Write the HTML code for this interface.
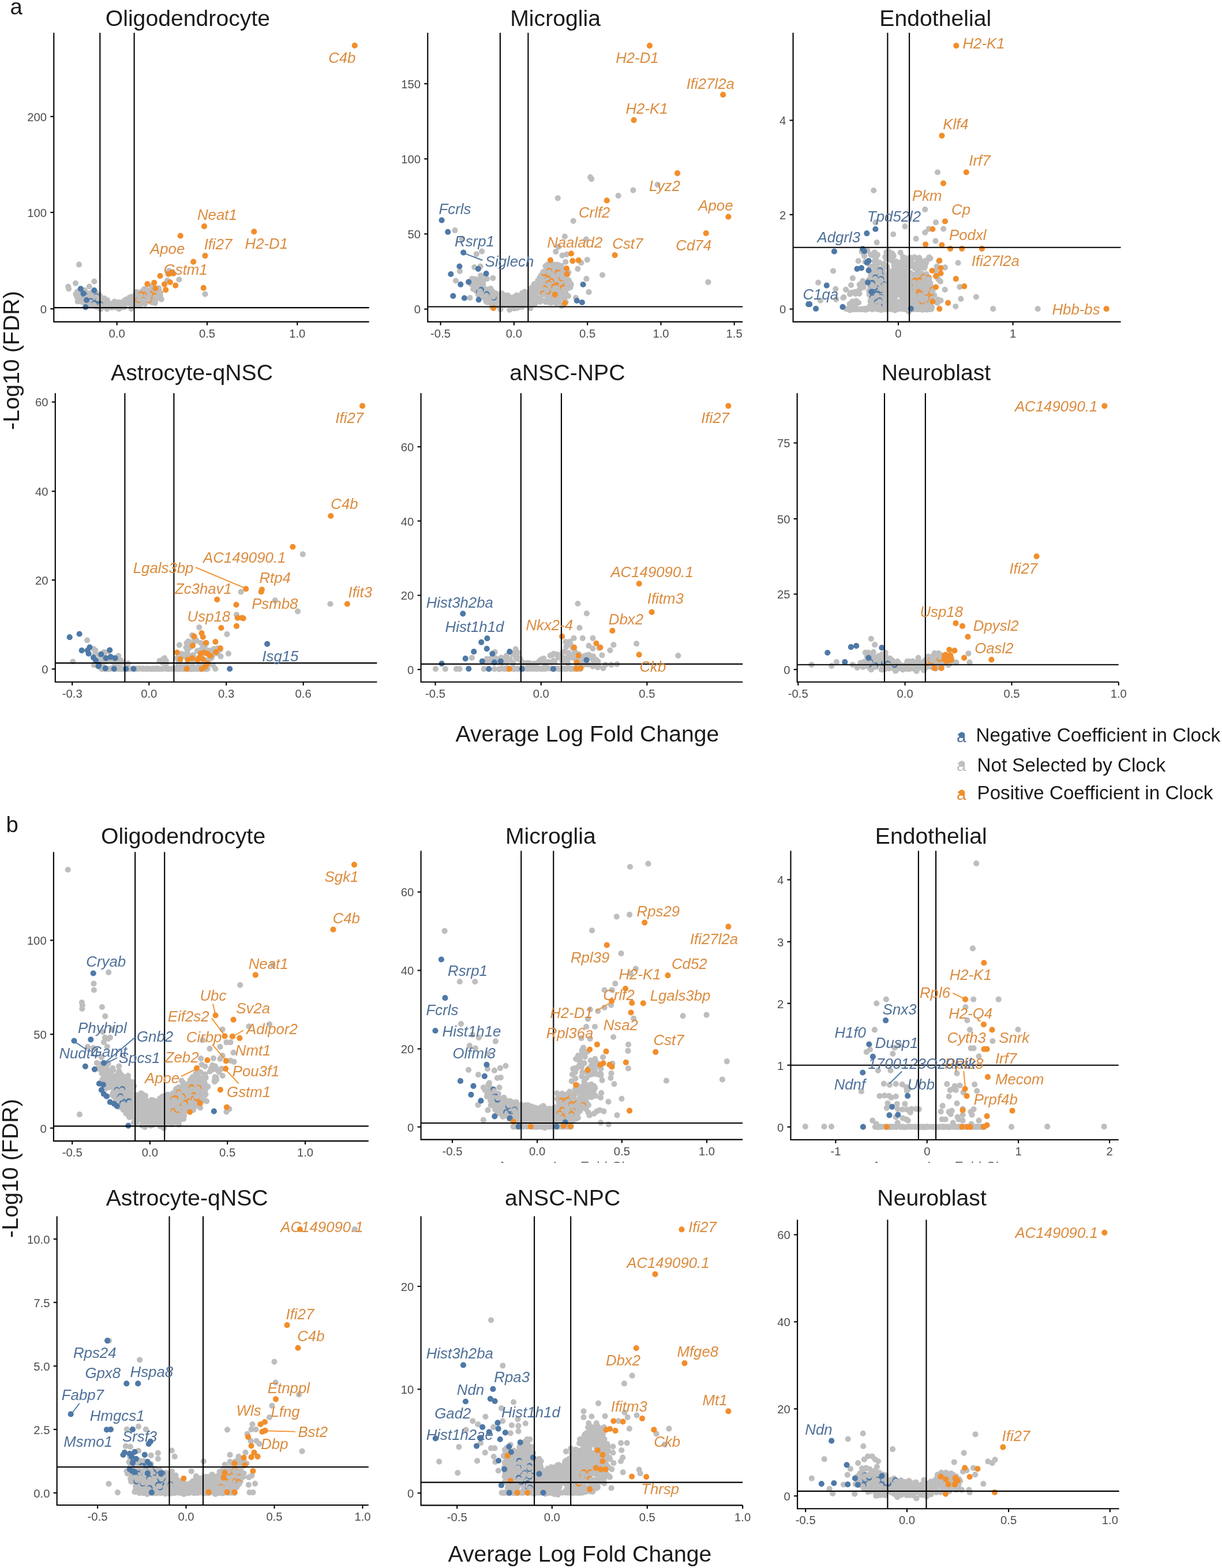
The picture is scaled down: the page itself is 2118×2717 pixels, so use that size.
<!DOCTYPE html>
<html lang="en"><head><meta charset="utf-8"><title>Volcano plots</title>
<style>html,body{margin:0;padding:0;background:#fff}body{width:2118px;height:2717px;overflow:hidden}svg{display:block}</style>
</head><body>
<svg width="2118" height="2717" viewBox="0 0 2118 2717" font-family="'Liberation Sans', Arial, sans-serif">
<rect width="2118" height="2717" fill="#fff"/>
<text x="17.4" y="24.9" font-size="38.3" text-anchor="start" fill="#1a1a1a">a</text>
<text x="10.4" y="1442" font-size="38.3" text-anchor="start" fill="#1a1a1a">b</text>
<text x="1018" y="1285" font-size="39.2" text-anchor="middle" fill="#1a1a1a">Average Log Fold Change</text>
<text x="1005" y="2705.5" font-size="39.2" text-anchor="middle" fill="#1a1a1a">Average Log Fold Change</text>
<text x="33.4" y="624.5" font-size="39.4" text-anchor="middle" fill="#1a1a1a" transform="rotate(-90 33.4 624.5)">-Log10 (FDR)</text>
<text x="31.1" y="2024.5" font-size="39.4" text-anchor="middle" fill="#1a1a1a" transform="rotate(-90 31.1 2024.5)">-Log10 (FDR)</text>
<text x="1666.1" y="1286.1" font-size="29.5" text-anchor="middle" fill="#4F7099">a</text>
<circle cx="1667.1" cy="1273.8" r="5.4" fill="#4E79A7"/>
<text x="1691.5" y="1285.4" font-size="33.2" fill="#1a1a1a">Negative Coefficient in Clock</text>
<text x="1666.1" y="1335.9" font-size="29.5" text-anchor="middle" fill="#BEBEBE">a</text>
<circle cx="1667.1" cy="1323.6" r="5.4" fill="#BEBEBE"/>
<text x="1693.5" y="1336.6" font-size="33.2" fill="#1a1a1a">Not Selected by Clock</text>
<text x="1666.1" y="1386" font-size="29.5" text-anchor="middle" fill="#DB8C3F">a</text>
<circle cx="1667.1" cy="1373.7" r="5.4" fill="#F28E2B"/>
<text x="1693.5" y="1385" font-size="33.2" fill="#1a1a1a">Positive Coefficient in Clock</text>
<clipPath id="gc0"><rect x="857.5" y="2012.8" width="300" height="2.2"/></clipPath>
<g clip-path="url(#gc0)"><text x="862.5" y="2030.4" font-size="24.2" fill="#333" opacity="0.75">Average Log Fold Change</text></g>
<clipPath id="gc1"><rect x="1506" y="2012.8" width="300" height="2.2"/></clipPath>
<g clip-path="url(#gc1)"><text x="1511" y="2030.4" font-size="24.2" fill="#333" opacity="0.75">Average Log Fold Change</text></g>
<g fill="none" stroke-width="10.2" stroke-linecap="round">
<text x="325.4" y="44.8" font-size="39.2" text-anchor="middle" fill="#1a1a1a">Oligodendrocyte</text>
<text x="256.2" y="523.2" font-size="25.8" font-style="italic" text-anchor="middle" fill="#F28E2B" stroke="none">Cst7</text>
<path d="M134.7 522.3h0M137.4 507.6h0M134.7 515.5h0M138.5 513.8h0M134.3 511h0M135.3 508h0M154.6 508.8h0M142.1 523.1h0M138.1 510.5h0M146.6 524.7h0M145.3 519.1h0M149.5 522.2h0M143.4 518.9h0M142.6 512.3h0M149.8 508.2h0M150.1 513.7h0M144.3 517.4h0M142 502.3h0M158.7 507h0M158.9 516.6h0M160.9 509.8h0M171.8 510.7h0M167.5 531.5h0M155.6 527.7h0M159.4 512.7h0M167.2 510.7h0M163.7 517.5h0M167.9 528.9h0M160 521.6h0M169.6 523h0M177.5 530.7h0M164.9 510.6h0M166.7 507.9h0M162.2 509.4h0M174.4 524.8h0M179 531.3h0M172.4 511.1h0M184.1 525.9h0M174.4 535.7h0M185.8 528.2h0M176.2 525h0M184 529.5h0M176 518.1h0M186.1 520.1h0M172.4 524.4h0M181.8 519.3h0M205.1 526.3h0M199.1 532.3h0M192.3 527.9h0M195.3 525.4h0M206.3 535.2h0M203.1 524.5h0M188.9 531.8h0M204.4 532.7h0M207.9 532.3h0M187.2 530.4h0M190.7 527.3h0M207.5 531.1h0M207.8 529.3h0M215.8 520.5h0M206.4 528h0M207.3 531h0M215 525.4h0M209.1 526.6h0M205.2 523.9h0M215.4 532.3h0M204.9 527.2h0M228.7 518.4h0M226.3 516.6h0M228.9 527.8h0M223.9 525.3h0M224.3 515.5h0M227.6 534.8h0M233.5 527.5h0M227.9 522.6h0M228.6 525.7h0M234.1 512h0M243.5 515.5h0M245 505.7h0M241.8 524.5h0M248.6 515.3h0M249.7 501h0M237.6 528.1h0M239.9 517.2h0M247.9 512.2h0M236.4 506.2h0M235.5 526.3h0M237.8 516.2h0M242.4 507.3h0M242.5 528.5h0M239.9 528h0M233.8 517.2h0M240.8 513.5h0M231.9 528.6h0M243 513.4h0M250 507.1h0M263.1 518.6h0M255.9 514.2h0M260.4 506.8h0M257.7 509h0M251.2 526.6h0M259.2 517.8h0M254.9 510.8h0M268.9 525.1h0M252.1 500.6h0M253.3 514.7h0M257.1 519.5h0M263.2 510h0M251.7 507.5h0M251.9 510.6h0M250.2 525.9h0M256.8 510.6h0M264.3 506.2h0M262.2 523.4h0M279.7 518.7h0M272.3 511h0M270.2 506.7h0M269.1 519.7h0M271.7 510.7h0M267.2 518.7h0M276.7 505.6h0M131.4 509.6h0M134.9 515.4h0M137.3 512.5h0M136 521.8h0M133.8 505.7h0M135.6 505.2h0M133.3 514.1h0M143.4 514.7h0M140.2 510.9h0M150.9 521.1h0M143.2 522.9h0M146.8 503.2h0M145.7 515.6h0M149.9 522.1h0M150.1 520h0M140.3 509h0M142.3 506.2h0M150.7 520.2h0M138.8 514h0M147.8 518.6h0M150.9 507.8h0M137.7 516.4h0M139.7 509.8h0M172.3 526h0M171.6 526.4h0M169.5 525.4h0M168 518.1h0M155 509.9h0M165.5 515h0M170.1 516.1h0M155.8 508.7h0M165.4 529.6h0M173.8 513.9h0M163.1 515.5h0M159.1 511.4h0M160.2 514h0M157.9 514.7h0M166.6 517.8h0M166.8 517.8h0M169.8 525.3h0M158.8 520.2h0M155.6 526.2h0M161 511.5h0M181.6 523.6h0M181.6 527.5h0M173.8 525.1h0M176.6 523.3h0M184.4 525.4h0M181 517.1h0M185.5 527.7h0M174.2 528.2h0M176.3 530.6h0M187.7 531.7h0M185.5 535.1h0M176.8 518.2h0M179 524.7h0M191.6 531.8h0M188 527.4h0M201.6 529.8h0M198.4 522.6h0M201.7 531.6h0M200.9 529.4h0M199.9 530.6h0M203.7 530.5h0M199.9 530.2h0M189.5 529.6h0M208.5 533.7h0M195.8 532.1h0M194.1 532.8h0M208.3 531.9h0M208.3 524h0M218.8 518.9h0M213.5 531.5h0M208.2 527.4h0M216 527.9h0M209.2 528.6h0M208.8 529.9h0M206 528.9h0M207 529.8h0M214.9 527.9h0M217.8 524.3h0M225.7 524.1h0M227.4 514.4h0M224.4 521.5h0M224.2 526h0M229.6 524.9h0M227 524.2h0M230.2 524.9h0M238 524.4h0M230.6 516.6h0M224.4 525.1h0M230.1 531h0M234.7 521.7h0M239.5 522h0M235.8 513.5h0M249.4 524.2h0M244.8 515.6h0M245.6 521.4h0M235.6 511h0M243.8 515.7h0M248.1 503.3h0M243.4 508.9h0M244 516.6h0M242.1 517.9h0M248.9 515.9h0M247.6 522.9h0M243.6 509.7h0M244.2 515.3h0M246.5 521.6h0M235.7 515.8h0M249.1 512h0M240.6 518.7h0M240.1 514.9h0M258.4 508.2h0M258.6 502.8h0M245.9 505.8h0M246.5 519.8h0M263.9 519h0M252.7 503.1h0M261.4 511.1h0M250.9 522.1h0M262.5 512.7h0M265.8 512.4h0M258.5 509h0M249.9 517.9h0M251.4 513.9h0M263.7 507.7h0M248.6 518h0M260.2 502.5h0M262.8 496.2h0M264 524.1h0M251.6 524.5h0M258.4 508.6h0M264.1 506.8h0M269 517.5h0M267.5 514.3h0M267.1 519.9h0M269 505.8h0M270.6 511.4h0M270.4 513.4h0M276.2 509.6h0M274.2 507h0M270.3 516.2h0" stroke="#BEBEBE"/>
<path d="M167 513h0" stroke="#4E79A7"/>
<path d="M166.5 514.9h0" stroke="#BEBEBE"/>
<path d="M146.8 511.4h0" stroke="#4E79A7"/>
<path d="M148.3 514h0" stroke="#BEBEBE"/>
<path d="M157.4 521.7h0" stroke="#4E79A7"/>
<path d="M157.3 523.9h0" stroke="#BEBEBE"/>
<path d="M173.6 526.9h0" stroke="#4E79A7"/>
<path d="M174.6 529.9h0" stroke="#BEBEBE"/>
<path d="M168.7 520.2h0" stroke="#4E79A7"/>
<path d="M169.7 517.1h0" stroke="#BEBEBE"/>
<path d="M163.1 526h0" stroke="#4E79A7"/>
<path d="M162.7 528h0" stroke="#BEBEBE"/>
<path d="M249.4 510.7h0" stroke="#F28E2B"/>
<path d="M248.6 513.2h0" stroke="#BEBEBE"/>
<path d="M263 509.5h0" stroke="#F28E2B"/>
<path d="M261.7 511.4h0" stroke="#BEBEBE"/>
<path d="M244.7 509.6h0" stroke="#F28E2B"/>
<path d="M243.7 512.6h0" stroke="#BEBEBE"/>
<path d="M261.8 520.7h0" stroke="#F28E2B"/>
<path d="M262.5 523.4h0" stroke="#BEBEBE"/>
<path d="M248.3 519.5h0" stroke="#F28E2B"/>
<path d="M249.2 521.3h0" stroke="#BEBEBE"/>
<path d="M266.9 505.1h0" stroke="#F28E2B"/>
<path d="M268.2 502.7h0" stroke="#BEBEBE"/>
<path d="M258.1 520.7h0" stroke="#F28E2B"/>
<path d="M257.1 518.8h0" stroke="#BEBEBE"/>
<path d="M239.2 519h0" stroke="#F28E2B"/>
<path d="M240.7 521.9h0" stroke="#BEBEBE"/>
<path d="M240.1 520.2h0" stroke="#F28E2B"/>
<path d="M241.1 518.4h0" stroke="#BEBEBE"/>
<path d="M267.8 513.4h0" stroke="#F28E2B"/>
<path d="M269 515.1h0" stroke="#BEBEBE"/>
<path d="M614.8 78.8h0M440.3 401.3h0" stroke="#F28E2B"/>
<path d="M137 458.4h0M131 490.9h0M163.3 487.7h0M118.2 496.5h0M119.1 500.3h0M154.8 496.5h0M310.4 484.5h0M355.5 509.7h0M275.1 499.3h0M290.1 486.2h0M277.9 512.5h0M292.9 469.3h0" stroke="#BEBEBE"/>
<path d="M139.8 500.3h0M144.5 508.7h0M150.1 520h0M163.3 503.1h0M148.3 532.2h0" stroke="#4E79A7"/>
<path d="M354 392.2h0M312.7 408.7h0M355.5 443.1h0M335.2 453.7h0M277.5 478.1h0M292 474.9h0M296.7 473.4h0M300.5 474h0M255.4 492.2h0M267.2 489.9h0M285 492.7h0M294.8 489h0M304.2 494.6h0M287.3 502.1h0M269.4 499.7h0M352.7 498.9h0" stroke="#F28E2B"/>
<line x1="173.3" y1="56.8" x2="173.3" y2="557.6" stroke="#000" stroke-width="2.1" stroke-linecap="butt"/>
<line x1="232.6" y1="56.8" x2="232.6" y2="557.6" stroke="#000" stroke-width="2.1" stroke-linecap="butt"/>
<line x1="93.3" y1="533.1" x2="639.7" y2="533.1" stroke="#000" stroke-width="2.1" stroke-linecap="butt"/>
<path d="M93.3 56.8V557.6H639.7" fill="none" stroke="#000" stroke-width="2.1" stroke-linecap="butt" stroke-linejoin="miter"/>
<line x1="87.3" y1="201.9" x2="93.3" y2="201.9" stroke="#000" stroke-width="2.1" stroke-linecap="butt"/>
<text x="81.1" y="209.7" font-size="20.3" text-anchor="end" fill="#4d4d4d">200</text>
<line x1="87.3" y1="368.1" x2="93.3" y2="368.1" stroke="#000" stroke-width="2.1" stroke-linecap="butt"/>
<text x="81.1" y="375.9" font-size="20.3" text-anchor="end" fill="#4d4d4d">100</text>
<line x1="87.3" y1="535.2" x2="93.3" y2="535.2" stroke="#000" stroke-width="2.1" stroke-linecap="butt"/>
<text x="81.1" y="543" font-size="20.3" text-anchor="end" fill="#4d4d4d">0</text>
<line x1="202.7" y1="557.6" x2="202.7" y2="563.6" stroke="#000" stroke-width="2.1" stroke-linecap="butt"/>
<text x="202.7" y="584.8" font-size="20.3" text-anchor="middle" fill="#4d4d4d">0.0</text>
<line x1="359" y1="557.6" x2="359" y2="563.6" stroke="#000" stroke-width="2.1" stroke-linecap="butt"/>
<text x="359" y="584.8" font-size="20.3" text-anchor="middle" fill="#4d4d4d">0.5</text>
<line x1="515.3" y1="557.6" x2="515.3" y2="563.6" stroke="#000" stroke-width="2.1" stroke-linecap="butt"/>
<text x="515.3" y="584.8" font-size="20.3" text-anchor="middle" fill="#4d4d4d">1.0</text>
<text x="592.8" y="109.1" font-size="25.8" font-style="italic" text-anchor="middle" fill="#DB8C3F">C4b</text>
<text x="376.4" y="380.6" font-size="25.8" font-style="italic" text-anchor="middle" fill="#DB8C3F">Neat1</text>
<text x="290.2" y="439.5" font-size="25.8" font-style="italic" text-anchor="middle" fill="#DB8C3F">Apoe</text>
<text x="461.8" y="431.2" font-size="25.8" font-style="italic" text-anchor="middle" fill="#DB8C3F">H2-D1</text>
<text x="378.1" y="432" font-size="25.8" font-style="italic" text-anchor="middle" fill="#DB8C3F">Ifi27</text>
<text x="321.7" y="476" font-size="25.8" font-style="italic" text-anchor="middle" fill="#DB8C3F">Gstm1</text>
</g>
<g fill="none" stroke-width="10.2" stroke-linecap="round">
<text x="962.6" y="44.8" font-size="39.2" text-anchor="middle" fill="#1a1a1a">Microglia</text>
<path d="M820.3 486.6h0M826.2 487.3h0M822.8 494.5h0M818.3 482.9h0M826 488.2h0M824.4 483.9h0M826.8 490.9h0M826.8 500.2h0M824.1 496.9h0M844.9 504.1h0M844.3 513.6h0M837.1 487.9h0M835.5 509.2h0M835.1 488.9h0M840 507h0M842.3 522.2h0M835.7 501h0M830.5 485.1h0M832.8 495h0M834.3 503.2h0M831.7 488h0M835.4 496.7h0M844.1 523.6h0M844 511.1h0M833.5 509.1h0M843.1 514.6h0M834.9 499.9h0M850.7 507.7h0M853.1 531.9h0M851.8 516.6h0M844.2 508.8h0M854.2 521.5h0M856.8 516.3h0M848.3 508h0M849.4 523.1h0M853.7 504.8h0M850.9 525.6h0M843.8 501.5h0M845.9 519.9h0M845.4 510.5h0M858.8 515.6h0M857.4 527.6h0M864 526.3h0M858.6 528.6h0M862.5 530h0M862.3 509.9h0M857.3 510h0M859.1 529.7h0M858.5 508h0M867.6 521.9h0M864.4 511.7h0M880 511.9h0M872.2 523.4h0M867.5 536.1h0M869.7 508.3h0M872.2 515.9h0M866.5 533.6h0M889.5 531.5h0M884.6 522.3h0M874 515.6h0M880.8 515h0M889.6 526.4h0M883.1 524.3h0M883.3 521.3h0M876.7 526.5h0M873.4 511.4h0M872.3 520.8h0M881.7 513.4h0M890.1 515.2h0M878.6 520.8h0M872.3 515.6h0M861.9 524.5h0M877.3 528.5h0M869.7 514.2h0M896.2 533.7h0M905 531.7h0M902.6 511.8h0M908.7 508.2h0M893.2 534h0M899.8 532.2h0M909.2 505.7h0M892.6 521.8h0M906.4 509.9h0M899 519h0M895.1 511.9h0M893.6 526.5h0M889.9 519.3h0M904.8 508.1h0M907.9 515.7h0M902.9 511.8h0M898.4 517.4h0M902.2 530.9h0M903.6 530.6h0M900 512.4h0M902.7 523.7h0M905.1 515.4h0M908.8 520.1h0M922.8 499.5h0M913.7 529.4h0M913.9 516.9h0M913.7 517.6h0M921.2 503.9h0M922.3 528.3h0M923.8 505.9h0M924.4 515.7h0M915.6 519h0M919.6 533.9h0M923.4 527.1h0M916.6 515.7h0M919.4 516.5h0M922.4 497.8h0M918.5 520.3h0M924.5 496.8h0M920.1 514.4h0M930.7 492.7h0M934.7 497.9h0M927.8 523.8h0M932.3 486h0M934.1 495h0M924.1 505.6h0M933 494.2h0M933.9 504.6h0M925.2 511.9h0M935.9 516.2h0M924.8 527.4h0M933.2 502.2h0M924.6 508.4h0M934.5 519.1h0M933.3 517.8h0M940.8 486.4h0M934.2 521.3h0M926 492.1h0M923.1 501.6h0M935.2 522.2h0M939.4 494.3h0M944.8 504.6h0M942.1 492h0M953.6 488.3h0M945.2 495.4h0M949.8 493.5h0M948.3 468.3h0M952.5 477.2h0M945.5 461h0M943 477.3h0M947.7 512h0M946 510.1h0M946.3 474.1h0M945.2 502.1h0M944.1 521.6h0M945.2 471.2h0M949.7 523.5h0M951.2 491.6h0M947.8 479.8h0M947.5 520.8h0M946.5 490.7h0M948.9 467.1h0M945.9 523.2h0M948.8 458.5h0M952.2 513.4h0M935.4 500.4h0M941.8 498.2h0M941.1 472.1h0M950.3 466.9h0M951.9 519.6h0M949 487.1h0M937 486.5h0M961.4 516.1h0M960.7 477.4h0M964.6 514.6h0M958.8 483.4h0M961.5 503.9h0M954.2 509.5h0M965.7 458.6h0M960.5 458.9h0M967.3 480.2h0M964.4 469.5h0M960.3 470.9h0M955.9 513.5h0M968.6 523h0M967.2 504.3h0M960.9 490.8h0M957.2 457.6h0M966.2 460.3h0M960.4 507.1h0M956.1 469.5h0M954.2 521.9h0M965.6 490.7h0M965.8 474.7h0M959.4 496.2h0M966.7 474.5h0M954.8 474.9h0M965.7 509.5h0M959.3 463.1h0M955.8 524.3h0M968.7 470.8h0M970 463.2h0M981.6 481.2h0M972 502.1h0M972.4 489.5h0M970.1 498.3h0M968.5 508.8h0M976.6 509.2h0M979.1 477.9h0M970.5 493.5h0M975.6 484.3h0M977.1 516.7h0M975.5 508h0M980.6 523.3h0M964 523.3h0M969 468.3h0M970.4 479.9h0M972.6 503.7h0M972.1 464.8h0M972.9 460.8h0M980 522.7h0M974.4 484.3h0M966 464.9h0M977 486.7h0M973.5 500.7h0M980.4 494.2h0M966.7 474h0M982.6 475.4h0M983.4 475.7h0M979.1 477.7h0M981.7 466.9h0M980.8 494.8h0M982.2 491.3h0M977.9 474.3h0M979.8 482.8h0M989.4 492.8h0M984.4 499.5h0M988.3 498.1h0M983.9 486.3h0M989.4 492.1h0M823.9 499.7h0M816.8 492.5h0M820.2 500.8h0M821.3 498h0M825 501.9h0M820.4 493.5h0M826 493.3h0M823.9 495.1h0M824.4 494.5h0M825.2 503.9h0M825.3 499.6h0M832.8 502.1h0M830 502.5h0M837 499.1h0M829 500.6h0M844.7 508.6h0M837.7 506.2h0M828.9 510.7h0M840.8 505.9h0M838.4 513h0M834.8 479.2h0M839.6 516.2h0M826.9 491.5h0M840.8 514.4h0M841.4 508.3h0M830.5 490.3h0M837.1 495.1h0M837.2 492.8h0M838.1 507.6h0M835 485.9h0M829.9 502.2h0M845.3 511.2h0M843 516.2h0M851.3 509.1h0M850.7 516.4h0M843.7 519.1h0M853.1 522.1h0M849.9 518.1h0M848.7 509.5h0M853.2 516.1h0M853.5 519.5h0M846.3 517h0M851.4 515.1h0M847 511.1h0M850.4 500.2h0M851.7 513.7h0M857.6 518.4h0M861.4 518.2h0M861.3 516.4h0M863.9 520.9h0M866 520.6h0M864.2 521.1h0M854.6 517.5h0M858.1 525h0M858.5 518.9h0M859.4 512.2h0M858.3 515.4h0M860.5 524h0M863.9 528.4h0M886.5 523.7h0M873.7 527h0M886.5 520.9h0M882.3 527.6h0M887.7 523.4h0M872.5 518.8h0M867 528h0M886.9 528.4h0M877.7 520.6h0M874.5 526.9h0M876 526.3h0M883.1 527.5h0M887.6 520.5h0M876.1 519h0M877 525.8h0M886.8 527.1h0M869 524.2h0M878.4 515.2h0M886.3 519.1h0M885.1 521.2h0M866.5 523.1h0M874.8 529.4h0M868.6 519h0M884.2 525.6h0M883.1 536.8h0M880.3 525.1h0M869.3 522.3h0M884.1 527h0M890.9 534.3h0M906.9 521.6h0M909.1 522.4h0M905.3 510.6h0M895.9 524.6h0M902.3 524h0M903.8 527.4h0M891.2 533h0M895.3 532.2h0M907.5 525.9h0M900.5 513.6h0M894.2 516.1h0M902.8 529.9h0M907.9 512.2h0M891.5 525.3h0M901.9 524.3h0M905.5 517.6h0M911.2 506.6h0M907.6 520.8h0M909.4 515.7h0M899.1 530.4h0M892.5 516.5h0M901 524.6h0M896.9 520.1h0M898.2 521.9h0M897.3 525.2h0M914.9 512h0M920.8 505.9h0M913.7 516.9h0M915.1 514.9h0M912.1 512.2h0M920.1 500.4h0M922.2 517.2h0M918.6 517.9h0M925.8 526.3h0M923.8 501.6h0M914.3 509.6h0M911.5 515.2h0M916.2 514.9h0M921.7 513.9h0M920.3 514.3h0M912.1 508.5h0M924.5 515.8h0M921.5 509h0M914.5 507.1h0M940.5 505h0M935.3 481.3h0M927.7 511.3h0M932 499.5h0M938.3 494.4h0M929.8 506h0M935.3 503h0M929.2 515.6h0M935.9 491.9h0M938.1 503.2h0M929.6 507.8h0M928.8 517.3h0M928.2 522.2h0M938.1 502.2h0M928.4 503.4h0M927.2 526.3h0M924.5 500.6h0M923.2 507.1h0M939.4 506.1h0M929.7 520.5h0M924.8 517.8h0M930.2 505.9h0M927.8 512.1h0M928.7 523.5h0M922.4 516.3h0M941.6 494.4h0M943.5 487.1h0M949.2 479.6h0M940 508.6h0M940.4 485.6h0M938.1 520.2h0M941.6 502.8h0M942.6 505.6h0M949.1 476.6h0M944.5 494.3h0M946.9 488.8h0M952.9 479.4h0M955.5 479.7h0M954 483.6h0M952.4 501h0M937.8 477h0M945.4 478.1h0M945.4 495.8h0M938.4 507.2h0M946.9 482.3h0M950.9 507h0M946.9 506.7h0M940.5 480h0M935.8 516.9h0M953 497.3h0M944.7 485.1h0M947.9 504.8h0M950.6 484.9h0M947.8 477.1h0M941.8 480.6h0M951.1 502.6h0M951.5 494.4h0M950.2 497.4h0M945.7 497.3h0M936.2 523h0M952.9 492.5h0M965 480.6h0M962.3 497.7h0M957.3 490.3h0M957.1 494.8h0M963.9 496.6h0M959 469.2h0M962.4 517.8h0M957.5 465h0M954.5 498.2h0M957.2 503.8h0M959.9 469.6h0M966.4 499.9h0M956.7 514.3h0M963.6 495.9h0M959.3 488.9h0M957.8 469.9h0M964.8 482.7h0M962.6 476h0M955.5 480.5h0M957.1 498.5h0M961.6 495.4h0M954.7 479.7h0M969.9 497.4h0M959.8 469.5h0M957.9 487.7h0M954.3 524.6h0M961.9 510.2h0M968.1 489.6h0M963.2 476.7h0M961.3 483.6h0M952.5 482.4h0M957.3 492.8h0M952 503.4h0M977.8 517.1h0M970.2 470.6h0M978.3 493.6h0M979.9 496.8h0M969.7 499.3h0M968 459.4h0M976.8 495.6h0M975.8 491.1h0M978.8 481h0M974.1 516.3h0M966.9 488.1h0M969.1 515.4h0M975.4 472h0M969.9 501.1h0M976.8 481.1h0M968 473.6h0M968.8 488.1h0M971.1 470.9h0M975.2 509.2h0M977.8 506.7h0M975.3 482.1h0M971.8 481.2h0M970.3 487.1h0M979.8 489.1h0M974 495.1h0M969.8 510h0M980.3 484.9h0M968.9 480h0M977 472.6h0M970.3 484.4h0M977.8 468h0M975.5 477.9h0M970.4 489.2h0M977.3 485.7h0M985.3 472.1h0M981.7 490h0M977.8 491.5h0M981.5 492.7h0M983.1 487h0M980.4 507.4h0M983.2 496.9h0M981.7 500.8h0M984.3 490.9h0M978.1 496.8h0M985.2 492.8h0M985.9 485.5h0M985.3 491.2h0M986.6 490.7h0M987.3 489.3h0" stroke="#BEBEBE"/>
<path d="M833.9 508.3h0" stroke="#4E79A7"/>
<path d="M834.9 509.9h0" stroke="#BEBEBE"/>
<path d="M829.9 506.4h0" stroke="#4E79A7"/>
<path d="M830.8 508.6h0" stroke="#BEBEBE"/>
<path d="M843.7 509.6h0" stroke="#4E79A7"/>
<path d="M843 512.4h0" stroke="#BEBEBE"/>
<path d="M855.9 515.9h0" stroke="#4E79A7"/>
<path d="M855 514.2h0" stroke="#BEBEBE"/>
<path d="M834 502.2h0" stroke="#4E79A7"/>
<path d="M832.2 504.8h0" stroke="#BEBEBE"/>
<path d="M944.4 474.3h0" stroke="#F28E2B"/>
<path d="M943.4 476h0" stroke="#BEBEBE"/>
<path d="M973.1 492h0" stroke="#F28E2B"/>
<path d="M971.7 489.7h0" stroke="#BEBEBE"/>
<path d="M943.1 473.7h0" stroke="#F28E2B"/>
<path d="M942.4 470.7h0" stroke="#BEBEBE"/>
<path d="M950 505.6h0" stroke="#F28E2B"/>
<path d="M949.2 508.5h0" stroke="#BEBEBE"/>
<path d="M968.7 478.1h0" stroke="#F28E2B"/>
<path d="M968.2 480.2h0" stroke="#BEBEBE"/>
<path d="M944.8 499.4h0" stroke="#F28E2B"/>
<path d="M943.1 501.8h0" stroke="#BEBEBE"/>
<path d="M966.5 472.2h0" stroke="#F28E2B"/>
<path d="M967.9 475h0" stroke="#BEBEBE"/>
<path d="M949.7 482.2h0" stroke="#F28E2B"/>
<path d="M949.3 485.3h0" stroke="#BEBEBE"/>
<path d="M952 469h0" stroke="#F28E2B"/>
<path d="M951.6 471.6h0" stroke="#BEBEBE"/>
<path d="M956 487.3h0" stroke="#F28E2B"/>
<path d="M954.8 490.2h0" stroke="#BEBEBE"/>
<path d="M974.7 483.3h0" stroke="#F28E2B"/>
<path d="M975.5 485.4h0" stroke="#BEBEBE"/>
<path d="M965.2 494h0" stroke="#F28E2B"/>
<path d="M966.9 496.4h0" stroke="#BEBEBE"/>
<path d="M941.2 508.4h0" stroke="#F28E2B"/>
<path d="M942.4 510.5h0" stroke="#BEBEBE"/>
<path d="M950.8 490.5h0" stroke="#F28E2B"/>
<path d="M951.3 493h0" stroke="#BEBEBE"/>
<path d="M973.6 482.7h0" stroke="#F28E2B"/>
<path d="M975.1 481.1h0" stroke="#BEBEBE"/>
<path d="M963.4 494.8h0" stroke="#F28E2B"/>
<path d="M962.8 498h0" stroke="#BEBEBE"/>
<path d="M960.3 496.7h0" stroke="#F28E2B"/>
<path d="M962 499.4h0" stroke="#BEBEBE"/>
<path d="M949.6 505.1h0" stroke="#F28E2B"/>
<path d="M947.8 503.5h0" stroke="#BEBEBE"/>
<path d="M975.2 498.5h0" stroke="#F28E2B"/>
<path d="M976.8 501.4h0M1023.2 307.2h0M1025.2 310.1h0M966.8 343.3h0M1071.7 339.1h0M1097.4 329.6h0M1139.6 320h0M1227.5 488.8h0" stroke="#BEBEBE"/>
<path d="M1126 79.2h0M1253.2 164.2h0M1098.6 208.1h0M1174.1 300.1h0M1051.8 347.4h0M1262.4 375.6h0M1223.8 404.2h0" stroke="#F28E2B"/>
<path d="M993.7 382.9h0M788.5 399.1h0M800.7 413.6h0M978.9 409.8h0M1015.9 414.5h0M968 427.6h0M963.3 436.1h0M835.1 435.7h0M825.7 440.4h0M974.5 442.7h0M982.1 440.8h0M1017.8 450.2h0M1007.4 455.3h0M980.2 454h0M1001.4 465.8h0M1044.1 476.5h0M1016.4 483.1h0M822.3 463h0M832.7 461.5h0M797 469.9h0M833.2 477.4h0M854.3 481.8h0M844 483.1h0M790 486.5h0M986.8 489.7h0M989.6 493.4h0M984.9 498.1h0M978.3 505.6h0M1020.6 506.2h0M984.9 513.1h0M998 516h0M814.5 516h0M964.2 525.4h0M973.6 530.1h0" stroke="#BEBEBE"/>
<path d="M765.6 381.6h0M776.3 401.9h0M803.2 437.6h0M796.4 461.5h0M828.9 465.8h0M842.6 474.1h0M781.4 475h0M812.2 488.7h0M798.3 492.8h0M785.3 512.8h0M804.9 516.5h0M829.7 519.3h0M1010.6 493h0M999.9 521h0M1008.9 524h0" stroke="#4E79A7"/>
<path d="M990 439.3h0M953.9 450.8h0M992.4 452.1h0M1002.7 451.1h0M1065.7 442.1h0M961.8 510.7h0M978.9 525.4h0M855.2 533.8h0M982.1 465.2h0M982.6 475h0" stroke="#F28E2B"/>
<line x1="866.9" y1="56.8" x2="866.9" y2="557.6" stroke="#000" stroke-width="2.1" stroke-linecap="butt"/>
<line x1="915.4" y1="56.8" x2="915.4" y2="557.6" stroke="#000" stroke-width="2.1" stroke-linecap="butt"/>
<line x1="741.3" y1="531.5" x2="1287.2" y2="531.5" stroke="#000" stroke-width="2.1" stroke-linecap="butt"/>
<path d="M741.3 56.8V557.6H1287.2" fill="none" stroke="#000" stroke-width="2.1" stroke-linecap="butt" stroke-linejoin="miter"/>
<line x1="735.3" y1="145.1" x2="741.3" y2="145.1" stroke="#000" stroke-width="2.1" stroke-linecap="butt"/>
<text x="729.1" y="152.9" font-size="20.3" text-anchor="end" fill="#4d4d4d">150</text>
<line x1="735.3" y1="275.3" x2="741.3" y2="275.3" stroke="#000" stroke-width="2.1" stroke-linecap="butt"/>
<text x="729.1" y="283.1" font-size="20.3" text-anchor="end" fill="#4d4d4d">100</text>
<line x1="735.3" y1="405.4" x2="741.3" y2="405.4" stroke="#000" stroke-width="2.1" stroke-linecap="butt"/>
<text x="729.1" y="413.2" font-size="20.3" text-anchor="end" fill="#4d4d4d">50</text>
<line x1="735.3" y1="535.6" x2="741.3" y2="535.6" stroke="#000" stroke-width="2.1" stroke-linecap="butt"/>
<text x="729.1" y="543.4" font-size="20.3" text-anchor="end" fill="#4d4d4d">0</text>
<line x1="763.6" y1="557.6" x2="763.6" y2="563.6" stroke="#000" stroke-width="2.1" stroke-linecap="butt"/>
<text x="763.6" y="584.8" font-size="20.3" text-anchor="middle" fill="#4d4d4d">-0.5</text>
<line x1="890.9" y1="557.6" x2="890.9" y2="563.6" stroke="#000" stroke-width="2.1" stroke-linecap="butt"/>
<text x="890.9" y="584.8" font-size="20.3" text-anchor="middle" fill="#4d4d4d">0.0</text>
<line x1="1018.2" y1="557.6" x2="1018.2" y2="563.6" stroke="#000" stroke-width="2.1" stroke-linecap="butt"/>
<text x="1018.2" y="584.8" font-size="20.3" text-anchor="middle" fill="#4d4d4d">0.5</text>
<line x1="1145.5" y1="557.6" x2="1145.5" y2="563.6" stroke="#000" stroke-width="2.1" stroke-linecap="butt"/>
<text x="1145.5" y="584.8" font-size="20.3" text-anchor="middle" fill="#4d4d4d">1.0</text>
<line x1="1272.7" y1="557.6" x2="1272.7" y2="563.6" stroke="#000" stroke-width="2.1" stroke-linecap="butt"/>
<text x="1272.7" y="584.8" font-size="20.3" text-anchor="middle" fill="#4d4d4d">1.5</text>
<line x1="805.9" y1="439.4" x2="836.2" y2="451" stroke="#4E79A7" stroke-width="1.9" stroke-linecap="butt"/>
<text x="1104.4" y="109.1" font-size="25.8" font-style="italic" text-anchor="middle" fill="#DB8C3F">H2-D1</text>
<text x="1231.3" y="153.5" font-size="25.8" font-style="italic" text-anchor="middle" fill="#DB8C3F">Ifi27l2a</text>
<text x="1121" y="197" font-size="25.8" font-style="italic" text-anchor="middle" fill="#DB8C3F">H2-K1</text>
<text x="1152.1" y="330.5" font-size="25.8" font-style="italic" text-anchor="middle" fill="#DB8C3F">Lyz2</text>
<text x="1030.2" y="376.5" font-size="25.8" font-style="italic" text-anchor="middle" fill="#DB8C3F">Crlf2</text>
<text x="1240.4" y="364.9" font-size="25.8" font-style="italic" text-anchor="middle" fill="#DB8C3F">Apoe</text>
<text x="1202.2" y="434.1" font-size="25.8" font-style="italic" text-anchor="middle" fill="#DB8C3F">Cd74</text>
<text x="1087.8" y="431.2" font-size="25.8" font-style="italic" text-anchor="middle" fill="#DB8C3F">Cst7</text>
<text x="996.2" y="429.1" font-size="25.8" font-style="italic" text-anchor="middle" fill="#DB8C3F">Naalad2</text>
<text x="788.5" y="371.1" font-size="25.8" font-style="italic" text-anchor="middle" fill="#4F7099">Fcrls</text>
<text x="822.5" y="427.1" font-size="25.8" font-style="italic" text-anchor="middle" fill="#4F7099">Rsrp1</text>
<text x="883" y="462.3" font-size="25.8" font-style="italic" text-anchor="middle" fill="#4F7099">Siglech</text>
</g>
<g fill="none" stroke-width="10.2" stroke-linecap="round">
<text x="1621.3" y="44.8" font-size="39.2" text-anchor="middle" fill="#1a1a1a">Endothelial</text>
<path d="M1515.4 523.3h0M1515.8 493.3h0M1509.1 519.5h0M1515.7 491h0M1515.9 493.6h0M1517.3 478.8h0M1519.7 509.9h0M1508 490.4h0M1522 496.8h0M1521.9 527h0M1520.8 476.4h0M1514.9 503.6h0M1512.7 484.9h0M1513.1 485.9h0M1509.4 477.5h0M1505.9 484.8h0M1510 510.1h0M1523 513.5h0M1518 487.8h0M1512.3 510h0M1510.7 480.7h0M1507.2 530.8h0M1524.4 478.6h0M1511.8 485.5h0M1520.8 479.3h0M1519.6 526.6h0M1509.4 504.8h0M1517 491.5h0M1509.8 480.7h0M1511.2 488.2h0M1508.5 522.6h0M1513.4 495h0M1516.6 528.3h0M1528.8 499.3h0M1533 504.5h0M1528.3 485.4h0M1532.5 515h0M1528.4 505.2h0M1530.2 527.1h0M1528.9 517.3h0M1527.2 537.1h0M1528.3 533.7h0M1539.7 508.4h0M1523.6 488.4h0M1538.2 514h0M1532.9 508h0M1534.5 475.8h0M1537.9 518.8h0M1528.2 529.3h0M1522.9 476h0M1533.3 476h0M1534.9 475.2h0M1532.7 535h0M1525.4 506.4h0M1535.4 522.4h0M1531.6 534.4h0M1540.9 485.9h0M1524.2 501.3h0M1534.4 485.1h0M1526.6 476.5h0M1528.1 498.6h0M1532 515.1h0M1540 490.9h0M1541.2 470.6h0M1534.3 498.7h0M1529.2 485.9h0M1542.3 531.9h0M1535.3 509.9h0M1536.9 481.4h0M1520.5 474.4h0M1530.2 521.7h0M1529.3 527.8h0M1537 506.2h0M1524.5 491.7h0M1521.6 504.9h0M1525.8 494.4h0M1539.5 500.1h0M1530.9 522.3h0M1535.8 529.8h0M1530.6 471.7h0M1528.2 487.7h0M1567 516.3h0M1545.8 490.5h0M1562.1 499.3h0M1544.4 505.9h0M1542.6 506.9h0M1568.6 479.8h0M1573.5 506.6h0M1565.2 472.2h0M1575.1 495.7h0M1560 497.8h0M1567.9 489.3h0M1555.4 477.3h0M1571 513.9h0M1542.7 532.7h0M1556.2 503.2h0M1567.6 519h0M1552.5 468.6h0M1547.5 526.7h0M1559.1 492.8h0M1560.4 481.3h0M1546.8 529.4h0M1542.4 505.9h0M1553.8 497.8h0M1550.1 499.5h0M1567.6 533.1h0M1576.1 502.7h0M1569.3 481h0M1545.9 474.4h0M1540.9 489.6h0M1569.1 495.2h0M1543.9 483.2h0M1564.7 485.9h0M1546.7 500.6h0M1562.3 481.6h0M1564.7 499.1h0M1548 489.4h0M1561.2 500h0M1578.2 472.8h0M1555.9 471.8h0M1552.2 467.5h0M1547.7 469.1h0M1538 527.6h0M1543.8 475.7h0M1550.2 507.5h0M1550.7 505.8h0M1544 485.1h0M1561.3 465.5h0M1566.6 483.2h0M1558.5 477h0M1564.7 474.3h0M1577.5 510.3h0M1566 475h0M1566.2 475.9h0M1556.2 477.3h0M1544.2 501.5h0M1562.6 512.1h0M1540.7 519.1h0M1560.5 507.3h0M1564.1 523.6h0M1543.9 524.7h0M1553.5 483.3h0M1552.7 468.9h0M1545.2 528.7h0M1564.5 524.5h0M1560.3 505.4h0M1564.7 498h0M1548.5 488.6h0M1579.3 493.9h0M1572.7 480.7h0M1571.1 477.2h0M1575 523.7h0M1574.2 481.7h0M1575.5 521.5h0M1563.1 519.1h0M1568.4 509.7h0M1567.6 518.6h0M1569.5 508.2h0M1570.1 496.3h0M1542.5 515.3h0M1557.4 473.8h0M1549.8 512.8h0M1547.8 479.8h0M1574.4 493.5h0M1543.2 535.7h0M1547.4 530.2h0M1562.1 498.5h0M1552.5 510.7h0M1553 489.1h0M1575 539.8h0M1547.6 490h0M1552.3 529.5h0M1545 498.2h0M1558.8 483.4h0M1559.3 493.9h0M1570.7 467.9h0M1551.8 523.5h0M1545.6 526.6h0M1582.9 495.4h0M1589.5 519.4h0M1590.1 472.3h0M1583.8 521.7h0M1585.1 506.1h0M1581 528.1h0M1585.9 475.9h0M1584.3 482.1h0M1594.8 502.9h0M1576.6 519.7h0M1583.7 480.4h0M1592 493.4h0M1596.9 475.5h0M1588.6 513.3h0M1584 509.4h0M1594.8 512h0M1587.2 490.4h0M1587.9 518.7h0M1585.5 511.7h0M1587 521.2h0M1591.4 483.5h0M1590.5 529.5h0M1592 490.6h0M1583.9 516.4h0M1592.6 473.3h0M1592 480.9h0M1580.2 514.7h0M1586.6 496.2h0M1594.8 482.2h0M1582.8 501.3h0M1581.5 518.9h0M1595.9 490.2h0M1595.7 495h0M1578.2 512.4h0M1583.6 534h0M1585.1 490.5h0M1591.1 527.3h0M1587.3 494.6h0M1582.6 530.1h0M1588.1 510.2h0M1589.7 517.1h0M1583.8 486h0M1582.2 483.6h0M1592.8 527.9h0M1591.1 487.6h0M1595.6 500.8h0M1595.7 482.7h0M1586.3 502.6h0M1601.9 514.1h0M1607.4 509.3h0M1608.8 488.9h0M1599 508.9h0M1595.4 502.1h0M1597.7 474h0M1605.9 498.2h0M1613.3 517.8h0M1596.8 519.4h0M1603.1 486.1h0M1600.6 492.4h0M1604.6 496.6h0M1609.9 510.9h0M1605.5 486.9h0M1599 537h0M1602.1 493.1h0M1600.7 510.7h0M1607.2 494.9h0M1600.1 506.4h0M1608.5 507.6h0M1615.5 505h0M1614.3 508.4h0M1611.7 490.1h0M1601.9 532.5h0M1607.2 524.5h0M1608.6 497.3h0M1601.2 502.8h0M1599.6 526.3h0M1606.7 536.4h0M1605.6 486.7h0M1598.4 533.5h0M1602.9 523h0M1597.2 509.6h0M1606.6 512.3h0M1615 531.9h0M1594.2 503.9h0M1604 529.6h0M1600.7 504.8h0M1598.1 486.9h0M1610.8 512.2h0M1609.2 483h0M1498.1 443.6h0M1493.7 436h0M1503.7 434.3h0M1508.1 461.8h0M1496.2 434.4h0M1499.6 453.5h0M1497.5 441.3h0M1494.8 436.3h0M1519.4 463.7h0M1509.1 441.1h0M1514.3 471h0M1514.8 460.7h0M1515.6 452.7h0M1511 442.5h0M1514 470.6h0M1517.8 442.1h0M1518.3 447.8h0M1520 456.3h0M1515.9 437.3h0M1524.2 455h0M1517.8 457.3h0M1517.6 446.1h0M1539.5 435.1h0M1530.4 463.2h0M1531.6 457h0M1528.9 468.6h0M1533.6 459.6h0M1520.9 441.6h0M1537.8 462.6h0M1522.1 465.1h0M1534.4 445.2h0M1536.5 437.2h0M1517 464.3h0M1540.6 442.8h0M1531.5 464.3h0M1538.8 442.9h0M1536 448.1h0M1531.9 461.1h0M1527.4 467.2h0M1551.1 461h0M1540.1 435.7h0M1555.6 455h0M1549.8 459.5h0M1547.1 452.5h0M1546.3 439.1h0M1556.5 465.9h0M1548.8 442.6h0M1554.8 457.2h0M1557.4 455.3h0M1543.3 440.3h0M1545.5 447.1h0M1548.7 443.7h0M1553.3 453h0M1544 450.7h0M1550.4 463.4h0M1550.9 460.6h0M1564.7 457.8h0M1565.1 445.4h0M1564 470.1h0M1561 465.2h0M1562.1 453.9h0M1569.5 447.3h0M1562.3 463h0M1561.7 463h0M1572.6 456h0M1571.1 449.2h0M1577.1 461.7h0M1568.5 470.2h0M1571.3 460.2h0M1565.9 458.2h0M1560.7 437.7h0M1593.1 455.3h0M1580.5 447.5h0M1577.4 446.3h0M1580 455.3h0M1588.7 456.5h0M1579.7 452.6h0M1591.8 465.9h0M1594.3 465h0M1586.1 465.2h0M1581.2 461.2h0M1593.2 446.7h0M1591.2 450.9h0M1584.9 445.7h0M1604.1 451.9h0M1602.2 464.4h0M1599.7 461.2h0M1610.4 445.8h0M1612.4 447.7h0M1603.2 461.5h0M1609.5 449h0M1596.2 451.9h0M1596.1 452.9h0M1605.1 455.6h0M1477.3 522.5h0M1482.8 509.1h0M1484 521.4h0M1478.2 532h0M1473.1 509.7h0M1473 537.3h0M1472.6 526.8h0M1462.5 515h0M1474 507.4h0M1495.2 486.8h0M1496.8 498h0M1500.7 536.6h0M1493.4 495.3h0M1489.4 508.8h0M1489.7 493.1h0M1482.4 505.9h0M1488.1 524.5h0M1489.9 501.4h0M1482.2 529h0M1497.7 491.3h0M1593.4 535.6h0M1567.8 535.3h0M1602.8 535.5h0M1503.8 535.7h0M1472.4 535.4h0M1485.9 535.6h0M1483.5 536.1h0M1577.6 535.7h0M1528.4 535.6h0M1550.9 535.5h0M1608.4 536h0M1512.6 535.9h0M1571.6 535.9h0M1472.8 535.8h0M1474.2 536.4h0M1554.8 535.8h0M1584.4 535.7h0M1573.3 535.4h0M1500 535.9h0M1596.9 535.7h0M1605.1 536.2h0M1526.4 535.6h0M1498.2 535.4h0M1537.1 535.4h0M1564.2 535.7h0M1475.2 535.4h0M1481.1 535.2h0M1511.7 535.5h0M1611.7 535.8h0M1548.4 536.1h0M1501.7 535.5h0M1602.4 535.7h0M1512.2 535.4h0M1473.5 535.3h0M1497.3 535.5h0M1588.1 535.7h0M1585 535.6h0M1548.3 535.9h0M1592.3 536h0M1487.3 535.8h0M1502.4 536h0M1584.7 535.7h0M1520.2 535.5h0M1478.1 535.9h0M1530.7 535.7h0M1532 535.8h0M1568.9 536h0M1606.7 535.4h0M1477.5 536h0M1479.9 536.1h0M1481 536h0M1520.6 535.9h0M1535.8 535.8h0M1537.5 535.5h0M1599.4 535.5h0M1538.7 535.4h0M1609 535.7h0M1499.7 536.6h0M1548.2 535.6h0M1466.9 535.4h0M1601.7 535.3h0M1500.7 535.7h0M1600.4 536.1h0M1545.7 535.6h0M1493.2 535.8h0M1482.9 535.9h0M1495.5 535.7h0M1520.3 535.4h0M1494.5 535.7h0M1592.1 535.9h0M1614.3 535.5h0M1523.4 535.3h0M1579.4 535.8h0M1581.4 535.9h0M1557.5 535.5h0M1534.1 535.7h0M1545.2 535.9h0M1503.4 535.2h0M1543.4 535.5h0M1602 535.6h0M1608.8 535.7h0M1532.4 535.5h0M1522.8 536h0M1511.3 536h0M1604.1 535.2h0M1493.4 535.5h0M1534.9 535.3h0M1569.6 535.9h0M1476.9 536.1h0M1526.3 535.2h0M1495.4 535.9h0M1501.2 535.7h0M1608.5 535.8h0M1589.2 535.9h0M1580.6 535.8h0M1602.9 535.3h0M1491.2 535.9h0M1601.1 535.7h0M1549.9 536.1h0M1500.4 535.1h0M1521.2 495.2h0M1514.1 505.5h0M1509.7 484.5h0M1506.8 510.7h0M1510.9 494.7h0M1515.8 520.9h0M1517.6 505.1h0M1511.3 514.2h0M1517 518.2h0M1513.7 479.3h0M1514.5 485.2h0M1518 513.6h0M1513.7 478.9h0M1520 516.3h0M1506.1 504.1h0M1511.6 490.4h0M1514.4 511.8h0M1520.4 503.8h0M1510.9 516.9h0M1517.1 518.4h0M1521.5 506.3h0M1512.3 524h0M1513.9 512.2h0M1520.2 486.1h0M1520.2 502.7h0M1517 501h0M1511.1 491.2h0M1513.3 514.1h0M1508 495.9h0M1515.4 531.7h0M1510.8 497.9h0M1512.9 527.5h0M1512.2 494.9h0M1519.6 509h0M1516.9 505.5h0M1515.7 487h0M1510.9 489.8h0M1510.6 494h0M1514.9 511.7h0M1515 501.8h0M1517.6 528h0M1517.5 496.2h0M1515.5 519.7h0M1542.3 491.6h0M1528 514.7h0M1524.3 480.5h0M1532.6 504h0M1526.2 482.9h0M1532.4 476.9h0M1528.4 497.3h0M1527.7 525.7h0M1538.1 510h0M1541.2 503.6h0M1529.9 505.6h0M1521.9 511.2h0M1532.1 489.3h0M1524.1 488.5h0M1524.6 519h0M1531.3 500.2h0M1537.2 528.7h0M1525.8 502.5h0M1532.5 513h0M1534.6 516.6h0M1532.8 513.1h0M1542.7 506.7h0M1525 483.7h0M1523.2 474.5h0M1538.7 519.5h0M1532.1 481.3h0M1536.3 507.9h0M1532.4 501.9h0M1527.9 507.3h0M1532.3 492h0M1531.8 491h0M1540.6 496.3h0M1520.4 518.7h0M1527 474h0M1532.1 510.9h0M1523.6 499.6h0M1529.2 498h0M1529.7 505.3h0M1532.2 498.4h0M1517.5 511.1h0M1537.9 496.6h0M1533.6 487.9h0M1528.4 517.4h0M1523.6 510h0M1521.2 496.9h0M1529.4 519.1h0M1529.6 508.7h0M1540 488.9h0M1537.1 503.2h0M1527.3 517.1h0M1531.6 512.9h0M1528.3 472h0M1527.6 495.4h0M1539.1 516h0M1530.5 477.8h0M1526.9 512h0M1527.7 491.4h0M1541.9 503.4h0M1518.4 498.8h0M1524.6 512h0M1520.9 481h0M1532.2 508.3h0M1539 511.6h0M1560 502.9h0M1563.8 522.8h0M1558.6 495.3h0M1567.8 479h0M1558.5 493h0M1561.8 483.3h0M1579.3 504.9h0M1559.2 482.7h0M1577 498.6h0M1563.8 494.4h0M1549.3 496.9h0M1560.8 531.7h0M1573 500.1h0M1575.5 524.8h0M1553 507.8h0M1573.7 504.5h0M1541.5 503.1h0M1570.5 515.9h0M1549.9 474.3h0M1547.3 476.8h0M1572.7 503.1h0M1566.9 495h0M1576.8 529.7h0M1566 522.1h0M1573.7 512.1h0M1566.9 524.3h0M1569.7 496.9h0M1548.5 514.4h0M1565.1 483.9h0M1535.7 502.1h0M1555.2 523.1h0M1548 483.5h0M1563.4 491.8h0M1539.1 523.2h0M1577.6 504.4h0M1562.7 485.2h0M1546.7 496.9h0M1544 498h0M1542.9 505.2h0M1541.8 508.3h0M1552.4 507.7h0M1565.3 507.2h0M1563.9 502.4h0M1560.1 492.4h0M1552.8 472.4h0M1555.5 494h0M1544.3 494.4h0M1572.5 505.3h0M1567.4 478.2h0M1554.3 489.5h0M1544.3 522.7h0M1544.9 477.4h0M1545.2 502.1h0M1551.7 514.4h0M1546.7 482.7h0M1577.4 510.2h0M1561.4 498h0M1574.3 530.9h0M1560.4 502h0M1568 479h0M1551.1 537.6h0M1569.7 475.6h0M1567.9 489.9h0M1571.3 507.9h0M1567.9 497.7h0M1572.2 488.1h0M1575.6 513.7h0M1559.9 484.6h0M1568.4 494.6h0M1537.1 519h0M1562.6 500.5h0M1577.4 498.8h0M1543.9 496.7h0M1564.1 481.6h0M1549.4 472.4h0M1545.9 513.4h0M1556.1 482.1h0M1543.6 490.2h0M1561.5 492.4h0M1569.6 489.1h0M1555.1 487.3h0M1555.2 492h0M1541.8 497.7h0M1539.9 506.3h0M1544.5 488.2h0M1571.3 513.4h0M1571.7 488.3h0M1573.4 491.9h0M1572.6 507.4h0M1545.1 533.9h0M1573.4 497.9h0M1560.8 473.8h0M1540.3 503.3h0M1563.6 499h0M1556.2 510.4h0M1543 523.7h0M1545.7 496.7h0M1547.1 495.7h0M1558.2 486.4h0M1540.3 502.5h0M1554.1 496.1h0M1566.6 512.9h0M1571.2 471.6h0M1549.3 496.7h0M1550.7 504.6h0M1576.6 488.9h0M1549 508h0M1564.6 493.9h0M1568.6 484.2h0M1548.2 496.4h0M1579.9 499.2h0M1570.9 502.6h0M1564.1 514.2h0M1560.6 505.8h0M1553.8 509.9h0M1547 501.1h0M1577.3 508.3h0M1549.5 487.7h0M1546 495.3h0M1542.9 495.5h0M1569.8 506h0M1564.5 509.9h0M1555.2 508.4h0M1580.1 509.9h0M1583 490h0M1573.1 499.7h0M1581.8 511.5h0M1581.5 483.3h0M1583.2 496.3h0M1588.6 502.7h0M1581.7 507.6h0M1579.6 508.4h0M1589.6 507.2h0M1588.3 491.3h0M1591.5 489.2h0M1583 504.9h0M1583.9 506.1h0M1589.6 523.6h0M1578 497.7h0M1595.4 512.8h0M1584.3 516.8h0M1579.4 490.6h0M1583.6 488h0M1581.8 490.1h0M1588 502.6h0M1591 510.1h0M1590.6 501.2h0M1593 489.4h0M1585.4 498.9h0M1588.8 519.3h0M1590.5 516.1h0M1594.1 499.3h0M1594.3 506.8h0M1587.1 519.8h0M1585.6 515.4h0M1580.4 485.6h0M1582.4 504.3h0M1588.3 510.4h0M1595.7 502h0M1581.6 522.4h0M1581.4 515.3h0M1588.2 528.3h0M1598.2 526.5h0M1590.5 474.9h0M1594.9 498.1h0M1590.4 493.3h0M1590.2 494.1h0M1590.9 483.4h0M1581.9 495.5h0M1594.6 508.5h0M1586.4 497h0M1580.6 494.1h0M1582.8 503.4h0M1585.6 527.6h0M1582.1 514.6h0M1588.1 513.9h0M1593.4 514.8h0M1594.9 504.1h0M1587.4 529.5h0M1577.4 515.9h0M1589.8 480.3h0M1588.6 511.1h0M1591 505.2h0M1592.2 514h0M1599.3 497.3h0M1607.1 506.8h0M1619.3 511.5h0M1600.2 494.3h0M1598.4 505h0M1609.4 509.2h0M1597.7 530.3h0M1602.8 510.7h0M1605.2 528.1h0M1605.9 508.4h0M1613.2 495.6h0M1610.3 518.8h0M1600 501.9h0M1605.2 491.1h0M1615.4 510.3h0M1598.6 496.1h0M1599 479h0M1605.9 530.5h0M1597 483.1h0M1601 497.1h0M1601.3 498.3h0M1603.4 495h0M1609.7 485.9h0M1603.1 483.3h0M1601.4 519.8h0M1612.4 490.4h0M1608.4 498h0M1607.4 505.4h0M1604.6 519.9h0M1599 518.8h0M1614.4 501.4h0M1602.5 511.1h0M1599.9 496.7h0M1601.8 508.1h0M1603.3 521.3h0M1611.6 505.1h0M1600.5 485.8h0M1605.6 475h0M1603.1 523.6h0M1603.2 503.8h0M1601 513.7h0M1599.2 516.9h0M1600.4 516.7h0M1614 505h0M1604.4 497.3h0M1603.5 484.9h0M1602.7 508.5h0M1613.8 502.7h0M1602.1 501.1h0M1611 525.8h0M1597.4 491.5h0M1607.7 480.7h0M1598.3 491.2h0M1621.7 469.7h0M1626.5 484h0M1624.9 524.8h0M1623.6 461.9h0M1625.6 519.2h0M1627.4 452.4h0M1623.3 479.8h0M1622.8 523.6h0" stroke="#BEBEBE"/>
<path d="M1531.8 492.4h0" stroke="#4E79A7"/>
<path d="M1532.6 494.3h0" stroke="#BEBEBE"/>
<path d="M1519.1 499.2h0" stroke="#4E79A7"/>
<path d="M1520.7 501.6h0" stroke="#BEBEBE"/>
<path d="M1526.8 514.3h0" stroke="#4E79A7"/>
<path d="M1527.2 515.9h0" stroke="#BEBEBE"/>
<path d="M1510 493h0" stroke="#4E79A7"/>
<path d="M1510.7 490.2h0" stroke="#BEBEBE"/>
<path d="M1526.3 473.7h0" stroke="#4E79A7"/>
<path d="M1527.4 475.6h0" stroke="#BEBEBE"/>
<path d="M1526.4 475.4h0" stroke="#4E79A7"/>
<path d="M1526.3 478h0" stroke="#BEBEBE"/>
<path d="M1527.3 483.4h0" stroke="#4E79A7"/>
<path d="M1526.6 485.7h0" stroke="#BEBEBE"/>
<path d="M1517 480.5h0" stroke="#4E79A7"/>
<path d="M1516.7 483h0" stroke="#BEBEBE"/>
<path d="M1516.2 510.7h0" stroke="#4E79A7"/>
<path d="M1517.4 512.6h0" stroke="#BEBEBE"/>
<path d="M1525.2 468.4h0" stroke="#4E79A7"/>
<path d="M1524.4 470.7h0" stroke="#BEBEBE"/>
<path d="M1525.6 503.2h0" stroke="#4E79A7"/>
<path d="M1527.3 501h0" stroke="#BEBEBE"/>
<path d="M1518 503h0" stroke="#4E79A7"/>
<path d="M1518 500.2h0" stroke="#BEBEBE"/>
<path d="M1512 514.9h0" stroke="#4E79A7"/>
<path d="M1512.7 517h0" stroke="#BEBEBE"/>
<path d="M1519.8 523.2h0" stroke="#4E79A7"/>
<path d="M1520.3 525.6h0" stroke="#BEBEBE"/>
<path d="M1524.3 528.6h0" stroke="#4E79A7"/>
<path d="M1523.3 531.2h0" stroke="#BEBEBE"/>
<path d="M1519.2 509.4h0" stroke="#4E79A7"/>
<path d="M1519.7 512.1h0" stroke="#BEBEBE"/>
<path d="M1516.1 499.5h0" stroke="#4E79A7"/>
<path d="M1514.9 496.4h0" stroke="#BEBEBE"/>
<path d="M1524.5 520.6h0" stroke="#4E79A7"/>
<path d="M1524.6 522.7h0" stroke="#BEBEBE"/>
<path d="M1511.8 490h0" stroke="#4E79A7"/>
<path d="M1510.8 493.1h0" stroke="#BEBEBE"/>
<path d="M1586.8 501.4h0" stroke="#F28E2B"/>
<path d="M1587.2 503.9h0" stroke="#BEBEBE"/>
<path d="M1599.6 506.4h0" stroke="#F28E2B"/>
<path d="M1598.3 504.3h0" stroke="#BEBEBE"/>
<path d="M1600.8 509h0" stroke="#F28E2B"/>
<path d="M1600.8 511.3h0" stroke="#BEBEBE"/>
<path d="M1609.8 481.4h0" stroke="#F28E2B"/>
<path d="M1608 483.1h0" stroke="#BEBEBE"/>
<path d="M1606.1 508.3h0" stroke="#F28E2B"/>
<path d="M1605.1 511.3h0" stroke="#BEBEBE"/>
<path d="M1605.7 507.3h0" stroke="#F28E2B"/>
<path d="M1604.2 505.6h0" stroke="#BEBEBE"/>
<path d="M1615.8 502.2h0" stroke="#F28E2B"/>
<path d="M1616.4 504h0" stroke="#BEBEBE"/>
<path d="M1592.4 506.2h0" stroke="#F28E2B"/>
<path d="M1593.7 508.8h0" stroke="#BEBEBE"/>
<path d="M1595 485.2h0" stroke="#F28E2B"/>
<path d="M1596.1 486.9h0" stroke="#BEBEBE"/>
<path d="M1611.6 524.8h0" stroke="#F28E2B"/>
<path d="M1611.8 527h0" stroke="#BEBEBE"/>
<path d="M1613.5 519.7h0" stroke="#F28E2B"/>
<path d="M1614 522.4h0" stroke="#BEBEBE"/>
<path d="M1585 494h0" stroke="#F28E2B"/>
<path d="M1586.3 497.1h0" stroke="#BEBEBE"/>
<path d="M1594.4 509h0" stroke="#F28E2B"/>
<path d="M1594.7 511.6h0" stroke="#BEBEBE"/>
<path d="M1586 486.2h0" stroke="#F28E2B"/>
<path d="M1585 489.4h0" stroke="#BEBEBE"/>
<path d="M1614.1 514.4h0" stroke="#F28E2B"/>
<path d="M1615.7 517.4h0" stroke="#BEBEBE"/>
<path d="M1593.3 486.2h0" stroke="#F28E2B"/>
<path d="M1593.7 489.3h0" stroke="#BEBEBE"/>
<path d="M1609.7 481.4h0" stroke="#F28E2B"/>
<path d="M1610 483.8h0" stroke="#BEBEBE"/>
<path d="M1598.4 522.5h0" stroke="#F28E2B"/>
<path d="M1598.9 520.3h0" stroke="#BEBEBE"/>
<path d="M1600.8 479.4h0" stroke="#F28E2B"/>
<path d="M1601.7 481.4h0M1625 298.5h0M1514.3 330h0M1721.2 535.2h0M1798.7 535.2h0" stroke="#BEBEBE"/>
<path d="M1657.4 79.2h0M1632.5 235.1h0M1674.8 298.5h0M1635 317.6h0M1917.7 535.2h0" stroke="#F28E2B"/>
<path d="M1603.3 362.8h0M1517.4 385.4h0M1568.5 392.3h0M1622.1 385.4h0M1635.2 396.6h0M1609.8 396.6h0M1603.3 402.8h0M1548.2 406h0M1587.7 413.6h0M1621.5 417.7h0M1519.7 420.1h0M1487.7 452.1h0M1444.1 469.5h0M1477.9 482.1h0M1418.2 489.7h0M1475.1 494h0M1448.3 500.9h0M1466.1 501.9h0M1479.3 506.6h0M1492.4 497.2h0M1660.6 455.5h0M1638 463.3h0M1630.1 487.8h0M1637.7 501.9h0M1663.4 497.2h0M1665.3 517.8h0M1692 514.5h0M1630.5 520.7h0M1656.3 531h0M1421.9 520.7h0M1461.4 516h0M1449.2 518.8h0" stroke="#BEBEBE"/>
<path d="M1517.4 397h0M1502.4 404.3h0M1446 435.7h0M1495.2 431.4h0M1498 435.2h0M1505.6 452.1h0M1502.7 454.9h0M1485.5 465.8h0M1493 464.3h0M1505.6 468.6h0M1504.1 489.3h0M1432.8 494.7h0M1510.3 505.6h0M1401.3 527.2h0M1403.2 527.2h0M1414.1 534.8h0M1460.5 531.9h0M1578.8 534.8h0" stroke="#4E79A7"/>
<path d="M1638 383.5h0M1616.4 397h0M1604.2 423.5h0M1632.4 424.5h0M1647.1 430.8h0M1667.2 430.8h0M1701.9 430.8h0M1628.3 451.7h0M1615.5 469h0M1630.5 464.3h0M1630.5 473.7h0M1622.1 478.4h0M1656.8 483.1h0M1622.1 497.5h0M1671.3 496.2h0M1643.1 524.8h0M1628.3 535.1h0M1616.4 522.5h0" stroke="#F28E2B"/>
<line x1="1538.4" y1="56.8" x2="1538.4" y2="557.6" stroke="#000" stroke-width="2.1" stroke-linecap="butt"/>
<line x1="1576.1" y1="56.8" x2="1576.1" y2="557.6" stroke="#000" stroke-width="2.1" stroke-linecap="butt"/>
<line x1="1374.6" y1="428.7" x2="1942.6" y2="428.7" stroke="#000" stroke-width="2.1" stroke-linecap="butt"/>
<path d="M1374.6 56.8V557.6H1942.6" fill="none" stroke="#000" stroke-width="2.1" stroke-linecap="butt" stroke-linejoin="miter"/>
<line x1="1368.6" y1="208.5" x2="1374.6" y2="208.5" stroke="#000" stroke-width="2.1" stroke-linecap="butt"/>
<text x="1362.4" y="216.3" font-size="20.3" text-anchor="end" fill="#4d4d4d">4</text>
<line x1="1368.6" y1="371.9" x2="1374.6" y2="371.9" stroke="#000" stroke-width="2.1" stroke-linecap="butt"/>
<text x="1362.4" y="379.7" font-size="20.3" text-anchor="end" fill="#4d4d4d">2</text>
<line x1="1368.6" y1="535.6" x2="1374.6" y2="535.6" stroke="#000" stroke-width="2.1" stroke-linecap="butt"/>
<text x="1362.4" y="543.4" font-size="20.3" text-anchor="end" fill="#4d4d4d">0</text>
<line x1="1557" y1="557.6" x2="1557" y2="563.6" stroke="#000" stroke-width="2.1" stroke-linecap="butt"/>
<text x="1557" y="584.8" font-size="20.3" text-anchor="middle" fill="#4d4d4d">0</text>
<line x1="1755.6" y1="557.6" x2="1755.6" y2="563.6" stroke="#000" stroke-width="2.1" stroke-linecap="butt"/>
<text x="1755.6" y="584.8" font-size="20.3" text-anchor="middle" fill="#4d4d4d">1</text>
<text x="1705" y="84.2" font-size="25.8" font-style="italic" text-anchor="middle" fill="#DB8C3F">H2-K1</text>
<text x="1656.5" y="223.9" font-size="25.8" font-style="italic" text-anchor="middle" fill="#DB8C3F">Klf4</text>
<text x="1698" y="287.4" font-size="25.8" font-style="italic" text-anchor="middle" fill="#DB8C3F">Irf7</text>
<text x="1606.8" y="348.3" font-size="25.8" font-style="italic" text-anchor="middle" fill="#DB8C3F">Pkm</text>
<text x="1665.6" y="371.9" font-size="25.8" font-style="italic" text-anchor="middle" fill="#DB8C3F">Cp</text>
<text x="1677.3" y="415.5" font-size="25.8" font-style="italic" text-anchor="middle" fill="#DB8C3F">Podxl</text>
<text x="1725.3" y="461.1" font-size="25.8" font-style="italic" text-anchor="middle" fill="#DB8C3F">Ifi27l2a</text>
<text x="1865" y="544.8" font-size="25.8" font-style="italic" text-anchor="middle" fill="#DB8C3F">Hbb-bs</text>
<text x="1549.6" y="383.5" font-size="25.8" font-style="italic" text-anchor="middle" fill="#4F7099">Tpd52l2</text>
<text x="1453.8" y="419.6" font-size="25.8" font-style="italic" text-anchor="middle" fill="#4F7099">Adgrl3</text>
<text x="1422.3" y="519.1" font-size="25.8" font-style="italic" text-anchor="middle" fill="#4F7099">C1qa</text>
</g>
<g fill="none" stroke-width="10.2" stroke-linecap="round">
<text x="332.5" y="658.9" font-size="39.2" text-anchor="middle" fill="#1a1a1a">Astrocyte-qNSC</text>
<path d="M241.3 1158.7h0M179.5 1159h0M262.7 1159.1h0M237.4 1159.1h0M307.5 1159.1h0M274.3 1159h0M217.2 1159.2h0M180.5 1159h0M340.4 1158.9h0M333.1 1159.5h0M253.8 1159h0M317.2 1158.7h0M199.3 1158.9h0M208.2 1158.4h0M212.2 1158.9h0M269.3 1158.8h0M192.8 1158.7h0M268.7 1159.1h0M254.6 1158.9h0M303.3 1158.7h0M280.2 1159.3h0M260 1159h0M359.7 1159h0M323.5 1159.2h0M305.7 1159.1h0M240.5 1158.6h0M336.5 1158.8h0M235.9 1159.4h0M185.5 1158.9h0M342.8 1159h0M342 1159h0M187.6 1159.2h0M262.1 1159h0M356.3 1158.6h0M287.4 1158.7h0M232.2 1159.2h0M270.4 1159h0M287.4 1159h0M235.7 1159.2h0M299.8 1159h0M353.4 1158.9h0M230.2 1158.8h0M219.1 1159.2h0M180.4 1158.6h0M272.5 1158.8h0M199.5 1159.4h0M273.5 1158.6h0M234.4 1159.2h0M255.5 1158.9h0M182.9 1158.8h0M320.7 1158.9h0M343.6 1158.8h0M212.8 1159h0M205.6 1159.1h0M282.9 1158.5h0M348.2 1159.6h0M234.5 1158.9h0M331 1159.2h0M321.4 1158.9h0M245.8 1158.8h0M334.8 1158.3h0M339.8 1158.8h0M247 1158.5h0M263.3 1159.2h0M326.3 1158.7h0M341.1 1159.1h0M331.2 1158.2h0M249.1 1158.8h0M271.2 1158.5h0M344.4 1159h0M222.1 1158.5h0M310.8 1159.3h0M224.3 1159.3h0M198.7 1159.1h0M244.1 1158.6h0M313.1 1158.9h0M263.8 1158.9h0M311.6 1159.1h0M237.3 1158.7h0M292 1159.4h0M306.2 1158.9h0M232.6 1158.9h0M356.7 1159.5h0M221.3 1158.9h0M177.5 1159.4h0M318.2 1159.5h0M331.7 1159.3h0M356.4 1158.6h0M256.1 1158.8h0M253.9 1159.1h0M328.1 1158.1h0M264.8 1158.9h0M178.2 1159.1h0M213 1159.4h0M334.4 1158.5h0M275.9 1159h0M298.1 1159h0M329.6 1159.3h0M181.5 1159.1h0M187.6 1159.3h0M300.7 1158.7h0M267.2 1159.2h0M255.5 1158.8h0M326.8 1158.8h0M256.5 1158.9h0M255.5 1159.1h0M176 1158.9h0M211 1159.2h0M229.7 1158.6h0M291 1159h0M216.1 1159.2h0M353.8 1158.5h0M234.6 1159h0M234.4 1159h0M312.5 1159h0M317.7 1158.9h0M307.1 1159.1h0M176.4 1159h0M268.9 1158.9h0M326.9 1159.2h0M200.4 1158.9h0M292.9 1159.2h0M165.5 1127.1h0M177.5 1148.8h0M178 1145.5h0M179.2 1148.4h0M179.5 1137h0M172 1135.6h0M172.8 1145.6h0M179.1 1137.4h0M167.7 1149.5h0M180.3 1130.2h0M179.3 1146.9h0M195.4 1158.2h0M206.4 1155.7h0M208.1 1146h0M185 1145.8h0M203.9 1145.8h0M198.1 1146.9h0M204.5 1157.9h0M185.6 1142.4h0M206.3 1156.6h0M199.2 1151h0M197.5 1148.1h0M192 1137.8h0M319.3 1155.3h0M310.4 1141.7h0M326.3 1123.1h0M312.2 1151.6h0M322.5 1121.8h0M309.3 1144.2h0M311.9 1158.4h0M324.8 1134.6h0M310.6 1146.7h0M312.1 1146.8h0M320.1 1137.7h0M308.8 1152h0M316.2 1158.2h0M313.6 1132.8h0M326.2 1111.4h0M333.6 1119.3h0M332.2 1158.4h0M334.7 1140.2h0M324.8 1126.2h0M337.4 1106h0M334.7 1135.1h0M325.9 1134.7h0M344.5 1150.4h0M325.2 1115.5h0M334.4 1139.6h0M329.7 1120h0M336.5 1107.5h0M338.2 1108.4h0M324.6 1149.9h0M324.4 1131.6h0M333.6 1147.9h0M335.7 1112.3h0M341.9 1127.9h0M334.1 1153.9h0M347.5 1154h0M347.8 1155.1h0M361.1 1146.4h0M351.7 1121h0M347.5 1136.7h0M347.7 1126.3h0M352.6 1126.2h0M358.1 1114.2h0M346.2 1151.3h0M350.2 1154.4h0M354 1148.8h0M362.1 1127.7h0M355 1120.1h0M347.6 1153.4h0M363.3 1127.4h0M358.3 1130.2h0M356.1 1127.3h0M359.4 1152.7h0M369.3 1152.7h0M378.1 1128.1h0M380.9 1125.8h0M366.4 1140.2h0M367.9 1136.7h0M366.5 1129h0M382.6 1137.4h0M375.5 1131.8h0M368.4 1133.7h0M369.4 1126.1h0M287.7 1150.5h0M281.1 1148.1h0M281.6 1143.4h0M524.8 960.3h0M476.7 1040.3h0M516.1 1059.4h0M572.5 1046.5h0" stroke="#BEBEBE"/>
<path d="M463.1 1115.8h0" stroke="#4E79A7"/>
<path d="M628.1 703.3h0M573.3 894h0M507.4 947.5h0M426.2 1020.4h0M453.9 1021.7h0M452.7 1025.4h0M601.9 1046.5h0M421.6 1071.4h0" stroke="#F28E2B"/>
<path d="M151.1 1109.3h0M162 1124.3h0M164.8 1131.8h0M179.9 1132.7h0M188.3 1129h0M205.2 1136.5h0M126.3 1146.5h0M162.9 1152.5h0M175.2 1157.2h0M190.2 1159h0M209 1144h0M205.2 1159h0M212.7 1147.8h0M222.1 1149.7h0M178.9 1144h0M194 1145.9h0M285.1 1140.3h0M276.6 1145h0M287.9 1145h0M311 1117.7h0M345.2 1087.1h0M333 1100.8h0M323.6 1114h0M328.3 1122.4h0M340.5 1110.2h0M348 1114h0M350.9 1124.3h0M317 1133.7h0M306.7 1140.3h0M329.2 1136.5h0M370.6 1124.3h0M377.2 1123.3h0M381.9 1125.2h0M366.8 1132.7h0M393.5 1098.9h0M395.9 1132.7h0M373.4 1159h0M363.1 1140.3h0M359.3 1144h0M333 1159h0M340.5 1159h0M417.6 1025.6h0M410 1065.1h0" stroke="#BEBEBE"/>
<path d="M120.7 1104.2h0M137.6 1098.5h0M141.7 1127.1h0M155.4 1121.5h0M151.7 1127.1h0M153.6 1132.7h0M162 1139.3h0M175.2 1133.7h0M190.2 1126.5h0M191.7 1138.4h0M183.6 1140.3h0M165.8 1144h0M171.4 1151.5h0M170.5 1154.4h0M182.7 1158.1h0M197.7 1159h0M199.6 1140.3h0M218.4 1159h0M231.5 1159h0M398.2 1159h0" stroke="#4E79A7"/>
<path d="M376.2 1038.8h0M409.5 1047.8h0M411.9 1070.7h0M419.4 1070.7h0M410 1084.8h0M383.4 1088h0M349.5 1097h0M351.8 1103.6h0M336.4 1102.7h0M356.5 1114h0M373.4 1112.1h0M333.9 1118.6h0M306.7 1130.5h0M381.9 1123.3h0M374.3 1129.9h0M348 1132.7h0M353.7 1130.9h0M359.3 1132.7h0M364.9 1136.5h0M344.3 1140.3h0M333 1140.3h0M325.5 1143.1h0M312.3 1142.1h0M359.3 1149.7h0M355.5 1155.3h0M349.9 1159h0M323.6 1159h0M342.4 1144h0M351.8 1142.1h0" stroke="#F28E2B"/>
<line x1="216.4" y1="681.3" x2="216.4" y2="1181.7" stroke="#000" stroke-width="2.1" stroke-linecap="butt"/>
<line x1="301.4" y1="681.3" x2="301.4" y2="1181.7" stroke="#000" stroke-width="2.1" stroke-linecap="butt"/>
<line x1="95.8" y1="1148.9" x2="653.4" y2="1148.9" stroke="#000" stroke-width="2.1" stroke-linecap="butt"/>
<path d="M95.8 681.3V1181.7H653.4" fill="none" stroke="#000" stroke-width="2.1" stroke-linecap="butt" stroke-linejoin="miter"/>
<line x1="89.8" y1="696.6" x2="95.8" y2="696.6" stroke="#000" stroke-width="2.1" stroke-linecap="butt"/>
<text x="83.6" y="704.4" font-size="20.3" text-anchor="end" fill="#4d4d4d">60</text>
<line x1="89.8" y1="851.3" x2="95.8" y2="851.3" stroke="#000" stroke-width="2.1" stroke-linecap="butt"/>
<text x="83.6" y="859.1" font-size="20.3" text-anchor="end" fill="#4d4d4d">40</text>
<line x1="89.8" y1="1005.1" x2="95.8" y2="1005.1" stroke="#000" stroke-width="2.1" stroke-linecap="butt"/>
<text x="83.6" y="1012.9" font-size="20.3" text-anchor="end" fill="#4d4d4d">20</text>
<line x1="89.8" y1="1159.3" x2="95.8" y2="1159.3" stroke="#000" stroke-width="2.1" stroke-linecap="butt"/>
<text x="83.6" y="1167.1" font-size="20.3" text-anchor="end" fill="#4d4d4d">0</text>
<line x1="125.2" y1="1181.7" x2="125.2" y2="1187.7" stroke="#000" stroke-width="2.1" stroke-linecap="butt"/>
<text x="125.2" y="1208.9" font-size="20.3" text-anchor="middle" fill="#4d4d4d">-0.3</text>
<line x1="258.3" y1="1181.7" x2="258.3" y2="1187.7" stroke="#000" stroke-width="2.1" stroke-linecap="butt"/>
<text x="258.3" y="1208.9" font-size="20.3" text-anchor="middle" fill="#4d4d4d">0.0</text>
<line x1="392.2" y1="1181.7" x2="392.2" y2="1187.7" stroke="#000" stroke-width="2.1" stroke-linecap="butt"/>
<text x="392.2" y="1208.9" font-size="20.3" text-anchor="middle" fill="#4d4d4d">0.3</text>
<line x1="525.7" y1="1181.7" x2="525.7" y2="1187.7" stroke="#000" stroke-width="2.1" stroke-linecap="butt"/>
<text x="525.7" y="1208.9" font-size="20.3" text-anchor="middle" fill="#4d4d4d">0.6</text>
<line x1="339.1" y1="983.1" x2="422.9" y2="1018.3" stroke="#F28E2B" stroke-width="1.9" stroke-linecap="butt"/>
<text x="605.7" y="732.8" font-size="25.8" font-style="italic" text-anchor="middle" fill="#DB8C3F">Ifi27</text>
<text x="597" y="882.4" font-size="25.8" font-style="italic" text-anchor="middle" fill="#DB8C3F">C4b</text>
<text x="423.7" y="974.9" font-size="25.8" font-style="italic" text-anchor="middle" fill="#DB8C3F">AC149090.1</text>
<text x="283.1" y="992.7" font-size="25.8" font-style="italic" text-anchor="middle" fill="#DB8C3F">Lgals3bp</text>
<text x="476.7" y="1010.1" font-size="25.8" font-style="italic" text-anchor="middle" fill="#DB8C3F">Rtp4</text>
<text x="352.4" y="1028.8" font-size="25.8" font-style="italic" text-anchor="middle" fill="#DB8C3F">Zc3hav1</text>
<text x="476.3" y="1054.9" font-size="25.8" font-style="italic" text-anchor="middle" fill="#DB8C3F">Psmb8</text>
<text x="624.3" y="1035" font-size="25.8" font-style="italic" text-anchor="middle" fill="#DB8C3F">Ifit3</text>
<text x="361.9" y="1077.3" font-size="25.8" font-style="italic" text-anchor="middle" fill="#DB8C3F">Usp18</text>
<text x="485.9" y="1145.7" font-size="25.8" font-style="italic" text-anchor="middle" fill="#4F7099">Isg15</text>
</g>
<g fill="none" stroke-width="10.2" stroke-linecap="round">
<text x="983.4" y="658.9" font-size="39.2" text-anchor="middle" fill="#1a1a1a">aNSC-NPC</text>
<path d="M1002.8 1158.7h0M890 1158.5h0M984 1158.5h0M965.4 1158.4h0M984.1 1158.4h0M883.6 1158.7h0M885.1 1158.7h0M880 1158.9h0M1001.6 1159.1h0M898.5 1158.7h0M989.3 1158.8h0M977.2 1158.7h0M978.9 1158.7h0M896.8 1158.5h0M930.7 1158.9h0M994.6 1158.8h0M942.4 1158.9h0M918.8 1159h0M933.2 1159h0M977.2 1158.6h0M1000.6 1158.8h0M969.3 1159.4h0M914.4 1158.9h0M878.9 1158.8h0M875 1158.9h0M911.5 1158.5h0M973.7 1158.1h0M864.7 1159.5h0M945.8 1158.6h0M962.3 1158.7h0M961.4 1158.8h0M970.4 1158.8h0M959.7 1159h0M946.6 1158.6h0M867.6 1159h0M878.4 1158.1h0M999.3 1158.9h0M918.6 1158.6h0M898.6 1159.2h0M939.7 1158.5h0M989.9 1158.8h0M982.6 1159h0M937.8 1159.1h0M927.6 1158.8h0M877.9 1158.7h0M897.1 1159.1h0M944.6 1159h0M867.6 1158.7h0M952.4 1158.4h0M897.6 1158.9h0M955.4 1158.5h0M878.3 1158.6h0M912.4 1158.6h0M907.5 1158.8h0M881.8 1158.4h0M882.7 1158.9h0M1005.6 1158.5h0M889.2 1158.2h0M968.5 1159.1h0M968 1158.9h0M890.3 1159.3h0M907.2 1158.5h0M941.8 1158.7h0M867.2 1159h0M974.4 1158.8h0M905.3 1158.8h0M875.9 1158.7h0M936 1158.4h0M941.4 1158.6h0M980.8 1159h0M868 1159h0M988.7 1159.2h0M918.6 1158.7h0M892.2 1158.9h0M903.3 1158.4h0M881.8 1158.6h0M891.4 1159h0M972.4 1158.7h0M891.8 1159.2h0M992.3 1159h0M1005.7 1159.1h0M940 1158.8h0M979.6 1158.5h0M867.1 1158.9h0M913.7 1159h0M873.9 1158.9h0M921.5 1158.6h0M875.6 1158.7h0M1000.9 1158.8h0M897.7 1158.9h0M866.8 1159.2h0M882.3 1159h0M925.3 1158.7h0M930.7 1158.5h0M982 1159h0M929.2 1158.7h0M843.5 1147.3h0M848.1 1146.7h0M858.4 1140.4h0M848.2 1147.2h0M855.4 1145.7h0M878 1135.9h0M890.8 1131.7h0M860.9 1144.1h0M884 1142.7h0M873.7 1145.9h0M868.7 1139.5h0M860.1 1143.9h0M878.9 1142.8h0M870.2 1148.7h0M878.4 1147.9h0M863.3 1147.9h0M872.2 1141.4h0M862.6 1142.3h0M889.2 1149.2h0M873 1140.7h0M860.1 1146.5h0M894.5 1140.6h0M904 1146.7h0M897.4 1141.8h0M895.3 1136.1h0M901.6 1141.2h0M899.5 1140.6h0M906.2 1148.3h0M913.1 1149h0M915.5 1149.2h0M918.5 1149.3h0M940.9 1146.9h0M929.6 1149.8h0M934.3 1146.2h0M926 1149.9h0M934 1147.3h0M956.2 1147.3h0M942.3 1141.2h0M940.8 1145.8h0M942.6 1145.2h0M950.5 1147.1h0M945.3 1152.7h0M940.8 1144.2h0M956.8 1134.8h0M965 1134.1h0M966.7 1136.1h0M975.4 1130.3h0M967.5 1139h0M961.4 1146.4h0M969.7 1135.1h0M974.3 1139.2h0M959.5 1144.8h0M981.1 1140.1h0M984.8 1114.4h0M978.7 1129.2h0M982.2 1139.8h0M981.4 1120.9h0M974.1 1144.7h0M984.6 1149.5h0M977 1144.6h0M984.4 1141.8h0M981 1144.6h0M980.6 1112.2h0M985.4 1131.4h0M982.9 1140.9h0M996 1128.7h0M998.3 1142.8h0M989.6 1138.7h0M995.8 1130.5h0M992.3 1122.6h0M988.6 1116.1h0M992 1135.4h0M1000.1 1153.2h0M993.2 1140h0M1005.3 1145.4h0M1012.2 1137.1h0M1006 1152.2h0M1003.1 1133.7h0M1013.9 1142.6h0M1021.4 1136.5h0M1009.5 1152.9h0M1009.5 1139h0M1016.5 1151.1h0M1002 1152.2h0M1011.1 1148.2h0M1008.5 1150.8h0M1016.1 1147.3h0M1016.1 1135.6h0M1028.2 1137.4h0M1019.5 1151.5h0M1033.2 1143.2h0M1029.1 1147.2h0M1027.5 1154.6h0M1021.4 1135.2h0M1029.6 1152.4h0M1023.9 1140.4h0M1020.7 1134.5h0M1025.7 1152.8h0M1036 1156.3h0M1036.5 1146.2h0M1037 1153.5h0M1103.2 1115.4h0M1175.3 1136.1h0" stroke="#BEBEBE"/>
<path d="M1262.4 703.3h0M1107.7 1011.3h0M1129.7 1060.6h0M1107.7 1134.4h0" stroke="#F28E2B"/>
<path d="M755 1159.2h0M771.9 1159.2h0M790.9 1159.2h0M796.5 1159.2h0M838.8 1159.2h0M856.8 1159.2h0M1001.5 1046h0M1016.9 1062.9h0M1004.5 1087.9h0M1009.9 1105.8h0M994.6 1105.8h0M987.6 1111.8h0M982.6 1115.8h0M1027.5 1105.8h0M1020.5 1118.8h0M1038.5 1122.8h0M1027.5 1123.8h0M1063.4 1117.4h0M1057.4 1126.8h0M1043.5 1135.4h0M959.6 1132.8h0M953.6 1135.8h0M937.7 1142.8h0M1049.5 1151.8h0M1059.4 1151.8h0M1069.4 1150.8h0M1045.5 1157.8h0M817.9 1139.8h0M857.8 1129.8h0M893.7 1124.8h0M897.7 1130.8h0M888.7 1133.8h0M843.8 1141.8h0M848.8 1141.8h0" stroke="#BEBEBE"/>
<path d="M802.3 1063.3h0M844.4 1106.2h0M834.2 1112.8h0M843.8 1124.2h0M821.3 1129.2h0M853.4 1132.8h0M883.3 1129.2h0M806.7 1141.2h0M765.6 1149.8h0M835.8 1145.8h0M856.8 1147.8h0M867.8 1145.8h0M812.3 1158.8h0M847.2 1159.2h0M904.7 1159.2h0M959 1159.2h0M1016.5 1143.8h0" stroke="#4E79A7"/>
<path d="M1061.4 1092.9h0M974 1102.9h0M995.1 1121.8h0M1033.5 1114.8h0M1040.5 1121.8h0M1002.5 1135.8h0M999.5 1147.8h0M998.9 1158.8h0M882.7 1159.2h0M1006.5 1157.8h0" stroke="#F28E2B"/>
<line x1="902.9" y1="681.3" x2="902.9" y2="1181.7" stroke="#000" stroke-width="2.1" stroke-linecap="butt"/>
<line x1="973" y1="681.3" x2="973" y2="1181.7" stroke="#000" stroke-width="2.1" stroke-linecap="butt"/>
<line x1="729.6" y1="1150.6" x2="1287.2" y2="1150.6" stroke="#000" stroke-width="2.1" stroke-linecap="butt"/>
<path d="M729.6 681.3V1181.7H1287.2" fill="none" stroke="#000" stroke-width="2.1" stroke-linecap="butt" stroke-linejoin="miter"/>
<line x1="723.6" y1="774.2" x2="729.6" y2="774.2" stroke="#000" stroke-width="2.1" stroke-linecap="butt"/>
<text x="717.4" y="782" font-size="20.3" text-anchor="end" fill="#4d4d4d">60</text>
<line x1="723.6" y1="902.7" x2="729.6" y2="902.7" stroke="#000" stroke-width="2.1" stroke-linecap="butt"/>
<text x="717.4" y="910.5" font-size="20.3" text-anchor="end" fill="#4d4d4d">40</text>
<line x1="723.6" y1="1031.6" x2="729.6" y2="1031.6" stroke="#000" stroke-width="2.1" stroke-linecap="butt"/>
<text x="717.4" y="1039.4" font-size="20.3" text-anchor="end" fill="#4d4d4d">20</text>
<line x1="723.6" y1="1160.1" x2="729.6" y2="1160.1" stroke="#000" stroke-width="2.1" stroke-linecap="butt"/>
<text x="717.4" y="1167.9" font-size="20.3" text-anchor="end" fill="#4d4d4d">0</text>
<line x1="754.5" y1="1181.7" x2="754.5" y2="1187.7" stroke="#000" stroke-width="2.1" stroke-linecap="butt"/>
<text x="754.5" y="1208.9" font-size="20.3" text-anchor="middle" fill="#4d4d4d">-0.5</text>
<line x1="937.8" y1="1181.7" x2="937.8" y2="1187.7" stroke="#000" stroke-width="2.1" stroke-linecap="butt"/>
<text x="937.8" y="1208.9" font-size="20.3" text-anchor="middle" fill="#4d4d4d">0.0</text>
<line x1="1121.4" y1="1181.7" x2="1121.4" y2="1187.7" stroke="#000" stroke-width="2.1" stroke-linecap="butt"/>
<text x="1121.4" y="1208.9" font-size="20.3" text-anchor="middle" fill="#4d4d4d">0.5</text>
<text x="1239.6" y="733.2" font-size="25.8" font-style="italic" text-anchor="middle" fill="#DB8C3F">Ifi27</text>
<text x="1130.1" y="999.8" font-size="25.8" font-style="italic" text-anchor="middle" fill="#DB8C3F">AC149090.1</text>
<text x="1153.3" y="1046.2" font-size="25.8" font-style="italic" text-anchor="middle" fill="#DB8C3F">Ifitm3</text>
<text x="1084.9" y="1081.8" font-size="25.8" font-style="italic" text-anchor="middle" fill="#DB8C3F">Dbx2</text>
<text x="952.3" y="1092.2" font-size="25.8" font-style="italic" text-anchor="middle" fill="#DB8C3F">Nkx2-4</text>
<text x="1131.4" y="1164.3" font-size="25.8" font-style="italic" text-anchor="middle" fill="#DB8C3F">Ckb</text>
<text x="796.8" y="1052.8" font-size="25.8" font-style="italic" text-anchor="middle" fill="#4F7099">Hist3h2ba</text>
<text x="822.5" y="1095.1" font-size="25.8" font-style="italic" text-anchor="middle" fill="#4F7099">Hist1h1d</text>
</g>
<g fill="none" stroke-width="10.2" stroke-linecap="round">
<text x="1622.5" y="658.9" font-size="39.2" text-anchor="middle" fill="#1a1a1a">Neuroblast</text>
<path d="M1502.8 1147.2h0M1500.4 1149.5h0M1498.7 1146.9h0M1501.8 1149.8h0M1495 1152.8h0M1505.6 1139.7h0M1505.5 1139.7h0M1502.8 1138h0M1503.2 1147.8h0M1515.7 1144.8h0M1501.1 1152h0M1514 1153.8h0M1513.4 1146.2h0M1507.9 1158h0M1513.3 1149.7h0M1502.8 1154.2h0M1527.6 1160.1h0M1529.4 1154.4h0M1514.8 1139.1h0M1519.5 1143.3h0M1528.3 1134.1h0M1529.6 1160.4h0M1526.4 1143h0M1521.5 1137.3h0M1527.1 1149.6h0M1523.9 1140.1h0M1531.9 1145.5h0M1529.7 1145.6h0M1522 1137h0M1517.6 1141.6h0M1516.3 1139.5h0M1520.6 1144.8h0M1524 1149.4h0M1534.8 1158.8h0M1531.6 1146.6h0M1535.9 1138.5h0M1538.8 1151.3h0M1532 1150.9h0M1534.3 1155.8h0M1529.4 1149.1h0M1541.5 1144.8h0M1546.6 1157.5h0M1540.8 1158.4h0M1540.2 1151.2h0M1550.7 1158.1h0M1545.6 1143.6h0M1543.9 1156.6h0M1536.9 1155.8h0M1538.2 1145.8h0M1546.9 1144.5h0M1564.7 1160.4h0M1552 1162.6h0M1564.9 1156.3h0M1554.8 1151.7h0M1572.2 1149.7h0M1569.1 1152.5h0M1570.9 1155.3h0M1557.4 1153.2h0M1569.5 1155.9h0M1548.3 1155.6h0M1559.7 1157.7h0M1559.9 1154.5h0M1557.7 1149.1h0M1574.9 1154h0M1582.3 1145.9h0M1570.7 1158.4h0M1574 1152.4h0M1581.6 1157.2h0M1589.8 1151.8h0M1576.8 1150.5h0M1572.4 1146.1h0M1588.8 1148.8h0M1573 1157.8h0M1582.7 1158.3h0M1592 1145.9h0M1582.8 1156.9h0M1598.7 1155.8h0M1596.7 1150.2h0M1593.3 1147.8h0M1601.3 1161.5h0M1593 1156.8h0M1600 1150.9h0M1598.5 1155.1h0M1588.3 1158.9h0M1595.7 1155.6h0M1589 1155.3h0M1613.6 1142h0M1604.4 1157h0M1612.1 1148.8h0M1615.8 1145.6h0M1610 1152h0M1602.2 1144.8h0M1608.6 1137.7h0M1607.4 1150.9h0M1604.9 1147.3h0M1616.5 1151.9h0M1625.8 1137.9h0M1613.7 1153.8h0M1627.5 1140.9h0M1618.7 1138.1h0M1618 1152.8h0M1617.2 1145.7h0M1616.7 1139.8h0M1620.8 1149h0M1619 1149.3h0M1616.7 1150.6h0M1621.8 1138.5h0M1621.2 1138h0M1615.1 1141.3h0M1628.7 1142.6h0M1631.2 1135.1h0M1637.6 1145.7h0M1637.5 1142.8h0M1629.7 1136h0M1631.3 1152h0M1635.3 1146.7h0M1647 1137.1h0M1644.5 1137.1h0M1638.7 1148h0M1647.8 1142.8h0M1640 1144.1h0M1639.3 1135.7h0M1645.4 1137.6h0M1649 1140.4h0M1501.1 1150.3h0M1497.6 1152.9h0M1498.1 1146.6h0M1491.5 1148.6h0M1493.6 1152.5h0M1494.8 1150.1h0M1506.5 1150.4h0M1503.3 1145h0M1507.9 1140.4h0M1510.8 1147h0M1513.8 1153.4h0M1504.7 1148.7h0M1510.4 1147h0M1506.8 1138.1h0M1512.9 1142.3h0M1509.5 1144.2h0M1506 1155.7h0M1516.9 1152.3h0M1530.4 1144.7h0M1518.1 1155.7h0M1528.2 1149.8h0M1527.7 1145.4h0M1517.9 1150.8h0M1522.7 1149.9h0M1515.8 1146.4h0M1518.9 1145h0M1514.6 1151h0M1523.5 1150.1h0M1529.2 1139.6h0M1522.5 1138.5h0M1512.1 1137.3h0M1525.2 1139.9h0M1523.8 1143.6h0M1525.7 1146.4h0M1512.1 1141.3h0M1526.1 1144.2h0M1531.1 1147.1h0M1537.8 1146.1h0M1529 1144.3h0M1532.4 1140.6h0M1538.9 1141.8h0M1534 1155.3h0M1536.5 1146.5h0M1532.6 1152.8h0M1552 1152.1h0M1549.5 1148.5h0M1541.7 1155.4h0M1549.7 1147.3h0M1545.3 1152.3h0M1537 1143.9h0M1547.9 1155.1h0M1548.2 1155.2h0M1550.3 1153.2h0M1548.8 1147.4h0M1555.5 1159.5h0M1563.9 1156.6h0M1560.5 1157h0M1550.3 1150.9h0M1560.8 1152.1h0M1561.3 1157.6h0M1562.8 1156.8h0M1553.3 1161.6h0M1562.6 1153.8h0M1564.9 1157.2h0M1551.8 1151.3h0M1555.5 1146.1h0M1556.9 1153.4h0M1563.8 1153.6h0M1568.2 1156.1h0M1572.5 1159.3h0M1573.8 1158h0M1576.2 1154.2h0M1581.3 1155.4h0M1577.6 1155.7h0M1588.5 1162.9h0M1579.4 1152.1h0M1579 1154.9h0M1585.4 1159.1h0M1586 1154.6h0M1576.5 1159.1h0M1578 1154.1h0M1576.6 1152.5h0M1595.1 1149.5h0M1602.4 1150.3h0M1593.3 1152.6h0M1598.4 1152.6h0M1591.5 1152.3h0M1589.9 1146.9h0M1598.3 1148.4h0M1598.3 1150h0M1589.2 1149.6h0M1591.1 1149h0M1615.8 1149.8h0M1600.7 1148.6h0M1612.4 1151.5h0M1614.6 1138.1h0M1611.6 1152.4h0M1616.3 1146.7h0M1608.1 1153.6h0M1603.7 1148.2h0M1616 1153.2h0M1605.4 1156.5h0M1611.5 1141h0M1624.8 1144.8h0M1626.4 1145.4h0M1617.2 1145.9h0M1623.8 1147.1h0M1623.6 1142.7h0M1617.2 1142.9h0M1617.1 1142.9h0M1619.3 1145h0M1624.2 1143.4h0M1617.1 1144.6h0M1624.3 1154.9h0M1623.8 1139.4h0M1630.3 1145h0M1614.6 1145.8h0M1632.1 1138.9h0M1632.1 1148.1h0M1629.7 1146.7h0M1634.8 1138.7h0M1629 1141.2h0M1630.4 1137.1h0M1637.1 1144.5h0M1632.4 1154.2h0M1631 1147.6h0M1646.1 1144.8h0M1637.4 1140.1h0M1646.9 1147.5h0M1645.9 1150.1h0M1643.7 1152.4h0M1644 1148.1h0M1641.2 1146.8h0M1649.7 1146h0M1645.6 1148.9h0M1639 1141.3h0M1622.1 1158.3h0M1614.9 1155.6h0M1625 1143.9h0M1614.2 1148h0M1630 1153.2h0M1621 1147.4h0M1619.7 1156.2h0" stroke="#BEBEBE"/>
<path d="M1511.1 1157.4h0" stroke="#4E79A7"/>
<path d="M1510 1160.5h0" stroke="#BEBEBE"/>
<path d="M1517.2 1152.8h0" stroke="#4E79A7"/>
<path d="M1515.4 1154.6h0" stroke="#BEBEBE"/>
<path d="M1550.6 1152.3h0" stroke="#4E79A7"/>
<path d="M1549.9 1149.4h0" stroke="#BEBEBE"/>
<path d="M1508.3 1146.7h0" stroke="#4E79A7"/>
<path d="M1507.6 1148.6h0" stroke="#BEBEBE"/>
<path d="M1532 1148.7h0" stroke="#4E79A7"/>
<path d="M1533.8 1145.9h0" stroke="#BEBEBE"/>
<path d="M1538.9 1149.9h0" stroke="#4E79A7"/>
<path d="M1539.4 1152.6h0" stroke="#BEBEBE"/>
<path d="M1643.4 1144.6h0M1649.3 1143.5h0M1647.3 1135.4h0M1637.3 1135.7h0M1643.6 1137.7h0M1642.4 1139.4h0M1642.7 1139.9h0M1636.8 1141.2h0M1639 1134.6h0M1636.7 1147.4h0M1643.2 1139.1h0M1609.9 1150.6h0" stroke="#F28E2B"/>
<path d="M1611.5 1152.5h0" stroke="#BEBEBE"/>
<path d="M1624.8 1147.9h0" stroke="#F28E2B"/>
<path d="M1624.3 1150.1h0" stroke="#BEBEBE"/>
<path d="M1608.4 1143.2h0" stroke="#F28E2B"/>
<path d="M1607 1141h0" stroke="#BEBEBE"/>
<path d="M1611.9 1152.2h0" stroke="#F28E2B"/>
<path d="M1612.8 1155.2h0" stroke="#BEBEBE"/>
<path d="M1620.3 1140.6h0" stroke="#F28E2B"/>
<path d="M1619.6 1138.4h0" stroke="#BEBEBE"/>
<path d="M1618.7 1149.5h0" stroke="#F28E2B"/>
<path d="M1619.8 1147.7h0" stroke="#BEBEBE"/>
<path d="M1611.4 1145h0" stroke="#F28E2B"/>
<path d="M1611.3 1146.7h0" stroke="#BEBEBE"/>
<path d="M1613.7 1146.9h0" stroke="#F28E2B"/>
<path d="M1614.8 1144.1h0" stroke="#BEBEBE"/>
<path d="M1632 1148.4h0" stroke="#F28E2B"/>
<path d="M1632.2 1150.9h0" stroke="#BEBEBE"/>
<path d="M1914.4 703.3h0M1796.6 964h0" stroke="#F28E2B"/>
<path d="M1509.8 1106.8h0M1516.2 1117.2h0M1499.8 1130.8h0M1504.8 1130.8h0M1513.8 1129.8h0M1534.7 1130.8h0M1678.5 1132.4h0M1680.5 1147.8h0M1657.5 1147.8h0M1406.6 1151.8h0M1441.3 1153.8h0M1449.9 1147.2h0M1477.8 1151.8h0M1485.8 1156.8h0M1495.8 1155.8h0M1619.6 1131.8h0M1626.6 1131.8h0M1591.6 1139.8h0M1542.7 1140.8h0M1575.7 1146.2h0" stroke="#BEBEBE"/>
<path d="M1434.3 1131h0M1474.9 1121.2h0M1484.2 1119.2h0M1528.4 1122.4h0M1505.4 1139.8h0M1464.3 1147.2h0" stroke="#4E79A7"/>
<path d="M1656.5 1079.9h0M1668.1 1084.9h0M1677.5 1103.3h0M1671.1 1139.8h0M1718.4 1143.2h0M1645.5 1125.8h0M1654.5 1127.4h0M1619.6 1157.8h0M1631.6 1157.8h0" stroke="#F28E2B"/>
<line x1="1533" y1="681.3" x2="1533" y2="1181.7" stroke="#000" stroke-width="2.1" stroke-linecap="butt"/>
<line x1="1603.9" y1="681.3" x2="1603.9" y2="1181.7" stroke="#000" stroke-width="2.1" stroke-linecap="butt"/>
<line x1="1381.7" y1="1151.8" x2="1938.8" y2="1151.8" stroke="#000" stroke-width="2.1" stroke-linecap="butt"/>
<path d="M1381.7 681.3V1181.7H1938.8" fill="none" stroke="#000" stroke-width="2.1" stroke-linecap="butt" stroke-linejoin="miter"/>
<line x1="1375.7" y1="767.5" x2="1381.7" y2="767.5" stroke="#000" stroke-width="2.1" stroke-linecap="butt"/>
<text x="1369.5" y="775.3" font-size="20.3" text-anchor="end" fill="#4d4d4d">75</text>
<line x1="1375.7" y1="899" x2="1381.7" y2="899" stroke="#000" stroke-width="2.1" stroke-linecap="butt"/>
<text x="1369.5" y="906.8" font-size="20.3" text-anchor="end" fill="#4d4d4d">50</text>
<line x1="1375.7" y1="1029.5" x2="1381.7" y2="1029.5" stroke="#000" stroke-width="2.1" stroke-linecap="butt"/>
<text x="1369.5" y="1037.3" font-size="20.3" text-anchor="end" fill="#4d4d4d">25</text>
<line x1="1375.7" y1="1160.1" x2="1381.7" y2="1160.1" stroke="#000" stroke-width="2.1" stroke-linecap="butt"/>
<text x="1369.5" y="1167.9" font-size="20.3" text-anchor="end" fill="#4d4d4d">0</text>
<line x1="1383.3" y1="1181.7" x2="1383.3" y2="1187.7" stroke="#000" stroke-width="2.1" stroke-linecap="butt"/>
<text x="1383.3" y="1208.9" font-size="20.3" text-anchor="middle" fill="#4d4d4d">-0.5</text>
<line x1="1568.6" y1="1181.7" x2="1568.6" y2="1187.7" stroke="#000" stroke-width="2.1" stroke-linecap="butt"/>
<text x="1568.6" y="1208.9" font-size="20.3" text-anchor="middle" fill="#4d4d4d">0.0</text>
<line x1="1753.5" y1="1181.7" x2="1753.5" y2="1187.7" stroke="#000" stroke-width="2.1" stroke-linecap="butt"/>
<text x="1753.5" y="1208.9" font-size="20.3" text-anchor="middle" fill="#4d4d4d">0.5</text>
<line x1="1938.8" y1="1181.7" x2="1938.8" y2="1187.7" stroke="#000" stroke-width="2.1" stroke-linecap="butt"/>
<text x="1938.8" y="1208.9" font-size="20.3" text-anchor="middle" fill="#4d4d4d">1.0</text>
<text x="1830.6" y="712.5" font-size="25.8" font-style="italic" text-anchor="middle" fill="#DB8C3F">AC149090.1</text>
<text x="1773.8" y="994.4" font-size="25.8" font-style="italic" text-anchor="middle" fill="#DB8C3F">Ifi27</text>
<text x="1631.7" y="1069" font-size="25.8" font-style="italic" text-anchor="middle" fill="#DB8C3F">Usp18</text>
<text x="1726.2" y="1093" font-size="25.8" font-style="italic" text-anchor="middle" fill="#DB8C3F">Dpysl2</text>
<text x="1722.9" y="1132.4" font-size="25.8" font-style="italic" text-anchor="middle" fill="#DB8C3F">Oasl2</text>
</g>
<g fill="none" stroke-width="10.2" stroke-linecap="round">
<text x="317.6" y="1461.8" font-size="39.2" text-anchor="middle" fill="#1a1a1a">Oligodendrocyte</text>
<path d="M176.5 1859.9h0M169.5 1851.6h0M179.3 1860.7h0M178.8 1855.4h0M182 1850.3h0M182.3 1845.1h0M177.7 1850.2h0M173.2 1852.4h0M191.1 1869.2h0M187.6 1842.8h0M185.2 1846.3h0M187.2 1875.7h0M177.2 1876.3h0M188.4 1880.4h0M179.6 1862h0M183.5 1876.2h0M182 1864.3h0M183.4 1885.1h0M183.8 1885.8h0M187.4 1884.3h0M193 1881.6h0M185.7 1853.4h0M191.2 1870.1h0M190.1 1881.2h0M181.8 1855.4h0M188 1881.1h0M182.1 1855.6h0M204 1901.3h0M189.9 1859.9h0M203.8 1883.4h0M196.1 1854.5h0M201.2 1874.1h0M198.9 1893.9h0M195 1878.5h0M198.5 1880.6h0M191.6 1873.9h0M200.6 1878.8h0M201.1 1906.5h0M199.1 1865.4h0M192.5 1876.8h0M196.3 1898h0M198.4 1897.9h0M204.9 1883.8h0M196 1893.3h0M201 1913.2h0M199.8 1897.9h0M194.4 1897.4h0M200.2 1884.9h0M195.4 1850.9h0M204.6 1883.6h0M193.1 1872.3h0M203.1 1913.9h0M212.7 1920.6h0M216.5 1876.7h0M210.5 1887.2h0M206.1 1847.7h0M208.1 1883h0M215.1 1905.1h0M210.9 1888.2h0M206.2 1856.2h0M211.2 1863.6h0M211.2 1864.2h0M208.5 1860.7h0M209.1 1885.2h0M212.6 1919h0M207.8 1913.7h0M206.6 1918.1h0M208.6 1899.6h0M214 1906.3h0M209.2 1908.6h0M206.1 1917.1h0M215.8 1887.5h0M209.7 1883h0M208.4 1898.5h0M213.8 1923.2h0M211.2 1875.2h0M210.7 1911.9h0M208.7 1879.3h0M210.2 1865.8h0M215.3 1876.5h0M201.5 1882.1h0M220.3 1904.5h0M210.8 1888.2h0M219.5 1877.9h0M223.4 1875.2h0M222.5 1903.7h0M227.2 1923h0M217.8 1915h0M222.1 1892.3h0M220.5 1905.5h0M222.6 1894.5h0M226 1881h0M232.2 1881.6h0M220.6 1902.2h0M224 1904.5h0M219.3 1910.1h0M225.5 1877.8h0M218.2 1924.9h0M215 1866.2h0M222 1891.8h0M220.6 1880.7h0M225.5 1889.2h0M222.1 1863.8h0M226.4 1916.6h0M226.4 1905.8h0M219.4 1875.7h0M224.2 1926.8h0M214 1895.2h0M220.7 1928.3h0M224 1890.2h0M221.6 1879.1h0M227.6 1911.4h0M224 1935.6h0M221.6 1890h0M222.3 1870.2h0M236.2 1921.7h0M231.9 1906.2h0M238.2 1897.5h0M236.8 1924.4h0M225.3 1935.8h0M234 1932.4h0M236.7 1945.3h0M241.9 1935.9h0M232.5 1931.2h0M230.2 1893.1h0M236.3 1939.5h0M237.8 1936.4h0M231.2 1923.7h0M226.6 1899.8h0M230.6 1885.5h0M238.2 1928.5h0M229.9 1875.2h0M234.8 1935h0M240.2 1936.9h0M227.6 1913.5h0M234.2 1908.7h0M227.9 1930.6h0M228.5 1902.1h0M229.1 1919.8h0M228.4 1897h0M234 1938.2h0M234.6 1903.5h0M257.6 1939.4h0M251.9 1921.8h0M250.8 1925.5h0M254.9 1943.6h0M252.8 1945.4h0M249.9 1913.8h0M252 1898.7h0M250.5 1902.5h0M250.8 1915.7h0M244.9 1915.5h0M250.8 1928.4h0M251.3 1909.6h0M244 1926.2h0M243 1927.1h0M251 1905.7h0M255.1 1915.9h0M254.5 1914.9h0M245.9 1950.1h0M246.6 1941.7h0M261.5 1950.3h0M261.9 1941.8h0M242.7 1940h0M262.2 1948.9h0M261.9 1933.9h0M237.2 1910.3h0M243.3 1901.7h0M254 1942.1h0M241.4 1916.7h0M244.7 1894.4h0M248.8 1914.3h0M258.1 1910h0M247.2 1934.7h0M248.3 1916h0M256.9 1907.9h0M253 1917.4h0M255.5 1948.6h0M248.3 1924.4h0M248.1 1950.8h0M255.1 1911.2h0M255.1 1943.5h0M243 1913.4h0M264.7 1924.4h0M277 1912.1h0M267.6 1911h0M272.1 1945.4h0M262.4 1906.1h0M271.7 1915.2h0M270.4 1929.3h0M256.1 1933.1h0M280.2 1917.8h0M262 1937.9h0M263.5 1912.4h0M265.5 1929.3h0M274.3 1921.5h0M270.6 1944.3h0M263.6 1927.9h0M267.2 1928.9h0M280 1901.6h0M272.9 1946.5h0M260.9 1918.5h0M264.9 1920.1h0M264.7 1943.9h0M274.6 1917.3h0M278.9 1921.9h0M262.6 1918.1h0M262.6 1909.3h0M262.2 1943.9h0M265.7 1906.7h0M270.6 1944.1h0M263.4 1922.1h0M264.3 1911.8h0M278 1914.1h0M271.5 1944.2h0M266.1 1948.7h0M273.9 1927.9h0M273.1 1929.2h0M267.7 1932.5h0M270.9 1930.3h0M271.6 1928h0M278.5 1945.3h0M270.9 1927.8h0M277.6 1951.4h0M290.1 1904.6h0M292.7 1944.1h0M291.2 1935.4h0M283.3 1934h0M285.9 1944.7h0M280.7 1908.9h0M283.9 1954.8h0M292.7 1920.9h0M291.5 1941.3h0M286.7 1912.8h0M284.8 1908.4h0M279.7 1930.1h0M290.6 1896.6h0M282.1 1899.9h0M288.8 1927.3h0M289.9 1942h0M286.6 1947h0M289 1901.1h0M291.8 1929.7h0M292.2 1914.7h0M290.6 1930.5h0M285.2 1949.9h0M286.1 1934.9h0M302.5 1935.3h0M306 1912.2h0M300.8 1917.6h0M298.8 1935.2h0M298.8 1948h0M305.7 1887.8h0M299.3 1921.7h0M289.9 1898.5h0M304.5 1930.2h0M304.7 1923h0M301.5 1927.2h0M294.6 1926.9h0M302.9 1909.7h0M294.3 1911.9h0M298.6 1895.1h0M288.5 1906.4h0M294.1 1907.8h0M305.4 1886.7h0M294.9 1934.2h0M299.7 1945.1h0M304.1 1912.2h0M308.9 1933.2h0M310 1948.5h0M296.2 1947.9h0M296.7 1919.1h0M307.3 1902.6h0M298.7 1916.9h0M306.4 1940.9h0M309.7 1884.2h0M304.2 1928.3h0M298 1898.9h0M302.3 1913h0M301.8 1934.1h0M304.3 1889.3h0M298.6 1926.9h0M309.7 1938.9h0M312.6 1886.5h0M307.8 1907.1h0M315.4 1933h0M319.2 1933.1h0M308.6 1887.7h0M310.6 1933.9h0M311.3 1941.5h0M315.2 1919.9h0M311.8 1896.6h0M313.4 1933.5h0M307.9 1888.8h0M318.2 1924.6h0M312 1908.5h0M324.4 1919.7h0M316.5 1910.9h0M315.6 1916.7h0M307.1 1944.9h0M306.8 1940.9h0M318.1 1936.4h0M317.9 1921.6h0M318 1939h0M313.5 1885.7h0M309.2 1904.7h0M312 1937.1h0M304.5 1923.9h0M311.5 1894.8h0M325.9 1890.5h0M324.1 1921.6h0M328.5 1923.5h0M318.1 1877.7h0M319.3 1878.6h0M321.7 1889.9h0M330.8 1906.5h0M320.9 1907.1h0M323.4 1924h0M331.5 1918.7h0M328.7 1905.4h0M317.5 1876h0M334.4 1914.9h0M327.3 1892.9h0M327.5 1918.5h0M318.4 1900.3h0M320.3 1921.6h0M326.5 1877.8h0M329 1907.5h0M327 1882.3h0M328.8 1902.2h0M325.7 1908.9h0M321.2 1897.8h0M332.1 1905.1h0M322.4 1907.4h0M320.6 1923.4h0M330 1871.2h0M335.2 1901.3h0M337.1 1888.8h0M336.1 1885.6h0M342 1892.7h0M334.4 1886.8h0M338 1874.6h0M340.8 1900.8h0M332.4 1883.2h0M337 1895.3h0M344.1 1883.3h0M333 1907.9h0M341.1 1915.6h0M341.2 1864.5h0M329.8 1916.8h0M337.5 1898.3h0M339.2 1890.9h0M336.2 1911.4h0M338 1903.8h0M338.9 1900.8h0M332.9 1867.6h0M334.5 1900.6h0M334.8 1866.6h0M339.6 1913.7h0M341.8 1873.1h0M334.2 1866.1h0M346.4 1903.2h0M353.4 1881h0M354.7 1877.3h0M350.8 1906.3h0M349.7 1897h0M348.4 1890.5h0M353.1 1879.7h0M354.6 1892.4h0M345.7 1877.3h0M348.4 1900.2h0M352.3 1907.1h0M346.5 1879.9h0M346.5 1897.8h0M347 1902.8h0M353.7 1897.7h0M347.4 1878.6h0M356.7 1867.3h0M354.8 1898.1h0M356.5 1896.2h0M346.5 1899.6h0M355.5 1861.5h0M351.4 1872h0M348.6 1895h0M345.9 1891.8h0M360.4 1882.9h0M368.3 1845.8h0M372.5 1866.4h0M372 1874.4h0M366.1 1850.9h0M373 1847.7h0M374.3 1850.8h0M374.5 1867h0M368.3 1853.3h0M371.6 1872.8h0M363.8 1856.6h0M373.9 1867.3h0M379.5 1857.6h0M376.3 1853.9h0M375 1871.1h0M379.6 1855.3h0M383.8 1851.9h0M385.7 1864h0M176.3 1858.3h0M178.5 1860h0M180.5 1858.3h0M177.2 1870.8h0M174.5 1852.4h0M179.6 1870.5h0M175.9 1843.5h0M178.5 1850.7h0M175.5 1852.7h0M183.5 1855.5h0M182.8 1857.7h0M192.3 1861.4h0M183.3 1855.6h0M186.7 1855.7h0M181.8 1867.7h0M185.3 1861.5h0M187.5 1860.7h0M186 1862.1h0M186.5 1857.2h0M183.3 1861.4h0M186.7 1864.7h0M190.4 1856.2h0M185.8 1862.1h0M180.1 1865.4h0M186.8 1869.2h0M185.7 1866.8h0M183.7 1864.8h0M184.1 1863.7h0M178.2 1856.7h0M189.7 1883.9h0M187.2 1863.4h0M198.8 1865.1h0M197.7 1887.2h0M198.6 1870.9h0M204.5 1885.3h0M199.9 1870h0M200.7 1875.7h0M194.9 1870h0M196.6 1881.4h0M203.8 1898h0M201.8 1881.4h0M200.3 1869.7h0M199.4 1876.4h0M195 1879.9h0M204.9 1868.6h0M197.8 1898.1h0M199 1885.3h0M193.5 1876.5h0M204.7 1880.5h0M192 1880.5h0M196.8 1875.9h0M200.7 1892.5h0M195.5 1872.9h0M199.2 1885.3h0M198 1877.9h0M201.3 1874.8h0M198.5 1882.6h0M193 1862.5h0M200.1 1885.7h0M192.3 1876.1h0M208.5 1888h0M209.4 1891.9h0M215.5 1896.6h0M207.4 1902.2h0M214.2 1895.4h0M210.2 1888.9h0M216 1875.2h0M207.1 1910.5h0M206.5 1890.5h0M204.9 1896.9h0M217 1886.5h0M218.9 1890.9h0M217.2 1889.2h0M208.6 1894.8h0M204.2 1861.3h0M198.7 1901h0M214.8 1876.5h0M212.7 1895.3h0M211.9 1912.1h0M210.3 1912.6h0M203.7 1899.5h0M214.8 1894h0M209.6 1883.7h0M208.3 1914.1h0M202.4 1889h0M211.5 1909.8h0M215.6 1898.7h0M216.2 1894.7h0M204.5 1870.5h0M213 1915.8h0M214.3 1914.4h0M206 1864.6h0M201.6 1885.6h0M207.3 1892.8h0M204.2 1886.1h0M221 1924h0M226.7 1891.5h0M219.1 1893.7h0M216.2 1917.3h0M216.6 1919.5h0M224.2 1912.1h0M216.8 1919.6h0M220.5 1893.7h0M216.8 1916.9h0M224.4 1899.8h0M220 1918.6h0M222.9 1883.3h0M218.4 1878h0M221.4 1901.8h0M221.1 1906.1h0M217.6 1902h0M222.9 1913.7h0M219.8 1879.8h0M223.1 1894.9h0M228.6 1906.3h0M213 1887.1h0M228.1 1902.3h0M218.5 1929.7h0M218.8 1900.6h0M225.4 1899.9h0M223.9 1892.3h0M214.6 1873.3h0M222.4 1900.5h0M227.3 1920h0M224.9 1897.1h0M227.3 1875.8h0M218.6 1909.7h0M219.2 1882.5h0M219.9 1886.3h0M222.8 1908.2h0M219.4 1926.1h0M219.3 1900.3h0M230.4 1909.3h0M233.1 1932h0M228.9 1890.3h0M231.5 1916.1h0M227.6 1911.3h0M231 1913.4h0M240.4 1930.8h0M234.3 1912.6h0M237.3 1922.5h0M237.1 1907.3h0M229.1 1897.8h0M236.3 1925.7h0M237.8 1922.2h0M226.7 1909.5h0M232.3 1910.3h0M237.1 1929.8h0M237.1 1915.2h0M233.8 1909h0M240.6 1922h0M227.6 1904.6h0M228.3 1893.2h0M232.5 1896.7h0M239.3 1922h0M227.2 1886.1h0M234.4 1942.1h0M231.7 1945.5h0M233.9 1922h0M233.5 1925.4h0M235.6 1899.8h0M230.4 1906.3h0M235.3 1928.6h0M229.1 1929.4h0M255.2 1935.4h0M242.4 1911.5h0M237.1 1924.5h0M253.6 1923.3h0M239.9 1925.7h0M247.6 1919.9h0M250.1 1928.2h0M246.7 1914.1h0M250.9 1953h0M238.7 1937.6h0M244.6 1907.7h0M254.8 1938h0M251.6 1909.7h0M245.9 1908.5h0M255.2 1932.9h0M259.1 1930.4h0M251.4 1926.2h0M245.7 1936.6h0M243.6 1923.7h0M249.9 1914.6h0M247.1 1896.4h0M254.4 1926.9h0M255.7 1926.7h0M253.7 1941.3h0M239.6 1922.3h0M247.1 1918.1h0M258.5 1927.6h0M249.7 1919.1h0M257.6 1947h0M251.5 1927.3h0M240.9 1931.3h0M250.6 1927.1h0M262 1927.4h0M256.9 1918.4h0M251.4 1911.7h0M244.2 1931.1h0M249.1 1923.6h0M258.6 1944.5h0M245.9 1926.4h0M246.1 1918.3h0M242.1 1915.5h0M247.5 1924.4h0M257.1 1928.3h0M256.2 1940.6h0M246.4 1927.7h0M239 1907.9h0M272.2 1916h0M276.7 1929.3h0M269.3 1927.4h0M279.9 1932.8h0M276.9 1903.7h0M268.2 1933.8h0M267.3 1944.4h0M276.5 1944.2h0M271.4 1916.5h0M268.6 1916.5h0M276.9 1917.7h0M267.1 1916.7h0M272 1934.2h0M264.9 1943.6h0M275.8 1942.4h0M275.2 1938.7h0M260.7 1939.2h0M272.4 1926.7h0M263.5 1933.1h0M260.1 1926.3h0M270.3 1933.1h0M271.4 1936.4h0M277.9 1928.3h0M264.4 1921.8h0M262.1 1944h0M267.4 1927.3h0M277.1 1918h0M275.5 1936.3h0M261.3 1923.5h0M270.3 1918.5h0M265.6 1931.7h0M280.5 1941.4h0M274.8 1942.6h0M260.5 1931.1h0M263.4 1939.3h0M263.6 1912.4h0M270.8 1925.3h0M267.9 1937.4h0M274.6 1910h0M264.8 1916.3h0M277.3 1914.3h0M271.6 1908.5h0M259 1940.1h0M272.3 1920.4h0M276.5 1916.6h0M291.6 1915.9h0M281 1919.3h0M277.5 1929.3h0M280 1944.5h0M288.9 1910h0M279.7 1923.4h0M287.5 1921.7h0M295.4 1912h0M289.8 1922.1h0M279 1927.6h0M283.9 1925.6h0M285.8 1931h0M282.9 1934.1h0M284.6 1921.1h0M280.8 1926.5h0M282.9 1922.5h0M287.4 1935.7h0M278.7 1903h0M286.2 1931.8h0M283.7 1935.9h0M289.9 1915.7h0M292 1922h0M281.5 1929h0M285.1 1927.7h0M292.1 1904.4h0M289.7 1929.2h0M283 1913.1h0M284.4 1931.3h0M303.6 1929.8h0M305.6 1898.6h0M290.7 1928.9h0M305 1905.8h0M302.8 1924.2h0M304.3 1907.3h0M309.1 1888.2h0M302.6 1910.8h0M298.3 1918.2h0M308.2 1917.2h0M304.7 1904.5h0M300.7 1923.4h0M292.2 1919.6h0M298 1925.9h0M305.5 1923.2h0M304.1 1929.8h0M295.6 1902.9h0M304.2 1898.3h0M298.4 1934.9h0M293.7 1904.2h0M308.9 1916.8h0M298 1932.2h0M303.1 1895.7h0M306 1900.5h0M290.6 1918.3h0M307 1913.4h0M301.9 1906.2h0M299.4 1946.9h0M304.4 1924.4h0M294.9 1925.8h0M302.1 1925.7h0M301.1 1910.5h0M301.4 1917.1h0M293.5 1923h0M292 1926.8h0M303.6 1926h0M295.6 1921.7h0M292.4 1902.5h0M302.2 1912.9h0M300.2 1938.7h0M309.7 1927.8h0M320 1914h0M313.9 1906.1h0M316.4 1900.6h0M312.9 1898.2h0M310 1907.8h0M317.4 1921.1h0M316.5 1890h0M314.8 1910.9h0M316.3 1923.1h0M319.5 1925.9h0M313.6 1919.5h0M318.7 1920.8h0M310.9 1903.4h0M314 1923.7h0M312.8 1915.6h0M311.3 1904.1h0M313.2 1914h0M308.6 1901h0M314.6 1894.6h0M317.2 1903h0M315 1898.6h0M318.8 1883.6h0M309.2 1897.9h0M312.7 1888.3h0M312.5 1903h0M319.4 1913.4h0M320 1908h0M312.1 1914h0M313.4 1885.6h0M311.8 1909.9h0M316.2 1882.2h0M318.2 1922h0M317.1 1902.4h0M327.6 1896.8h0M330.3 1903.9h0M330.1 1899.4h0M323.7 1910.5h0M321.9 1897.4h0M327.3 1901.1h0M330 1887.2h0M325.4 1915.5h0M335 1923.3h0M321.9 1905.1h0M325 1910.2h0M330.5 1923.3h0M322.7 1913.2h0M324.4 1912.5h0M323.1 1886.9h0M328.6 1908h0M318.7 1931.6h0M318.6 1885.4h0M321.5 1907.2h0M330.4 1885h0M330.4 1885.7h0M320.2 1889.9h0M330.9 1884.3h0M324.8 1906.9h0M330.1 1923.6h0M321.6 1906.3h0M321 1905.1h0M327.3 1886.2h0M322.6 1906.3h0M320.5 1920.9h0M342.9 1879.7h0M340.2 1904h0M334 1899.4h0M332.6 1882.9h0M340 1908.9h0M336.3 1899.9h0M332 1890.3h0M337.6 1894.1h0M342.3 1894h0M335.7 1920.2h0M338.9 1909.6h0M345.9 1902.6h0M336 1896.2h0M340.1 1900.4h0M337.2 1880.2h0M333.1 1893.5h0M341.1 1876.6h0M334.8 1903.8h0M345.1 1907.3h0M334.8 1888.3h0M334.1 1915.2h0M337.6 1908.3h0M336.9 1884.7h0M339.3 1904.2h0M335.1 1874.2h0M339.5 1886.1h0M337.1 1892.2h0M334.2 1900.2h0M344.7 1915.2h0M358.1 1908.2h0M347.7 1877h0M351.4 1880.6h0M347.2 1878.9h0M344.4 1881.8h0M351.6 1884.2h0M345.8 1894.8h0M342.6 1872.2h0M351.9 1891.6h0M354.1 1874h0M353.4 1875.9h0M349.6 1883h0M349.7 1889.1h0M354.3 1877.3h0M351.3 1870.2h0M354.9 1892.1h0M346.1 1886h0M352.3 1887.5h0M349.6 1896h0M344.8 1867.8h0M354.1 1886.9h0M354 1891.4h0M350.9 1885.4h0M345.8 1888h0M355.4 1881.3h0M356.7 1886.4h0M350.5 1868.1h0M355.2 1879.1h0" stroke="#BEBEBE"/>
<path d="M223.2 1908.1h0" stroke="#4E79A7"/>
<path d="M224.5 1911.1h0" stroke="#BEBEBE"/>
<path d="M213.8 1908.7h0" stroke="#4E79A7"/>
<path d="M212.8 1910.5h0" stroke="#BEBEBE"/>
<path d="M205.9 1905.3h0" stroke="#4E79A7"/>
<path d="M204.1 1908.2h0" stroke="#BEBEBE"/>
<path d="M212.1 1887.2h0" stroke="#4E79A7"/>
<path d="M211.4 1889.6h0" stroke="#BEBEBE"/>
<path d="M202.6 1888.5h0" stroke="#4E79A7"/>
<path d="M203 1890.7h0" stroke="#BEBEBE"/>
<path d="M206.6 1902.9h0" stroke="#4E79A7"/>
<path d="M205.8 1904.6h0" stroke="#BEBEBE"/>
<path d="M212 1910.8h0" stroke="#4E79A7"/>
<path d="M213.3 1913.3h0" stroke="#BEBEBE"/>
<path d="M208.9 1899.7h0" stroke="#4E79A7"/>
<path d="M209 1902.1h0" stroke="#BEBEBE"/>
<path d="M346.2 1916.7h0" stroke="#F28E2B"/>
<path d="M347.2 1919.5h0" stroke="#BEBEBE"/>
<path d="M306.6 1929.8h0" stroke="#F28E2B"/>
<path d="M306.4 1931.5h0" stroke="#BEBEBE"/>
<path d="M314 1917.8h0" stroke="#F28E2B"/>
<path d="M314.7 1915.9h0" stroke="#BEBEBE"/>
<path d="M300.3 1925.3h0" stroke="#F28E2B"/>
<path d="M301.1 1927.4h0" stroke="#BEBEBE"/>
<path d="M316.9 1915.3h0" stroke="#F28E2B"/>
<path d="M317.6 1918.3h0" stroke="#BEBEBE"/>
<path d="M335.8 1897.5h0" stroke="#F28E2B"/>
<path d="M334.1 1900.6h0" stroke="#BEBEBE"/>
<path d="M344.1 1910.6h0" stroke="#F28E2B"/>
<path d="M342.5 1913.5h0" stroke="#BEBEBE"/>
<path d="M331.8 1883.9h0" stroke="#F28E2B"/>
<path d="M332.3 1887h0" stroke="#BEBEBE"/>
<path d="M335.3 1903.6h0" stroke="#F28E2B"/>
<path d="M337 1905.3h0" stroke="#BEBEBE"/>
<path d="M344.5 1884.8h0" stroke="#F28E2B"/>
<path d="M343.2 1886.5h0" stroke="#BEBEBE"/>
<path d="M317 1899.8h0" stroke="#F28E2B"/>
<path d="M315.2 1901.8h0" stroke="#BEBEBE"/>
<path d="M304.5 1902.5h0" stroke="#F28E2B"/>
<path d="M303.1 1905.7h0" stroke="#BEBEBE"/>
<path d="M306.4 1923.1h0" stroke="#F28E2B"/>
<path d="M308.1 1921.3h0" stroke="#BEBEBE"/>
<path d="M340.6 1903.1h0" stroke="#F28E2B"/>
<path d="M340.8 1900h0" stroke="#BEBEBE"/>
<path d="M309.9 1892.5h0" stroke="#F28E2B"/>
<path d="M310.4 1894.7h0" stroke="#BEBEBE"/>
<path d="M300.4 1904.1h0" stroke="#F28E2B"/>
<path d="M301.2 1906h0" stroke="#BEBEBE"/>
<path d="M326.8 1908.6h0" stroke="#F28E2B"/>
<path d="M328.5 1910.5h0" stroke="#BEBEBE"/>
<path d="M320.9 1911.2h0" stroke="#F28E2B"/>
<path d="M319.3 1913.8h0M117.7 1507h0M188.2 1684.9h0M162.5 1704.3h0M162.9 1715.5h0M416.2 1706.8h0M472.6 1672.4h0M467.2 1774.8h0" stroke="#BEBEBE"/>
<path d="M161.7 1686.5h0" stroke="#4E79A7"/>
<path d="M614 1498.3h0M577.5 1610.6h0M442.8 1689.4h0" stroke="#F28E2B"/>
<path d="M141.9 1737h0M142.9 1742h0M142.3 1748h0M176.9 1745h0M182.3 1760.9h0M177.9 1787.9h0M193.8 1783.9h0M181.9 1797.9h0M187.8 1799.9h0M190.8 1797.9h0M179.9 1805.8h0M185.8 1813.8h0M151.9 1813.8h0M161.9 1815.8h0M175.9 1831.8h0M167.9 1841.8h0M385.5 1783.9h0M431.4 1778.5h0M351.2 1802.3h0M392.5 1806.2h0M399.5 1806.2h0M363.5 1817.2h0M381.5 1813.8h0M404.5 1823.8h0M348.2 1834.2h0M369.9 1833.8h0M385.5 1829.2h0M381.5 1834.8h0M399.5 1837.8h0M405.5 1839.8h0M349.6 1844.8h0M355.5 1847.8h0M137.9 1931.2h0M392.5 1926.6h0M397.5 1921.6h0M314.6 1872.7h0M339.6 1859.8h0M347.6 1857.8h0" stroke="#BEBEBE"/>
<path d="M128.5 1803.5h0M157.3 1801.3h0M179.9 1841.8h0M147.9 1847.8h0M163.9 1852.8h0M171.9 1877.7h0M178.9 1879.7h0M175.9 1888.7h0M179.9 1895.7h0M184.9 1899.7h0M190.8 1909.7h0M197.8 1912.7h0M202.8 1916.7h0M222.4 1950.6h0M370.9 1925.6h0" stroke="#4E79A7"/>
<path d="M373.5 1759.3h0M404.5 1766.9h0M389.5 1795.3h0M402.9 1795.9h0M415.4 1798.9h0M359.5 1837.2h0M391.9 1838.4h0M341 1850.8h0M391.1 1851.8h0M381.9 1888.3h0M346.6 1911.7h0M329 1927h0M392.9 1918.6h0" stroke="#F28E2B"/>
<line x1="234.2" y1="1476.3" x2="234.2" y2="1977.1" stroke="#000" stroke-width="2.1" stroke-linecap="butt"/>
<line x1="285.2" y1="1476.3" x2="285.2" y2="1977.1" stroke="#000" stroke-width="2.1" stroke-linecap="butt"/>
<line x1="92.9" y1="1951.4" x2="638.8" y2="1951.4" stroke="#000" stroke-width="2.1" stroke-linecap="butt"/>
<path d="M92.9 1476.3V1977.1H638.8" fill="none" stroke="#000" stroke-width="2.1" stroke-linecap="butt" stroke-linejoin="miter"/>
<line x1="86.9" y1="1629.3" x2="92.9" y2="1629.3" stroke="#000" stroke-width="2.1" stroke-linecap="butt"/>
<text x="80.7" y="1637.1" font-size="20.3" text-anchor="end" fill="#4d4d4d">100</text>
<line x1="86.9" y1="1792.2" x2="92.9" y2="1792.2" stroke="#000" stroke-width="2.1" stroke-linecap="butt"/>
<text x="80.7" y="1800" font-size="20.3" text-anchor="end" fill="#4d4d4d">50</text>
<line x1="86.9" y1="1954.7" x2="92.9" y2="1954.7" stroke="#000" stroke-width="2.1" stroke-linecap="butt"/>
<text x="80.7" y="1962.5" font-size="20.3" text-anchor="end" fill="#4d4d4d">0</text>
<line x1="125.2" y1="1977.1" x2="125.2" y2="1983.1" stroke="#000" stroke-width="2.1" stroke-linecap="butt"/>
<text x="125.2" y="2004.3" font-size="20.3" text-anchor="middle" fill="#4d4d4d">-0.5</text>
<line x1="259.9" y1="1977.1" x2="259.9" y2="1983.1" stroke="#000" stroke-width="2.1" stroke-linecap="butt"/>
<text x="259.9" y="2004.3" font-size="20.3" text-anchor="middle" fill="#4d4d4d">0.0</text>
<line x1="394.2" y1="1977.1" x2="394.2" y2="1983.1" stroke="#000" stroke-width="2.1" stroke-linecap="butt"/>
<text x="394.2" y="2004.3" font-size="20.3" text-anchor="middle" fill="#4d4d4d">0.5</text>
<line x1="529" y1="1977.1" x2="529" y2="1983.1" stroke="#000" stroke-width="2.1" stroke-linecap="butt"/>
<text x="529" y="2004.3" font-size="20.3" text-anchor="middle" fill="#4d4d4d">1.0</text>
<line x1="369" y1="1739.6" x2="373.1" y2="1756.2" stroke="#F28E2B" stroke-width="1.9" stroke-linecap="butt"/>
<line x1="366.9" y1="1764.5" x2="388.9" y2="1793.5" stroke="#F28E2B" stroke-width="1.9" stroke-linecap="butt"/>
<line x1="422" y1="1785.2" x2="405.4" y2="1794.7" stroke="#F28E2B" stroke-width="1.9" stroke-linecap="butt"/>
<line x1="368.1" y1="1810.1" x2="389.7" y2="1834.9" stroke="#F28E2B" stroke-width="1.9" stroke-linecap="butt"/>
<line x1="314.2" y1="1865.2" x2="339.1" y2="1852.8" stroke="#F28E2B" stroke-width="1.9" stroke-linecap="butt"/>
<line x1="393" y1="1855.7" x2="413.7" y2="1877.6" stroke="#F28E2B" stroke-width="1.9" stroke-linecap="butt"/>
<line x1="130.6" y1="1805.9" x2="149.2" y2="1818.3" stroke="#4E79A7" stroke-width="1.9" stroke-linecap="butt"/>
<line x1="234.2" y1="1797.6" x2="182.4" y2="1841.1" stroke="#4E79A7" stroke-width="1.9" stroke-linecap="butt"/>
<line x1="203.1" y1="1832.9" x2="182.4" y2="1843.2" stroke="#4E79A7" stroke-width="1.9" stroke-linecap="butt"/>
<text x="592" y="1528.2" font-size="25.8" font-style="italic" text-anchor="middle" fill="#DB8C3F">Sgk1</text>
<text x="600.3" y="1599.9" font-size="25.8" font-style="italic" text-anchor="middle" fill="#DB8C3F">C4b</text>
<text x="465.1" y="1678.7" font-size="25.8" font-style="italic" text-anchor="middle" fill="#DB8C3F">Neat1</text>
<text x="369.4" y="1734.3" font-size="25.8" font-style="italic" text-anchor="middle" fill="#DB8C3F">Ubc</text>
<text x="438.6" y="1756.2" font-size="25.8" font-style="italic" text-anchor="middle" fill="#DB8C3F">Sv2a</text>
<text x="326.7" y="1769.5" font-size="25.8" font-style="italic" text-anchor="middle" fill="#DB8C3F">Eif2s2</text>
<text x="471.4" y="1792.3" font-size="25.8" font-style="italic" text-anchor="middle" fill="#DB8C3F">Adipor2</text>
<text x="353.6" y="1806" font-size="25.8" font-style="italic" text-anchor="middle" fill="#DB8C3F">Cirbp</text>
<text x="438.6" y="1828.8" font-size="25.8" font-style="italic" text-anchor="middle" fill="#DB8C3F">Nmt1</text>
<text x="315.1" y="1841.2" font-size="25.8" font-style="italic" text-anchor="middle" fill="#DB8C3F">Zeb2</text>
<text x="281.1" y="1877.3" font-size="25.8" font-style="italic" text-anchor="middle" fill="#DB8C3F">Apoe</text>
<text x="443.6" y="1864.8" font-size="25.8" font-style="italic" text-anchor="middle" fill="#DB8C3F">Pou3f1</text>
<text x="431.1" y="1900.5" font-size="25.8" font-style="italic" text-anchor="middle" fill="#DB8C3F">Gstm1</text>
<text x="183.7" y="1675.4" font-size="25.8" font-style="italic" text-anchor="middle" fill="#4F7099">Cryab</text>
<text x="177.4" y="1790.2" font-size="25.8" font-style="italic" text-anchor="middle" fill="#4F7099">Phyhipl</text>
<text x="268.6" y="1805.1" font-size="25.8" font-style="italic" text-anchor="middle" fill="#4F7099">Gnb2</text>
<text x="136.8" y="1833.8" font-size="25.8" font-style="italic" text-anchor="middle" fill="#4F7099">Nudt4</text>
<text x="188.6" y="1830.8" font-size="25.8" font-style="italic" text-anchor="middle" fill="#4F7099">Gamt</text>
<text x="241.7" y="1842" font-size="25.8" font-style="italic" text-anchor="middle" fill="#4F7099">Spcs1</text>
</g>
<g fill="none" stroke-width="10.2" stroke-linecap="round">
<text x="954.3" y="1461.8" font-size="39.2" text-anchor="middle" fill="#1a1a1a">Microglia</text>
<path d="M851.3 1886.4h0M851.7 1900.4h0M846 1895.7h0M845.3 1890.6h0M851.9 1903.7h0M848.1 1876.7h0M843.9 1900h0M850.2 1907.5h0M860.7 1914.1h0M860.9 1896.4h0M852.4 1899.2h0M859.9 1907.5h0M850.7 1914.9h0M851.7 1894.9h0M863.4 1916.9h0M859.4 1922.4h0M853.9 1902.6h0M853.9 1904.7h0M854.6 1907.8h0M858.3 1922.7h0M853.9 1911.1h0M861.6 1917.7h0M851.5 1900.5h0M857.2 1901.8h0M859.4 1899.9h0M865.2 1909.3h0M859.8 1905.3h0M871.8 1928.4h0M874.8 1933.4h0M863.8 1895.2h0M865.6 1926.4h0M872.2 1933h0M875.5 1924.3h0M873.4 1901.8h0M865.9 1923.9h0M866.7 1914.2h0M874.2 1927.2h0M874.9 1916.6h0M875.4 1905.6h0M874.6 1926.5h0M861.7 1929.5h0M874.2 1926.6h0M864.9 1902.4h0M870.5 1933.4h0M871.6 1934.8h0M880.7 1931.7h0M884.3 1917.8h0M883.6 1914.5h0M883.5 1915.8h0M887.5 1916.7h0M875.1 1911.6h0M878.1 1914.7h0M876.7 1929.9h0M880.5 1918.4h0M890.1 1913h0M878.4 1929.1h0M875.7 1926.4h0M879.3 1909h0M874.8 1925.7h0M887.4 1929.3h0M876.1 1930.6h0M879.5 1922.5h0M875.1 1910.7h0M882.7 1938.8h0M901.2 1944.3h0M898.6 1924.7h0M894.6 1909.8h0M898.1 1936.4h0M904 1929.7h0M895.3 1923.9h0M893.4 1918.5h0M892.2 1920.9h0M899.8 1932.7h0M899.2 1948h0M899.9 1931.7h0M891.3 1933.1h0M894.3 1943.8h0M896.8 1922.4h0M902.8 1941.1h0M895.6 1936.6h0M900.6 1948.5h0M897.5 1920.4h0M896.5 1937.5h0M893.8 1937.1h0M901.4 1923.1h0M920.6 1946.4h0M922.3 1945.2h0M915.7 1915h0M905.3 1930.2h0M914 1946h0M909.5 1926.3h0M921.5 1917.3h0M922.7 1921h0M917 1921.2h0M917.5 1923.1h0M928.9 1939.6h0M928.3 1929.7h0M927 1931.5h0M905.2 1932.1h0M915.3 1920.6h0M929.8 1952.6h0M906.5 1941.3h0M925.3 1953h0M912.8 1935.4h0M907.6 1947.1h0M903.3 1914.2h0M912.1 1925.4h0M917.9 1922.4h0M919.9 1932.2h0M913.8 1937.2h0M924.8 1931.7h0M919.7 1928.7h0M902.2 1936.5h0M912 1924.1h0M917.9 1919h0M929.8 1935.4h0M925.3 1928.1h0M910.2 1922.1h0M927.9 1948.3h0M927.9 1925.8h0M909.4 1923h0M927.9 1919.4h0M914.9 1934.7h0M918 1935.9h0M923.1 1935.8h0M948.3 1939.6h0M936 1934.4h0M947.4 1934.5h0M952.5 1931.1h0M954.2 1921.6h0M941.6 1916.4h0M945.7 1929.3h0M936.7 1919.2h0M952.6 1929.5h0M933.9 1936.8h0M943.7 1919h0M940 1919.1h0M933.9 1921.4h0M952.1 1921.2h0M956.3 1941.3h0M936.2 1922.5h0M955.2 1929.1h0M951 1935.8h0M956 1950.4h0M945.2 1926.5h0M942.6 1936.4h0M957.8 1921.2h0M934.4 1923.9h0M937.5 1927.1h0M951.3 1952.1h0M940.3 1952.7h0M932.5 1942.7h0M940 1930.6h0M939.3 1927.1h0M959.1 1945.7h0M928 1919.7h0M952.1 1947.6h0M936.1 1929h0M951.9 1938.4h0M948.8 1940.2h0M952.8 1921.6h0M928.9 1934.9h0M934.7 1949.8h0M942 1942.4h0M934.2 1930.9h0M957.9 1940.7h0M939.1 1924.5h0M953.7 1930.8h0M960.8 1926h0M956.5 1934.7h0M957.3 1940.7h0M963.8 1937.1h0M968.4 1931.6h0M964.1 1921.6h0M965.8 1947.9h0M962.9 1918.8h0M962.4 1946.5h0M963.1 1918.6h0M962.5 1947.8h0M964 1942.4h0M965.7 1904h0M975.6 1896.2h0M967.6 1906h0M957.5 1940h0M965.5 1894.3h0M969 1902.2h0M977.6 1922.4h0M977.3 1925.3h0M979.4 1918.6h0M978.3 1946.4h0M980.7 1907.4h0M973.4 1912.3h0M972.1 1925h0M975.1 1905.6h0M980.4 1916.9h0M972.1 1901.4h0M972.9 1905.6h0M975.9 1926.5h0M978.6 1940.4h0M972.3 1915.2h0M975.2 1917.5h0M973.6 1913.3h0M978.7 1944.9h0M977.8 1922.1h0M980.3 1939.3h0M978.5 1915.1h0M976.8 1907.5h0M974.8 1914.9h0M980.1 1933.3h0M979.7 1920h0M974.5 1894.9h0M987.4 1913.8h0M986.7 1905.9h0M986.7 1914.8h0M987.4 1909h0M986.2 1893.3h0M991.4 1943.9h0M983.7 1895.7h0M996 1919h0M993.1 1907.2h0M986.4 1927.5h0M981.4 1943.3h0M996.6 1887h0M994.8 1898.6h0M1000.8 1890h0M987.3 1891.5h0M983.1 1933h0M994 1903.9h0M985.4 1926.1h0M988.9 1906.9h0M984.5 1900.6h0M984.8 1926.2h0M988.3 1892.8h0M990 1940.6h0M993.8 1932.5h0M989.3 1938.6h0M988.3 1934.1h0M985.8 1935.2h0M983.8 1910.9h0M990.9 1930h0M988.4 1926.2h0M996.8 1912.5h0M982.6 1943h0M988.5 1924.2h0M990.5 1906h0M1006.4 1921h0M996.3 1927.7h0M1000.8 1924.8h0M1002 1928.1h0M1002.3 1909.9h0M995.9 1939.6h0M1000.9 1926.3h0M1007.3 1894.2h0M997.8 1939.3h0M1008.4 1883.6h0M1002.2 1881.8h0M1007.7 1919.4h0M1004.1 1894.3h0M1008.3 1902.6h0M1006.7 1904.7h0M998 1892.4h0M1004.5 1886.1h0M1004.4 1923.6h0M1006.6 1917.3h0M997.6 1920.7h0M996.4 1920.4h0M1004.5 1913.7h0M1001.9 1937h0M1004.2 1886.7h0M1013.5 1899.5h0M1010.9 1910.5h0M1014.7 1879.4h0M1016.5 1883.2h0M1014.6 1903.7h0M1013.9 1901.4h0M1020 1914.8h0M1018.7 1900h0M1018.1 1886.5h0M1018.2 1915.1h0M1012.7 1873.5h0M1015.8 1888h0M1010.3 1909h0M1017.4 1912.5h0M1012.7 1877.8h0M1020.7 1882.3h0M1017.1 1888.2h0M1028.3 1894.5h0M1025.2 1901.2h0M1027.7 1882.8h0M1025.3 1900.5h0M1024.9 1899.9h0M1025.9 1883.7h0M1025.5 1899h0M1024.1 1896.2h0M1018.8 1893.1h0M1027.9 1893.6h0M1025.3 1890.2h0M1029.2 1881.6h0M1024.8 1879h0M997.5 1868.9h0M992 1861.7h0M999 1851.9h0M998.2 1835h0M997.6 1850.8h0M990.7 1873.3h0M993.2 1851.8h0M1004.2 1847.2h0M997.7 1853.6h0M996.9 1857.8h0M1006.4 1847.2h0M1008.4 1865.1h0M1005.9 1840.4h0M1013.7 1831.2h0M1002.1 1836.3h0M1009.4 1858.1h0M1003 1831.8h0M1008.6 1826.1h0M1008.8 1819.7h0M1011.1 1815.3h0M1008.1 1849.1h0M1005.1 1837.2h0M1002 1829h0M1012.1 1828.4h0M1004.5 1846.7h0M1003.9 1845.9h0M1027.6 1844.2h0M1026.1 1861.4h0M1025 1846.9h0M1030.9 1855.1h0M1015.6 1857.7h0M1031.3 1834.9h0M1017.6 1856.2h0M1023.6 1837.7h0M1030.3 1855.7h0M1019.6 1851.6h0M1013.3 1830.7h0M1018.2 1822.4h0M1012.8 1842.2h0M1022.6 1862.5h0M1024.4 1856.3h0M1016.4 1868h0M1021.1 1851.4h0M1027.3 1851h0M1031.9 1845.1h0M1041.2 1860.7h0M1035.5 1861h0M1034.3 1841.5h0M1041.6 1852h0M1031.9 1861h0M1041.6 1863.2h0M1037.8 1847.6h0M1038.4 1861.2h0M1030.4 1843.4h0M1031.1 1841.5h0M896.5 1952.2h0M944.8 1952.3h0M946 1952.4h0M889.5 1952.2h0M958 1951.9h0M932.7 1952.2h0M977 1952.1h0M936.1 1951.9h0M918.5 1952.1h0M914.3 1952.2h0M895.4 1952.3h0M907.1 1952.1h0M894.4 1952h0M989.5 1952.2h0M924.4 1952h0M983.2 1952.3h0M905.2 1952.4h0M890.9 1952.3h0M960.3 1952h0M951.9 1952.5h0M967.5 1952.2h0M968.4 1952.2h0M961.7 1952.2h0M985.4 1952.1h0M901.6 1952.2h0M973.6 1952.4h0M936.8 1952.1h0M964.2 1952.1h0M899.4 1952.3h0M930.9 1952.4h0M977.4 1952.4h0M977 1952.4h0M987.6 1952h0M969.3 1952h0M943.2 1952.2h0M901.1 1952.1h0M957 1951.8h0M944.3 1951.9h0M905.1 1952h0M983.6 1952.2h0M953.2 1952h0M987.3 1951.8h0M898.5 1951.9h0M990 1951.7h0M989.3 1952.5h0M935.8 1952.2h0M930.5 1952h0M890.6 1952.2h0M986 1952.5h0M950.5 1951.9h0M959.6 1952.1h0M961.5 1951.7h0M977.8 1952.1h0M970.3 1951.9h0M944 1952h0M930.5 1952.3h0M971.2 1951.9h0M968.5 1952.2h0M926.8 1952.2h0M913.5 1952.2h0M946.1 1952h0M974.8 1952.1h0M959.5 1951.9h0M929.4 1952.5h0M903.1 1952.4h0M976.2 1951.6h0M928.9 1952.5h0M941.1 1952.2h0M989.9 1952.1h0M967.1 1952.4h0M929.5 1952h0M956.7 1952.4h0M938.6 1952.1h0M846.9 1891.5h0M846.9 1880.1h0M850.3 1891.6h0M844.6 1895.5h0M846.6 1878.9h0M849.6 1886.3h0M847.3 1881.1h0M840.8 1889h0M849.6 1886.4h0M847.2 1880.3h0M863.8 1907h0M861.4 1914h0M852.9 1902.2h0M850.4 1893.2h0M858.7 1905.4h0M849.4 1902.5h0M854.1 1896h0M853.4 1902.5h0M853.4 1905.5h0M852.8 1901.3h0M859.3 1903.2h0M861.2 1915.4h0M861.7 1908.6h0M857.2 1902.4h0M852.7 1904.1h0M853.7 1896.4h0M853.2 1915.7h0M862 1908.9h0M856.9 1895.7h0M868.8 1912.2h0M871.6 1908.9h0M861.1 1914.6h0M861.5 1921.8h0M864.6 1913.5h0M876.9 1916.5h0M862.1 1910h0M870.6 1910.8h0M876.2 1906.1h0M877.3 1915.6h0M864.5 1917.7h0M862.2 1911.2h0M871.1 1912h0M873.9 1916h0M874 1909.8h0M860.1 1916.3h0M874.4 1917.7h0M872.1 1904.5h0M872.1 1920.1h0M863.8 1895.8h0M863.7 1895.7h0M875 1917.5h0M881.8 1918.3h0M890.7 1922.1h0M880.8 1929.4h0M880.1 1921.8h0M887.5 1921.3h0M878.4 1919.2h0M883.3 1919.2h0M881.6 1928.2h0M890.4 1931.3h0M877.8 1914.9h0M879.2 1919.6h0M883.9 1907.8h0M879.4 1929.8h0M882 1919.3h0M884.6 1925.1h0M887.9 1926.3h0M879 1921.4h0M878.5 1926.5h0M886.6 1925.5h0M886.6 1925.8h0M889 1910.4h0M873.4 1922.4h0M893.1 1924.9h0M897.6 1936.2h0M893.5 1921.9h0M892.9 1932.6h0M903.4 1928.7h0M895.6 1938.3h0M902.8 1939h0M891.7 1929.1h0M905.5 1935h0M890.3 1928.8h0M892.8 1923.6h0M893.9 1920.1h0M902 1930.3h0M896.9 1923.1h0M903.4 1937.8h0M898.3 1939.9h0M901.8 1919.1h0M896.2 1917.6h0M894.9 1943.8h0M896.5 1919.6h0M888.7 1916.3h0M891.2 1918.2h0M904.5 1949.1h0M902.4 1925.9h0M918.8 1946.9h0M911.8 1943.4h0M909.3 1948h0M920.8 1931.7h0M916.7 1934.4h0M922.8 1935.5h0M903.7 1931.3h0M927.8 1933.1h0M923.3 1928.1h0M928 1941.7h0M929.4 1948.5h0M913 1934.2h0M917.8 1943.3h0M908.2 1917.1h0M922 1923.3h0M921.2 1936.4h0M910.1 1946.9h0M925.7 1943.7h0M925.8 1926.2h0M925.9 1926.7h0M921.1 1940.4h0M916.1 1944.5h0M933.1 1937.7h0M905.2 1929.8h0M904.7 1934.3h0M920.3 1936.2h0M921.5 1937.7h0M921.9 1929.8h0M928.7 1925.4h0M906.1 1936.3h0M925.9 1933.1h0M907.2 1932.6h0M907.2 1924.3h0M911.4 1915.2h0M909.1 1919.8h0M913 1933.5h0M921.2 1945h0M918.6 1939.1h0M913.4 1930.8h0M903.2 1932.6h0M907.7 1949.3h0M903.5 1946.7h0M906.3 1943.7h0M922 1946.2h0M914.8 1929h0M929.2 1940.1h0M959.7 1947.3h0M955.3 1928.1h0M937.6 1941.2h0M932.8 1940.6h0M932.6 1944.9h0M944.4 1954.2h0M941.6 1938.3h0M933.7 1936.3h0M943.4 1925.2h0M946.2 1930h0M937.6 1924.4h0M937.3 1936.2h0M939.1 1945.4h0M936.9 1950.2h0M934.4 1948.5h0M943.1 1941.2h0M959.3 1937.8h0M928.8 1944.5h0M946.5 1943.6h0M950.1 1932.3h0M934.1 1932.2h0M945 1933.6h0M935.9 1944.4h0M937.4 1944.5h0M947 1946.2h0M956.2 1933.9h0M954.9 1934.3h0M958.2 1930.7h0M927.5 1935.5h0M939.5 1924h0M952.9 1932.5h0M943 1935.7h0M931.8 1927.6h0M959.2 1952.4h0M960.4 1923.4h0M944.7 1937.5h0M930.6 1923.7h0M939.8 1937.6h0M937.3 1939.2h0M946.7 1940.8h0M933.2 1931.6h0M958 1941.4h0M946.3 1933.6h0M938.6 1939.5h0M959.8 1945.6h0M933.6 1942.2h0M947.7 1928.4h0M939.2 1930.3h0M941.4 1940.8h0M943.4 1949.1h0M942.3 1933.1h0M964.8 1938.1h0M967.4 1919.7h0M960.1 1924.5h0M966.3 1940h0M965.7 1931.7h0M956.9 1921.8h0M968.9 1915.1h0M961.9 1921.2h0M959 1934.5h0M967.8 1927.9h0M965.2 1929h0M969 1912.3h0M964.6 1940.7h0M963.2 1951.8h0M962.6 1938h0M963.4 1932.6h0M965.5 1931.2h0M960.5 1932.4h0M961.1 1936.5h0M967.7 1937.2h0M978.8 1909.6h0M980.7 1921.2h0M985.5 1899.6h0M974.9 1926.8h0M971.2 1918.8h0M975.4 1926.4h0M978.2 1904.1h0M973.2 1928.4h0M978.3 1925.5h0M964.8 1921h0M970.5 1903.5h0M972.9 1942.8h0M980.8 1934.4h0M973.7 1929.5h0M980.1 1931.2h0M978.9 1921h0M979.4 1918.3h0M979.9 1933.2h0M973 1940.7h0M975 1934.4h0M972.5 1924.4h0M978.4 1935.2h0M978.7 1918.8h0M972.5 1940.4h0M976.2 1924.4h0M982.5 1918.4h0M971 1912.1h0M974.2 1914.5h0M994.5 1909.4h0M992.2 1930.8h0M989.7 1920.9h0M985.2 1899.7h0M985.2 1897.9h0M987.8 1912.7h0M982.6 1926.9h0M990 1921.5h0M988.6 1918.6h0M987 1910.8h0M989.6 1911.1h0M993.8 1928h0M992.5 1896.2h0M985.5 1917.4h0M988.4 1909.1h0M983.1 1921.3h0M991.4 1902.8h0M985 1932.4h0M984.4 1901.4h0M984.8 1918.4h0M995.5 1919.4h0M987.4 1915.5h0M993.1 1928.2h0M984.8 1902.5h0M987.3 1911.6h0M995.7 1910.3h0M985.4 1922.3h0M993.3 1918.7h0M984.2 1913.3h0M994.1 1908h0M987 1913.6h0M986.4 1919.9h0M1000 1917.8h0M996.8 1906.1h0M985.3 1926.9h0M982.2 1917.3h0M999.9 1892.6h0M985.4 1922.6h0M995 1909.4h0M999.2 1910.4h0M1000.3 1933.6h0M1006.2 1903.9h0M1008.2 1900.6h0M1004.4 1905.5h0M1008 1906.6h0M1009.7 1904.8h0M1000.5 1892.7h0M999.6 1916.2h0M998.3 1928.2h0M999 1914.7h0M1000.5 1909.1h0M1007.6 1897.6h0M1000.3 1886.1h0M998.9 1915.4h0M997.9 1906.8h0M998.1 1906.3h0M1008.1 1910.5h0M1006.6 1921.6h0M1005.5 1924.6h0M1003.2 1918.9h0M999.8 1917.8h0M1010 1892.6h0M1003 1924.2h0M1009 1883.5h0M1005.6 1899.7h0M1005.5 1903.9h0M1000.1 1935.7h0M1012 1889h0M1014.4 1898.1h0M1013.8 1893.5h0M1015.1 1897.8h0M1015.9 1907h0M1010.1 1912.7h0M1017.9 1900.9h0M1014 1886.7h0M1015.7 1890.6h0M1011.1 1907.1h0M1011.9 1909.6h0M1016.4 1892.1h0M1009.3 1903.7h0M1021.8 1890.3h0M1019.9 1892.7h0M1008.7 1890.3h0M1019.9 1892.4h0M1020.2 1888.3h0M1014 1887.9h0M1030 1888.1h0M1031.3 1884.8h0M1027.7 1889.6h0M1015.6 1899.5h0M1021.7 1896.4h0M1020.2 1880.6h0M1023.2 1887.6h0M1027.6 1899.4h0M1019.9 1884.4h0M1026.2 1886.9h0M1027.4 1888.7h0M1026.7 1892.6h0M1024.1 1887h0M1025.3 1880.8h0M1032.6 1898.8h0" stroke="#BEBEBE"/>
<path d="M877.2 1927h0" stroke="#4E79A7"/>
<path d="M878.8 1929h0" stroke="#BEBEBE"/>
<path d="M886.1 1924.7h0" stroke="#4E79A7"/>
<path d="M884.7 1927.6h0" stroke="#BEBEBE"/>
<path d="M885.4 1925.8h0" stroke="#4E79A7"/>
<path d="M886.4 1923.8h0" stroke="#BEBEBE"/>
<path d="M858.1 1899.3h0" stroke="#4E79A7"/>
<path d="M856.3 1902.1h0" stroke="#BEBEBE"/>
<path d="M855.3 1887.9h0" stroke="#4E79A7"/>
<path d="M856.5 1890.6h0" stroke="#BEBEBE"/>
<path d="M884.2 1923.2h0" stroke="#4E79A7"/>
<path d="M884.8 1920.8h0" stroke="#BEBEBE"/>
<path d="M892 1922.5h0" stroke="#4E79A7"/>
<path d="M891.6 1924.3h0" stroke="#BEBEBE"/>
<path d="M880.8 1917.5h0" stroke="#4E79A7"/>
<path d="M882 1915.1h0" stroke="#BEBEBE"/>
<path d="M862.1 1905.7h0" stroke="#4E79A7"/>
<path d="M862.9 1902.7h0" stroke="#BEBEBE"/>
<path d="M980.4 1905.5h0" stroke="#F28E2B"/>
<path d="M980.3 1907.7h0" stroke="#BEBEBE"/>
<path d="M992.4 1900h0" stroke="#F28E2B"/>
<path d="M993.4 1901.8h0" stroke="#BEBEBE"/>
<path d="M992.7 1924.3h0" stroke="#F28E2B"/>
<path d="M992.6 1926.4h0" stroke="#BEBEBE"/>
<path d="M990.4 1930.2h0" stroke="#F28E2B"/>
<path d="M990.1 1933.1h0" stroke="#BEBEBE"/>
<path d="M972.4 1906.9h0" stroke="#F28E2B"/>
<path d="M970.7 1909.9h0" stroke="#BEBEBE"/>
<path d="M981.7 1900.7h0" stroke="#F28E2B"/>
<path d="M980.2 1897.8h0" stroke="#BEBEBE"/>
<path d="M974.4 1922.9h0" stroke="#F28E2B"/>
<path d="M976 1925.6h0" stroke="#BEBEBE"/>
<path d="M984 1905.8h0" stroke="#F28E2B"/>
<path d="M985 1908.5h0" stroke="#BEBEBE"/>
<path d="M992.5 1902.8h0" stroke="#F28E2B"/>
<path d="M991.1 1899.9h0" stroke="#BEBEBE"/>
<path d="M973.9 1932.8h0" stroke="#F28E2B"/>
<path d="M972.7 1934.9h0" stroke="#BEBEBE"/>
<path d="M994.2 1906.7h0" stroke="#F28E2B"/>
<path d="M993.8 1904.1h0" stroke="#BEBEBE"/>
<path d="M969.5 1928.9h0" stroke="#F28E2B"/>
<path d="M970.3 1931.7h0" stroke="#BEBEBE"/>
<path d="M974.9 1936.3h0" stroke="#F28E2B"/>
<path d="M974 1938h0" stroke="#BEBEBE"/>
<path d="M989.9 1914h0" stroke="#F28E2B"/>
<path d="M990.5 1916.5h0" stroke="#BEBEBE"/>
<path d="M1010.7 1914.9h0" stroke="#F28E2B"/>
<path d="M1009.6 1916.8h0M1092 1502h0M1123.5 1496.6h0M1068.8 1588.3h0M1091.1 1584.9h0M770.7 1613.1h0M1026.1 1612.3h0M1076.6 1652.1h0M1101.9 1678.6h0M1092.8 1686.9h0M796.8 1701h0M823.3 1701h0M1066.3 1704.3h0M1047.6 1715.5h0M1060.9 1715.5h0M1059.2 1741.7h0M1047.6 1745.8h0M1036.4 1752h0M1022.7 1749.1h0M1183.6 1760.3h0M1224.6 1758.6h0M1019 1765.7h0M1098.2 1764.9h0M1259.9 1839.1h0M1155 1872.7h0M1252 1870.6h0" stroke="#BEBEBE"/>
<path d="M764.9 1662.5h0M771.5 1729.2h0M754.5 1786h0" stroke="#4E79A7"/>
<path d="M1117.3 1598.6h0M1262.4 1605.7h0M1051.8 1637.6h0M1157.5 1690.2h0M1084.1 1713h0M1060.1 1734.6h0M1095.3 1737.9h0M1114.8 1738.3h0M1093.6 1754.5h0M1136.3 1822.9h0" stroke="#F28E2B"/>
<path d="M799 1774h0M818.9 1793h0M829.9 1798h0M858.9 1804.3h0M814 1811.9h0M823.9 1816.3h0M845.9 1825.9h0M812 1853.9h0M876.4 1846.9h0M866.9 1850.9h0M856.9 1854.9h0M844.9 1851.9h0M828.9 1862.2h0M867.9 1867.2h0M861.9 1867.8h0M837.9 1884.4h0M865.5 1884.4h0M828.5 1914.7h0M845.5 1923.7h0M837.9 1940.7h0M1016.2 1779h0M1031 1779h0M1007.6 1798.9h0M1022.6 1799.9h0M1063.1 1797h0M1089.1 1809.9h0M1088.5 1820.9h0M1045.1 1831.9h0M1088.9 1851.3h0M1061.5 1842.9h0M1064.5 1878.4h0M1042.2 1893.8h0M1041 1901.8h0M1054.5 1909.2h0M1077.5 1903.8h0M1069.5 1932.3h0M1041.2 1945.3h0M1054.9 1948.1h0M1043.6 1871.8h0M1058.5 1867.8h0M1059.5 1859.8h0M1039.6 1862.8h0M1015.6 1921.7h0M1019.6 1927.7h0M1021.6 1932.7h0M1029.6 1929.7h0M1034.6 1925.7h0M1039.6 1923.7h0M1046.5 1925.7h0" stroke="#BEBEBE"/>
<path d="M843.5 1844.9h0M839.9 1864.8h0M798 1873.2h0M820.5 1881.8h0M816.4 1896.8h0M833.5 1907.4h0M857.3 1934.3h0M898.8 1952.1h0M964.7 1952.1h0M883.8 1937.7h0M979.7 1944.7h0" stroke="#4E79A7"/>
<path d="M1035 1809.9h0M1022.2 1818.5h0M1050.5 1821.9h0M1084.9 1840.9h0M1040.6 1844.9h0M1045.5 1842.3h0M1056.5 1844.9h0M1060.5 1848.3h0M1018.6 1854.3h0M998.2 1879.8h0M1091.1 1924.7h0M919.8 1952.1h0M988.6 1951.7h0M976.7 1950.7h0M889.8 1943.7h0" stroke="#F28E2B"/>
<line x1="903.3" y1="1474.3" x2="903.3" y2="1974.6" stroke="#000" stroke-width="2.1" stroke-linecap="butt"/>
<line x1="959.3" y1="1474.3" x2="959.3" y2="1974.6" stroke="#000" stroke-width="2.1" stroke-linecap="butt"/>
<line x1="729.6" y1="1946" x2="1287.2" y2="1946" stroke="#000" stroke-width="2.1" stroke-linecap="butt"/>
<path d="M729.6 1474.3V1974.6H1287.2" fill="none" stroke="#000" stroke-width="2.1" stroke-linecap="butt" stroke-linejoin="miter"/>
<line x1="723.6" y1="1545.6" x2="729.6" y2="1545.6" stroke="#000" stroke-width="2.1" stroke-linecap="butt"/>
<text x="717.4" y="1553.4" font-size="20.3" text-anchor="end" fill="#4d4d4d">60</text>
<line x1="723.6" y1="1681.5" x2="729.6" y2="1681.5" stroke="#000" stroke-width="2.1" stroke-linecap="butt"/>
<text x="717.4" y="1689.3" font-size="20.3" text-anchor="end" fill="#4d4d4d">40</text>
<line x1="723.6" y1="1817.5" x2="729.6" y2="1817.5" stroke="#000" stroke-width="2.1" stroke-linecap="butt"/>
<text x="717.4" y="1825.3" font-size="20.3" text-anchor="end" fill="#4d4d4d">20</text>
<line x1="723.6" y1="1952.7" x2="729.6" y2="1952.7" stroke="#000" stroke-width="2.1" stroke-linecap="butt"/>
<text x="717.4" y="1960.5" font-size="20.3" text-anchor="end" fill="#4d4d4d">0</text>
<line x1="784" y1="1974.6" x2="784" y2="1980.6" stroke="#000" stroke-width="2.1" stroke-linecap="butt"/>
<text x="784" y="2001.8" font-size="20.3" text-anchor="middle" fill="#4d4d4d">-0.5</text>
<line x1="931.1" y1="1974.6" x2="931.1" y2="1980.6" stroke="#000" stroke-width="2.1" stroke-linecap="butt"/>
<text x="931.1" y="2001.8" font-size="20.3" text-anchor="middle" fill="#4d4d4d">0.0</text>
<line x1="1077.9" y1="1974.6" x2="1077.9" y2="1980.6" stroke="#000" stroke-width="2.1" stroke-linecap="butt"/>
<text x="1077.9" y="2001.8" font-size="20.3" text-anchor="middle" fill="#4d4d4d">0.5</text>
<line x1="1225" y1="1974.6" x2="1225" y2="1980.6" stroke="#000" stroke-width="2.1" stroke-linecap="butt"/>
<text x="1225" y="2001.8" font-size="20.3" text-anchor="middle" fill="#4d4d4d">1.0</text>
<line x1="1033.1" y1="1752" x2="1058" y2="1737.5" stroke="#F28E2B" stroke-width="1.9" stroke-linecap="butt"/>
<text x="1140.9" y="1587.5" font-size="25.8" font-style="italic" text-anchor="middle" fill="#DB8C3F">Rps29</text>
<text x="1237.5" y="1635.6" font-size="25.8" font-style="italic" text-anchor="middle" fill="#DB8C3F">Ifi27l2a</text>
<text x="1022.7" y="1667.9" font-size="25.8" font-style="italic" text-anchor="middle" fill="#DB8C3F">Rpl39</text>
<text x="1194.8" y="1678.7" font-size="25.8" font-style="italic" text-anchor="middle" fill="#DB8C3F">Cd52</text>
<text x="1109" y="1697.4" font-size="25.8" font-style="italic" text-anchor="middle" fill="#DB8C3F">H2-K1</text>
<text x="1072.5" y="1733.4" font-size="25.8" font-style="italic" text-anchor="middle" fill="#DB8C3F">Crlf2</text>
<text x="1179" y="1734.3" font-size="25.8" font-style="italic" text-anchor="middle" fill="#DB8C3F">Lgals3bp</text>
<text x="990.4" y="1763.7" font-size="25.8" font-style="italic" text-anchor="middle" fill="#DB8C3F">H2-D1</text>
<text x="1075.8" y="1784.8" font-size="25.8" font-style="italic" text-anchor="middle" fill="#DB8C3F">Nsa2</text>
<text x="987.5" y="1798.9" font-size="25.8" font-style="italic" text-anchor="middle" fill="#DB8C3F">Rpl36a</text>
<text x="1159.1" y="1811.4" font-size="25.8" font-style="italic" text-anchor="middle" fill="#DB8C3F">Cst7</text>
<text x="810.5" y="1690.7" font-size="25.8" font-style="italic" text-anchor="middle" fill="#4F7099">Rsrp1</text>
<text x="766.5" y="1759.1" font-size="25.8" font-style="italic" text-anchor="middle" fill="#4F7099">Fcrls</text>
<text x="817.5" y="1795.6" font-size="25.8" font-style="italic" text-anchor="middle" fill="#4F7099">Hist1h1e</text>
<text x="821.7" y="1833.8" font-size="25.8" font-style="italic" text-anchor="middle" fill="#4F7099">Olfml3</text>
</g>
<g fill="none" stroke-width="10.2" stroke-linecap="round">
<text x="1613.8" y="1461.8" font-size="39.2" text-anchor="middle" fill="#1a1a1a">Endothelial</text>
<path d="M1698.2 1952.5h0M1522.9 1952.1h0M1672.9 1952.6h0M1579.8 1952.6h0M1665.9 1952.7h0M1521.1 1952.8h0M1533.2 1952.4h0M1541.7 1953.1h0M1561.2 1952.8h0M1600 1952.5h0M1687 1952.4h0M1643.1 1952.8h0M1688.9 1952.5h0M1617.8 1952.8h0M1541 1952.5h0M1661.9 1952.7h0M1602.6 1953.1h0M1654 1952.4h0M1663 1952.8h0M1543.6 1952.7h0M1635.4 1952.9h0M1644.7 1952.5h0M1660.5 1952.6h0M1634.1 1952.7h0M1620.1 1952.6h0M1675.8 1952.8h0M1696.7 1952.7h0M1564.1 1952.4h0M1703.5 1952.7h0M1668.7 1952.5h0M1651.1 1952.7h0M1632.7 1952.7h0M1595.8 1952.7h0M1605.4 1953.1h0M1521.6 1952.3h0M1666.4 1952.6h0M1541.6 1952.6h0M1694.5 1952.2h0M1664.4 1952.4h0M1644.1 1953.1h0M1535.4 1952.8h0M1701.5 1952.9h0M1628.1 1952.5h0M1522 1953.1h0M1703.6 1952.4h0M1571.2 1952.9h0M1542.6 1952.9h0M1610 1952.6h0M1548.8 1952.7h0M1677.3 1952.8h0M1670.3 1952.3h0M1624.3 1953.2h0M1522.9 1952.6h0M1613.8 1952.5h0M1561.4 1952.9h0M1564.7 1952.7h0M1590.1 1952.8h0M1552.8 1952.8h0M1606.4 1952.2h0M1628.1 1952.8h0M1541 1952.7h0M1597.1 1952.6h0M1554.1 1952.7h0M1545.7 1952.7h0M1595 1952.6h0M1573.8 1952.4h0M1684.1 1952.8h0M1600 1952.8h0M1621 1952.7h0M1544.7 1952.1h0M1521.8 1952.2h0M1593.4 1952.9h0M1537.9 1952.7h0M1656.3 1952.8h0M1637.9 1952.7h0M1654.7 1952.7h0M1601.3 1952.7h0M1597.3 1953.2h0M1648.3 1952.7h0M1656 1952.4h0M1516.9 1952.6h0M1634.4 1952.9h0M1649.1 1952.3h0M1661.5 1952.7h0M1647.1 1953h0M1691.4 1952.6h0M1595.9 1952.9h0M1564.6 1952.5h0M1695 1952.6h0M1684.1 1952.4h0M1593.5 1952.8h0M1567.6 1953.1h0M1628.6 1952.7h0M1701.3 1952.2h0M1628 1952.8h0M1659.9 1952.6h0M1645.8 1952.7h0M1547.8 1952.6h0M1517.5 1952.3h0M1640.7 1952.5h0M1634.6 1952.5h0M1527.4 1952.7h0M1586.7 1952.8h0M1705.5 1953h0M1566.6 1952.9h0M1663.5 1952.2h0M1551.8 1952.7h0M1637 1952.7h0M1525.6 1952.5h0M1634.9 1952.6h0M1576.6 1952.4h0M1656.3 1952.4h0M1534.5 1952.6h0M1647.1 1953h0M1584.7 1952.4h0M1527 1952.5h0M1634.4 1952.7h0M1545.2 1952.6h0M1595.8 1952.9h0M1591.4 1952.7h0M1682.1 1952.2h0M1590 1952.3h0M1603.1 1952.8h0M1522.2 1952.7h0M1521.9 1952.9h0M1580.3 1952.7h0M1691.3 1952.6h0M1692.2 1496.2h0M1686 1643.4h0M1535.9 1731.7h0M1519.3 1738.7h0M1687.2 1731.7h0M1730.7 1731.7h0M1673.5 1745h0M1676.4 1767.8h0M1395.8 1952.2h0M1428.5 1952.2h0M1441 1952.2h0M1815.3 1952.2h0M1913.6 1952.2h0" stroke="#BEBEBE"/>
<path d="M1535.1 1768.2h0" stroke="#4E79A7"/>
<path d="M1705.4 1668.3h0M1673.1 1731.7h0M1705 1775.2h0" stroke="#F28E2B"/>
<path d="M1515.9 1784.4h0M1681 1784.4h0M1764.5 1784h0M1720.5 1804h0M1550.8 1815.5h0M1558.8 1810.9h0M1682.6 1816.3h0M1687.6 1816.3h0M1507.9 1818.5h0M1501.9 1822.9h0M1547.4 1825.9h0M1696.6 1830.3h0M1521.9 1854.9h0M1543.5 1854.9h0M1658.6 1859.9h0M1531.9 1877.8h0M1541.9 1879.8h0M1552.8 1878.2h0M1563.8 1879.2h0M1570.8 1883.8h0M1574.8 1886.8h0M1571.8 1889.8h0M1641.3 1878.4h0M1663.6 1880.8h0M1654.7 1881.8h0M1651.7 1886.8h0M1646.7 1888.8h0M1656.7 1888.8h0M1689.2 1879.2h0M1693.2 1890.4h0M1669.6 1892.8h0M1492.9 1891.2h0M1524.5 1899.2h0M1532.9 1898.4h0M1540.9 1898.8h0M1544.9 1901.8h0M1552.8 1899.8h0M1644.7 1899.8h0M1538.5 1911.8h0M1554.8 1912.8h0M1568.4 1912.8h0M1536.9 1919.8h0M1555.8 1921.7h0M1563.8 1922.7h0M1571.8 1922.7h0M1579.8 1921.7h0M1587.8 1921.7h0M1592.8 1922.1h0M1577.8 1927.7h0M1658.6 1911.8h0M1633.7 1916.2h0M1630.7 1926.1h0M1644.7 1926.7h0M1649.7 1924.7h0M1647.7 1930.7h0M1668.6 1921.7h0M1687.6 1922.1h0M1682.6 1926.7h0M1684.6 1931.7h0M1668.6 1931.7h0M1552.8 1935.7h0M1564.8 1937.7h0M1570.8 1939.7h0M1573.8 1941.7h0M1512.3 1941.7h0M1518.9 1947.7h0M1555.8 1945.7h0M1632.7 1939.7h0M1638.7 1939.7h0M1659.6 1935.7h0M1661.6 1939.7h0M1696.6 1941.7h0M1668.6 1941.7h0M1651.7 1945.7h0M1683.6 1947.7h0M1753.1 1952.7h0" stroke="#BEBEBE"/>
<path d="M1506.3 1809.5h0M1512.9 1830.9h0M1495.3 1858.5h0M1573.2 1898.8h0M1546.2 1917.8h0M1541.5 1932.3h0M1556.4 1931.7h0M1495.9 1952.7h0" stroke="#4E79A7"/>
<path d="M1719.5 1784.4h0M1705.6 1817.9h0M1710.6 1817.9h0M1712 1866.2h0M1672.6 1886.8h0M1675.6 1899.2h0M1754.5 1924.7h0M1668.6 1923.7h0M1710.6 1934.1h0M1536.9 1952.7h0M1667.6 1952.7h0M1676.6 1952.7h0M1681.6 1952.7h0M1704.6 1952.7h0M1710.6 1949.7h0" stroke="#F28E2B"/>
<line x1="1591.9" y1="1474.3" x2="1591.9" y2="1975" stroke="#000" stroke-width="2.1" stroke-linecap="butt"/>
<line x1="1622.1" y1="1474.3" x2="1622.1" y2="1975" stroke="#000" stroke-width="2.1" stroke-linecap="butt"/>
<line x1="1370.5" y1="1845.7" x2="1938.8" y2="1845.7" stroke="#000" stroke-width="2.1" stroke-linecap="butt"/>
<path d="M1370.5 1474.3V1975H1938.8" fill="none" stroke="#000" stroke-width="2.1" stroke-linecap="butt" stroke-linejoin="miter"/>
<line x1="1364.5" y1="1524.4" x2="1370.5" y2="1524.4" stroke="#000" stroke-width="2.1" stroke-linecap="butt"/>
<text x="1358.3" y="1532.2" font-size="20.3" text-anchor="end" fill="#4d4d4d">4</text>
<line x1="1364.5" y1="1631.8" x2="1370.5" y2="1631.8" stroke="#000" stroke-width="2.1" stroke-linecap="butt"/>
<text x="1358.3" y="1639.6" font-size="20.3" text-anchor="end" fill="#4d4d4d">3</text>
<line x1="1364.5" y1="1738.7" x2="1370.5" y2="1738.7" stroke="#000" stroke-width="2.1" stroke-linecap="butt"/>
<text x="1358.3" y="1746.5" font-size="20.3" text-anchor="end" fill="#4d4d4d">2</text>
<line x1="1364.5" y1="1845.7" x2="1370.5" y2="1845.7" stroke="#000" stroke-width="2.1" stroke-linecap="butt"/>
<text x="1358.3" y="1853.5" font-size="20.3" text-anchor="end" fill="#4d4d4d">1</text>
<line x1="1364.5" y1="1952.7" x2="1370.5" y2="1952.7" stroke="#000" stroke-width="2.1" stroke-linecap="butt"/>
<text x="1358.3" y="1960.5" font-size="20.3" text-anchor="end" fill="#4d4d4d">0</text>
<line x1="1448.4" y1="1975" x2="1448.4" y2="1981" stroke="#000" stroke-width="2.1" stroke-linecap="butt"/>
<text x="1448.4" y="2002.2" font-size="20.3" text-anchor="middle" fill="#4d4d4d">-1</text>
<line x1="1606.8" y1="1975" x2="1606.8" y2="1981" stroke="#000" stroke-width="2.1" stroke-linecap="butt"/>
<text x="1606.8" y="2002.2" font-size="20.3" text-anchor="middle" fill="#4d4d4d">0</text>
<line x1="1765.1" y1="1975" x2="1765.1" y2="1981" stroke="#000" stroke-width="2.1" stroke-linecap="butt"/>
<text x="1765.1" y="2002.2" font-size="20.3" text-anchor="middle" fill="#4d4d4d">1</text>
<line x1="1923.1" y1="1975" x2="1923.1" y2="1981" stroke="#000" stroke-width="2.1" stroke-linecap="butt"/>
<text x="1923.1" y="2002.2" font-size="20.3" text-anchor="middle" fill="#4d4d4d">2</text>
<line x1="1651.5" y1="1720.9" x2="1671" y2="1730.5" stroke="#F28E2B" stroke-width="1.9" stroke-linecap="butt"/>
<line x1="1670.2" y1="1855.7" x2="1673.1" y2="1884.7" stroke="#F28E2B" stroke-width="1.9" stroke-linecap="butt"/>
<line x1="1563.2" y1="1856.5" x2="1541.7" y2="1877.6" stroke="#4E79A7" stroke-width="1.9" stroke-linecap="butt"/>
<text x="1682.2" y="1698.2" font-size="25.8" font-style="italic" text-anchor="middle" fill="#DB8C3F">H2-K1</text>
<text x="1620.5" y="1728.5" font-size="25.8" font-style="italic" text-anchor="middle" fill="#DB8C3F">Rpl6</text>
<text x="1682.2" y="1764.5" font-size="25.8" font-style="italic" text-anchor="middle" fill="#DB8C3F">H2-Q4</text>
<text x="1675.2" y="1807.2" font-size="25.8" font-style="italic" text-anchor="middle" fill="#DB8C3F">Cyth3</text>
<text x="1757.7" y="1806.8" font-size="25.8" font-style="italic" text-anchor="middle" fill="#DB8C3F">Snrk</text>
<text x="1671" y="1852.4" font-size="25.8" font-style="italic" text-anchor="middle" fill="#DB8C3F">Rpl28</text>
<text x="1743.6" y="1842.5" font-size="25.8" font-style="italic" text-anchor="middle" fill="#DB8C3F">Irf7</text>
<text x="1767.2" y="1878.5" font-size="25.8" font-style="italic" text-anchor="middle" fill="#DB8C3F">Mecom</text>
<text x="1725.8" y="1913.8" font-size="25.8" font-style="italic" text-anchor="middle" fill="#DB8C3F">Prpf4b</text>
<text x="1559.1" y="1757.5" font-size="25.8" font-style="italic" text-anchor="middle" fill="#4F7099">Snx3</text>
<text x="1473.7" y="1798.1" font-size="25.8" font-style="italic" text-anchor="middle" fill="#4F7099">H1f0</text>
<text x="1554.1" y="1816.3" font-size="25.8" font-style="italic" text-anchor="middle" fill="#4F7099">Dusp1</text>
<text x="1597.7" y="1852.4" font-size="25.8" font-style="italic" text-anchor="middle" fill="#4F7099">1700123O20Rik</text>
<text x="1472.9" y="1887.6" font-size="25.8" font-style="italic" text-anchor="middle" fill="#4F7099">Ndnf</text>
<text x="1596.4" y="1888.1" font-size="25.8" font-style="italic" text-anchor="middle" fill="#4F7099">Ubb</text>
</g>
<g fill="none" stroke-width="10.2" stroke-linecap="round">
<text x="324.2" y="2088.9" font-size="39.2" text-anchor="middle" fill="#1a1a1a">Astrocyte-qNSC</text>
<path d="M219.6 2549.1h0M227.2 2533.6h0M224.6 2550.3h0M224.9 2545.4h0M226.2 2562.6h0M223.6 2533.4h0M228.4 2531.9h0M230.1 2545.3h0M231.8 2561.4h0M226.5 2536.5h0M233.6 2536.9h0M235.3 2530.4h0M228.2 2553.1h0M226.1 2539.5h0M231.4 2553.4h0M235.4 2536.5h0M231.7 2558.9h0M235.6 2574.2h0M234.6 2582.4h0M228.6 2557.3h0M228.9 2524.2h0M227.4 2567.4h0M237.3 2579.5h0M248.8 2557.4h0M241.7 2530.5h0M240.1 2573.6h0M242 2535.9h0M237.5 2577.3h0M233.5 2585.2h0M241.6 2580.6h0M234.5 2567.7h0M246.4 2584.6h0M247.4 2557.4h0M237.6 2570.3h0M239.6 2571.9h0M247.9 2555.3h0M247.1 2571.9h0M243.2 2565.7h0M237.8 2544.4h0M240.1 2533.2h0M239.6 2545h0M234 2553.6h0M236.1 2547h0M243.3 2562h0M238.9 2577.2h0M235.1 2575h0M244.5 2560h0M237.6 2538.6h0M251.1 2576.1h0M246 2579.6h0M236.7 2540.6h0M246.4 2579.7h0M247.4 2559.3h0M243.2 2540.4h0M241.1 2583.1h0M255.6 2536.7h0M249.2 2531.6h0M252 2574.2h0M258.6 2544h0M254.9 2583.9h0M253.4 2581.1h0M249.8 2554.7h0M256.8 2541.8h0M252.7 2542.7h0M255.1 2575.8h0M253 2568.9h0M257.8 2563.2h0M259.4 2581.1h0M257 2563.6h0M254.9 2588.9h0M260.9 2574.9h0M262.5 2575.1h0M253.4 2534.5h0M260.6 2581.4h0M252.4 2562.2h0M261.5 2565.3h0M255 2538.9h0M257.6 2553.5h0M253.7 2535.4h0M262.1 2543h0M257.7 2550.4h0M252.9 2543.1h0M261.1 2537h0M261.9 2536.9h0M266.8 2580.9h0M269 2544.5h0M266.4 2563.4h0M269.9 2578.5h0M269 2549.5h0M273.4 2578.4h0M271.7 2561h0M269 2576.9h0M268.6 2577h0M263.2 2579.5h0M265.1 2587.4h0M264.3 2546.3h0M273.6 2549.5h0M271 2559h0M264.8 2546.6h0M266.1 2545.5h0M268.7 2576.4h0M286.5 2564.7h0M277 2580h0M276.2 2549.6h0M276.8 2571.8h0M277 2547.3h0M272.7 2556.9h0M281.4 2581.1h0M280.9 2567.1h0M277.3 2568.4h0M277.7 2552.2h0M282.4 2568.2h0M280.8 2558.2h0M278 2571.9h0M286.4 2588.4h0M278 2584.8h0M285.8 2574.4h0M278.5 2582.4h0M290.6 2586.6h0M281 2552.8h0M283.3 2560.6h0M280.7 2568.7h0M283.4 2562.8h0M281.4 2571.6h0M279.7 2580.9h0M301.1 2585.2h0M295.9 2553.4h0M294.1 2565.2h0M299.9 2580.2h0M296 2584.5h0M292.8 2562.9h0M294.3 2588.1h0M292.2 2582.1h0M292.6 2582.7h0M293.6 2587.5h0M294.3 2567.5h0M293.7 2577.1h0M287.6 2560.5h0M299.5 2556.7h0M301.8 2572.1h0M304.5 2556.6h0M308.3 2564.8h0M309.3 2585.7h0M316.7 2577.2h0M311.2 2574.9h0M317.2 2566.2h0M311.5 2579.9h0M313.3 2570.2h0M302.5 2560.1h0M303 2577.6h0M306.5 2580.3h0M304.6 2574.5h0M305.9 2568.4h0M310.9 2570h0M304.5 2574.7h0M313.3 2578h0M318.5 2588.8h0M326.1 2583h0M317.4 2577.9h0M317.1 2577.4h0M321.1 2584.4h0M322.3 2573.8h0M314.4 2576.7h0M322.7 2587.4h0M318.1 2572.4h0M332.3 2568.7h0M327.2 2578.7h0M335.8 2568.1h0M335.2 2574.1h0M335.4 2572.9h0M326.3 2586.1h0M329.3 2585.9h0M326.7 2584.8h0M328.9 2583.8h0M336.9 2568.5h0M344.3 2578.4h0M341.5 2572.6h0M336.1 2587.1h0M348.4 2571.3h0M345.2 2565.8h0M340.5 2564.2h0M333.4 2578.6h0M342.1 2583.2h0M339.8 2557.8h0M345.3 2576.1h0M339.4 2578.1h0M333.9 2567.1h0M343.9 2586.7h0M336.8 2568.3h0M343.5 2564.8h0M349.3 2578.8h0M358.6 2571.1h0M354.5 2570.5h0M354.4 2563.4h0M346.2 2571.5h0M352.3 2559.7h0M350.9 2561.5h0M354.6 2561.2h0M346.2 2574.1h0M360.9 2573.5h0M355.7 2575.3h0M345.5 2561.9h0M354.2 2582.4h0M350.9 2582.2h0M361 2561.7h0M367.6 2563.5h0M361.8 2575.8h0M367.2 2570.4h0M372.8 2586.4h0M367.3 2568.5h0M373.1 2562.1h0M367.6 2555.1h0M368 2557.6h0M365.2 2559.6h0M365.4 2580.9h0M367 2582.1h0M363.6 2581.8h0M375.1 2575.4h0M373.3 2589h0M374.8 2558.3h0M366.5 2567.1h0M361.8 2582.2h0M363 2565.4h0M360.8 2583.3h0M363.9 2583.8h0M368.6 2583.3h0M363.8 2560.2h0M365.8 2557.2h0M377.8 2580h0M385.2 2564.3h0M377.5 2563.6h0M380.3 2569.3h0M381.4 2554.2h0M375.9 2561.4h0M377.5 2581.5h0M388 2573.4h0M380.6 2550.3h0M386.8 2584.7h0M389.8 2583.3h0M383.8 2554h0M378.4 2556.9h0M377.3 2565.6h0M382.9 2576.8h0M390.8 2566.3h0M379.7 2560.5h0M377.3 2577.1h0M379 2581h0M378 2570.6h0M386.7 2581.9h0M395.7 2575.7h0M398.1 2570.2h0M392.1 2552h0M392.2 2584.3h0M401 2562.9h0M392.1 2552.2h0M394 2585.1h0M393.7 2563.8h0M405.6 2539.4h0M397.4 2580.5h0M395.6 2556.4h0M385.4 2547.9h0M400.1 2550.8h0M395.2 2542.7h0M395.1 2561h0M386.2 2568.4h0M398 2551.6h0M394.1 2551.8h0M390.5 2557.6h0M395.2 2580.7h0M392.7 2555h0M397 2556.5h0M403.5 2536.8h0M390.9 2545.9h0M401.2 2579.1h0M412.9 2561.8h0M410.5 2576.8h0M409.6 2559.1h0M411.1 2559.5h0M406.1 2539.9h0M411.1 2551h0M414.1 2541.7h0M412 2573.4h0M409.8 2571.3h0M407.1 2532.9h0M410.5 2532.8h0M411.1 2541.5h0M417.4 2560.1h0M401.2 2543.8h0M410.3 2531h0M404 2575.4h0M410.6 2541.4h0M414.3 2557.9h0M411.1 2548.5h0M414.4 2534.2h0M402.1 2567.6h0M410.7 2557.4h0M412.5 2543.7h0M416.8 2567h0M415.8 2560.5h0M422.6 2553.1h0M419.9 2552.5h0M418.6 2536.9h0M418.6 2532h0M416.6 2532.5h0M419.3 2558h0M417 2547.3h0M421.9 2529.6h0M225.5 2525.2h0M226.3 2545.3h0M226.2 2550.2h0M228 2525.6h0M236.6 2558.2h0M227.6 2555.2h0M224.8 2523h0M226.4 2544h0M234.8 2558.1h0M231.1 2539.9h0M228.9 2534.2h0M229 2543.7h0M232.7 2550.1h0M230.3 2549.2h0M232.4 2548.1h0M226.2 2541.4h0M230.9 2562.5h0M228.2 2546.1h0M231 2557.2h0M233.9 2549.7h0M231.3 2543.6h0M243.6 2548.2h0M240.3 2563.4h0M244.6 2542.3h0M239.2 2573.6h0M237.6 2536.8h0M239.9 2554.8h0M246.3 2566.1h0M241.7 2540.9h0M240.2 2571.1h0M247.3 2564.5h0M243.8 2549h0M232.4 2556.4h0M245.2 2541.1h0M243.5 2580h0M239.4 2582.2h0M246.9 2558.4h0M242.9 2554.9h0M238.1 2549.2h0M231.2 2546.1h0M242.3 2546.8h0M240.2 2565.5h0M237.4 2548.7h0M241.9 2555.4h0M244.4 2569.2h0M240.7 2550.1h0M246.6 2558.3h0M236.2 2544.1h0M248.2 2534.7h0M238.5 2543.1h0M242 2551h0M244.6 2537.6h0M247.8 2557.9h0M254.4 2568.3h0M259.5 2565.4h0M253.7 2575.4h0M250.8 2543.9h0M254.8 2549.9h0M247.7 2571.9h0M260.4 2571.2h0M251.8 2566.2h0M259.2 2553.5h0M260.5 2544.4h0M252.8 2566h0M266.9 2560.1h0M251.3 2580.8h0M259.4 2573.6h0M248.8 2557.1h0M250.1 2546.8h0M251.2 2548.6h0M252.2 2541h0M262.3 2560.8h0M259.6 2559.7h0M261.4 2549.4h0M255.3 2575.7h0M255.8 2557.1h0M257 2562.6h0M256.3 2579.4h0M251.2 2554.1h0M253 2560.3h0M261.4 2545.1h0M255.5 2565.4h0M268.1 2576h0M275 2562.9h0M275.3 2578h0M270.5 2579.5h0M278.8 2565.8h0M275.1 2562.2h0M264.4 2557.2h0M271.3 2563.1h0M270.6 2568.3h0M268.1 2575.6h0M262.8 2573h0M270.9 2578.2h0M276.3 2569h0M267.3 2586h0M274.1 2573h0M262.8 2564.7h0M267.6 2556.9h0M266.8 2567.8h0M278.4 2551.3h0M275.6 2556.7h0M288.1 2564.5h0M286.5 2563.7h0M279 2569.3h0M270.3 2558.5h0M290.8 2559.5h0M286.7 2570.4h0M276.1 2579.5h0M286.3 2564.2h0M288.3 2552.2h0M281.7 2583.5h0M279.9 2567.1h0M290 2558.5h0M281.8 2578.2h0M288.7 2575.4h0M274 2570.9h0M287.1 2582.3h0M283.3 2573.7h0M282.8 2571.5h0M283.4 2579.7h0M280.5 2551.5h0M274.7 2570.2h0M274.7 2566.5h0M294.1 2568.5h0M294.1 2567.5h0M299.9 2569.7h0M299.5 2569.5h0M295.7 2571.7h0M296.8 2562.2h0M301.6 2562.3h0M294.2 2585.5h0M289.7 2570.4h0M290.8 2572.6h0M295.1 2577.9h0M296.1 2560.2h0M292.5 2580.6h0M295.4 2584.9h0M303.2 2571.8h0M309.3 2585.9h0M310.1 2576.9h0M313.5 2583.1h0M307.3 2585.7h0M307.9 2575.5h0M301.6 2572.8h0M309.4 2581.8h0M308.2 2571h0M298.6 2578.4h0M307.2 2572.9h0M317.3 2583.3h0M314 2582.6h0M318.5 2570.2h0M310.8 2584.4h0M307.7 2573.4h0M312.2 2572.9h0M305.8 2565.6h0M317.6 2570.3h0M322.6 2583.8h0M318.5 2579.7h0M320.6 2575.4h0M319.6 2579.4h0M322.8 2575.4h0M317.2 2582.7h0M318.1 2582.7h0M323.1 2579.8h0M335.8 2581.5h0M330 2579.2h0M331.9 2576.2h0M328.2 2586.8h0M325.6 2582.9h0M333.4 2579.4h0M327.5 2584.3h0M327.4 2580.9h0M326 2571.5h0M327.6 2585.9h0M341.5 2581.3h0M340.6 2576.3h0M341.2 2582h0M340.6 2570.4h0M337.1 2576.3h0M335.1 2566h0M347.5 2565.9h0M339.6 2584.8h0M348 2580.3h0M340.5 2580.4h0M347.6 2571h0M340.8 2566.8h0M341.3 2559.5h0M345.6 2566.5h0M347.9 2583.5h0M355.9 2564.3h0M353.8 2578.2h0M359.9 2569.4h0M350.7 2573.6h0M357.5 2565.9h0M354.8 2562h0M351.3 2573.7h0M353 2575.6h0M356.2 2566.8h0M356.7 2559h0M362.3 2573.5h0M351.2 2567.6h0M348.5 2567.1h0M355.3 2568h0M352.6 2580.6h0M359.7 2559.3h0M368.4 2575.6h0M368.7 2576.2h0M370.1 2577.8h0M362.1 2571.3h0M363 2574.3h0M362.3 2578.9h0M362.2 2569.8h0M370.4 2576h0M374 2563.5h0M366.6 2578.5h0M374.2 2569.8h0M363.6 2560.6h0M373.7 2574.4h0M373.3 2562.5h0M360.9 2569.7h0M374.5 2570.3h0M374.7 2564h0M372.6 2576.4h0M370.9 2567.8h0M369.3 2577.9h0M375.6 2582h0M358.4 2580.1h0M373.5 2567.3h0M373 2567.8h0M385.8 2572.8h0M382.5 2581.5h0M385.4 2571h0M382.5 2577.3h0M377.2 2575.3h0M382 2573.9h0M379.1 2566.4h0M386.1 2562h0M373.9 2571h0M381.4 2566h0M392.1 2572.1h0M385.9 2577.8h0M391.1 2560.7h0M385 2570.4h0M378 2572.2h0M381.8 2575.7h0M380.2 2577.1h0M381.4 2564.2h0M378.3 2571.3h0M373.9 2560.4h0M399.6 2564.6h0M396.1 2569.6h0M392.6 2558.1h0M404.4 2547.1h0M402.5 2567.4h0M398.5 2555h0M404.1 2578h0M396.2 2573.3h0M392 2570.5h0M405.2 2568.3h0M398.5 2562.6h0M400.3 2576.1h0M395.4 2570.3h0M392.4 2568.8h0M395.3 2569.3h0M396.8 2574.2h0M395.6 2564.2h0M398.7 2567.6h0M393.1 2570h0M389.2 2566.1h0M397.7 2559.7h0M396.4 2559.5h0M394.6 2560.5h0M393.1 2567.3h0M398.4 2571.5h0M412.9 2554.8h0M409.3 2566h0M406.3 2559.2h0M404.1 2543.2h0M411.2 2557.4h0M409.2 2562.5h0M407 2579.1h0M415.6 2547h0M408.6 2574h0M406.3 2546.8h0M410.3 2547.8h0M409.4 2562.8h0M411.8 2570.9h0M404.8 2559.2h0M405.6 2556.6h0M408.4 2549h0M414.1 2556.8h0M405.3 2575.3h0M404.3 2565.7h0M407.1 2550.5h0M413.9 2552.6h0M406.2 2553h0M414.4 2545.1h0M406.7 2571.6h0M419.8 2541h0M416.9 2554.6h0M417.9 2552.2h0M423.3 2535.2h0M422 2559h0M422.6 2537.7h0M419.8 2557.7h0M416.3 2550h0M416.9 2548.7h0M413.8 2567.6h0M256.2 2587.1h0M282.5 2586.6h0M296.8 2587.3h0M301.2 2586.5h0M290.1 2586.7h0M254.7 2586h0M251.7 2586.9h0M302.9 2586.5h0M392.7 2586.5h0M344.8 2586.5h0M269.8 2586.7h0M376.1 2586.2h0M328.2 2586.4h0M293.2 2586.4h0M290.8 2586.7h0M310.9 2586.7h0M249.2 2586.7h0M360.6 2587h0M309.5 2586.4h0M276.9 2586.7h0M257.4 2586.7h0M301 2586.9h0M340.5 2586.7h0M401.5 2586.2h0M264.7 2587h0M259.8 2587.1h0M328.9 2586.7h0M252.2 2586.5h0M336.2 2586.9h0M271 2586.5h0M386.6 2587.3h0M354.4 2587.1h0M270.4 2587.2h0M334.3 2586.5h0M406.6 2586.8h0M342.6 2586.6h0M373.7 2587h0M356.5 2587h0M402 2586.4h0M297.1 2586.7h0M339.5 2586.2h0M392.6 2586.4h0M360 2586.6h0M358 2586.5h0M340.7 2586.6h0M383.2 2587h0M317.2 2586.4h0M267.5 2586.8h0M376.6 2586.7h0M283.9 2586.7h0M385.6 2586.6h0M337.5 2586.8h0M314.2 2586.6h0M358 2586.6h0M286.9 2586.5h0M353.2 2586.9h0M374.3 2586.7h0M245.4 2586.7h0M291.2 2586.8h0M371.7 2587.1h0M311.1 2586.8h0M271.8 2587.2h0M248.7 2586.3h0M402.1 2586.6h0M256.6 2586.9h0M241 2586.9h0M257.7 2586.5h0M355.9 2586.6h0M252.9 2587.2h0M281.9 2586.5h0M261.3 2586.6h0M395.1 2586.5h0M277.4 2587h0M396.3 2586.4h0M406.7 2586.8h0M375.7 2586.7h0M380.7 2586.3h0M378.9 2587.1h0M354.6 2586.3h0M315.8 2586.7h0M362.7 2587h0M260 2586.7h0M242.7 2586.7h0M282.3 2586.6h0M360 2586.8h0M286.8 2586.7h0M326.9 2586.8h0M351 2586.9h0M374.9 2586.5h0M269.3 2586.5h0M259.6 2586.7h0M370.5 2586.7h0M274 2586.5h0M288.8 2587.1h0M363 2586.7h0M279.1 2587.1h0M363.4 2586.2h0M254.8 2586.4h0M243 2586.6h0M258.8 2586.6h0M394.9 2586.7h0M259.7 2587h0M383.3 2586.3h0M303.2 2586.9h0M406.7 2586.9h0M351.9 2586.9h0M381.1 2586.7h0M248.5 2587.1h0M264.6 2586.4h0M397.1 2586.7h0M287.7 2586.7h0" stroke="#BEBEBE"/>
<path d="M233.5 2540.1h0" stroke="#4E79A7"/>
<path d="M231.8 2542.3h0" stroke="#BEBEBE"/>
<path d="M248 2550.3h0" stroke="#4E79A7"/>
<path d="M247.9 2552.1h0" stroke="#BEBEBE"/>
<path d="M259.5 2578.4h0" stroke="#4E79A7"/>
<path d="M258 2580.6h0" stroke="#BEBEBE"/>
<path d="M248.8 2540.3h0" stroke="#4E79A7"/>
<path d="M247.9 2543h0" stroke="#BEBEBE"/>
<path d="M246.6 2559.5h0" stroke="#4E79A7"/>
<path d="M246.2 2561.6h0" stroke="#BEBEBE"/>
<path d="M251.4 2553.8h0" stroke="#4E79A7"/>
<path d="M251 2555.8h0" stroke="#BEBEBE"/>
<path d="M236.9 2536.8h0" stroke="#4E79A7"/>
<path d="M235.8 2538.8h0" stroke="#BEBEBE"/>
<path d="M237.6 2537.7h0" stroke="#4E79A7"/>
<path d="M236.2 2535.9h0" stroke="#BEBEBE"/>
<path d="M238.5 2552.9h0" stroke="#4E79A7"/>
<path d="M239.8 2555.9h0" stroke="#BEBEBE"/>
<path d="M258.5 2560.9h0" stroke="#4E79A7"/>
<path d="M259.7 2563.8h0" stroke="#BEBEBE"/>
<path d="M250.7 2546.2h0" stroke="#4E79A7"/>
<path d="M251.1 2548.5h0" stroke="#BEBEBE"/>
<path d="M234.5 2556.4h0" stroke="#4E79A7"/>
<path d="M234.5 2559.3h0" stroke="#BEBEBE"/>
<path d="M240.9 2538.1h0" stroke="#4E79A7"/>
<path d="M239.2 2535.9h0" stroke="#BEBEBE"/>
<path d="M236.3 2567.2h0" stroke="#4E79A7"/>
<path d="M237.9 2564.9h0" stroke="#BEBEBE"/>
<path d="M231.4 2530.7h0" stroke="#4E79A7"/>
<path d="M232.7 2533.6h0" stroke="#BEBEBE"/>
<path d="M246 2540.1h0" stroke="#4E79A7"/>
<path d="M244.2 2542.5h0" stroke="#BEBEBE"/>
<path d="M247.5 2570.8h0" stroke="#4E79A7"/>
<path d="M248.1 2569.2h0" stroke="#BEBEBE"/>
<path d="M242.1 2542.5h0" stroke="#4E79A7"/>
<path d="M243 2544.2h0" stroke="#BEBEBE"/>
<path d="M235 2537.9h0" stroke="#4E79A7"/>
<path d="M235.7 2536.3h0" stroke="#BEBEBE"/>
<path d="M237.7 2546.6h0" stroke="#4E79A7"/>
<path d="M238.6 2543.6h0" stroke="#BEBEBE"/>
<path d="M295.3 2575h0" stroke="#4E79A7"/>
<path d="M295.2 2577.2h0" stroke="#BEBEBE"/>
<path d="M279.7 2570.3h0" stroke="#4E79A7"/>
<path d="M278.2 2567.5h0" stroke="#BEBEBE"/>
<path d="M266.3 2551.3h0" stroke="#4E79A7"/>
<path d="M265.3 2554.2h0" stroke="#BEBEBE"/>
<path d="M271.7 2559.5h0" stroke="#4E79A7"/>
<path d="M270.7 2562.6h0" stroke="#BEBEBE"/>
<path d="M277.4 2577.4h0" stroke="#4E79A7"/>
<path d="M276.9 2575.4h0" stroke="#BEBEBE"/>
<path d="M282 2561.8h0" stroke="#4E79A7"/>
<path d="M282.1 2558.8h0" stroke="#BEBEBE"/>
<path d="M281.6 2553.1h0" stroke="#4E79A7"/>
<path d="M280.3 2555.8h0" stroke="#BEBEBE"/>
<path d="M278.1 2565.2h0" stroke="#4E79A7"/>
<path d="M279.8 2562.4h0" stroke="#BEBEBE"/>
<path d="M278.9 2552.6h0" stroke="#4E79A7"/>
<path d="M279.2 2554.8h0" stroke="#BEBEBE"/>
<path d="M261.8 2544.2h0" stroke="#4E79A7"/>
<path d="M261.1 2547.2h0" stroke="#BEBEBE"/>
<path d="M269.1 2559.7h0" stroke="#4E79A7"/>
<path d="M267.3 2561.8h0" stroke="#BEBEBE"/>
<path d="M275.9 2554.5h0" stroke="#4E79A7"/>
<path d="M275.4 2557.2h0" stroke="#BEBEBE"/>
<path d="M295.2 2572.2h0" stroke="#4E79A7"/>
<path d="M295.6 2573.9h0" stroke="#BEBEBE"/>
<path d="M273.8 2572.8h0" stroke="#4E79A7"/>
<path d="M275.1 2575.3h0" stroke="#BEBEBE"/>
<path d="M398.7 2553.8h0" stroke="#F28E2B"/>
<path d="M397.8 2556.6h0" stroke="#BEBEBE"/>
<path d="M415.5 2559.1h0" stroke="#F28E2B"/>
<path d="M415.9 2561.3h0" stroke="#BEBEBE"/>
<path d="M392.8 2567.4h0" stroke="#F28E2B"/>
<path d="M393.8 2569h0" stroke="#BEBEBE"/>
<path d="M408.9 2565.9h0" stroke="#F28E2B"/>
<path d="M408.6 2564h0" stroke="#BEBEBE"/>
<path d="M406.6 2546.8h0" stroke="#F28E2B"/>
<path d="M406.7 2549.3h0" stroke="#BEBEBE"/>
<path d="M396.8 2551.8h0" stroke="#F28E2B"/>
<path d="M395.6 2550h0" stroke="#BEBEBE"/>
<path d="M383.9 2576.1h0" stroke="#F28E2B"/>
<path d="M383.8 2578.1h0" stroke="#BEBEBE"/>
<path d="M389.2 2565.7h0" stroke="#F28E2B"/>
<path d="M388.6 2568.4h0" stroke="#BEBEBE"/>
<path d="M388.1 2560.6h0" stroke="#F28E2B"/>
<path d="M388.5 2558.4h0" stroke="#BEBEBE"/>
<path d="M407.3 2566.5h0" stroke="#F28E2B"/>
<path d="M407.6 2568.4h0" stroke="#BEBEBE"/>
<path d="M415.3 2562.9h0" stroke="#F28E2B"/>
<path d="M415.3 2560.8h0" stroke="#BEBEBE"/>
<path d="M413.6 2568.2h0" stroke="#F28E2B"/>
<path d="M414.8 2570.8h0M614.8 2130h0M189 2323.1h0M242.1 2356.3h0M475.5 2359.6h0M477.6 2395.7h0M518.2 2416.4h0M471.4 2435.9h0M523.6 2514.7h0" stroke="#BEBEBE"/>
<path d="M186.1 2323.1h0M219.3 2397.4h0M239.2 2397.4h0M122.7 2450.4h0" stroke="#4E79A7"/>
<path d="M519.9 2130h0M497.5 2296.2h0M516.5 2335.6h0M478 2424.3h0" stroke="#F28E2B"/>
<path d="M466.9 2456h0M394 2477.3h0M239.9 2471.9h0M252.8 2476.9h0M219.9 2476.9h0M297.8 2513.5h0M302.7 2523.9h0M352.7 2532.2h0M273.8 2517.9h0M273.8 2527.8h0M261.8 2521.9h0M239.9 2513.9h0M217.9 2505.9h0M225.9 2506.9h0M331.7 2549.4h0M297.8 2549.4h0M188.5 2571.2h0M203.9 2586.1h0M220.9 2553.4h0M226.9 2563.8h0M431.5 2559.8h0M436.5 2556.8h0M430.9 2572.8h0M442.1 2570.8h0M432.5 2586.1h0M438.5 2586.1h0M419.5 2559.8h0M437.5 2468h0M435.5 2476.9h0M443.5 2476.9h0M428.5 2484.9h0M434.5 2496.9h0M444.5 2496.9h0M449.5 2501.9h0M425.5 2516.9h0M413.6 2523.9h0M398.6 2520.9h0M398.6 2532.8h0M389.6 2537.8h0M427.5 2535.8h0" stroke="#BEBEBE"/>
<path d="M185 2477.3h0M191.9 2476.9h0M229.9 2476.9h0M260.8 2497.9h0M257.8 2501.9h0M215.9 2516.9h0M213.5 2520.9h0M224.9 2518.9h0M233.5 2515.9h0M227.9 2523.9h0M250.8 2520.9h0M235.9 2527.8h0M229.9 2534.8h0M255.8 2532.8h0M259.8 2537.8h0M224.9 2545.8h0M228.9 2548.8h0M233.9 2550.8h0M255.8 2552.8h0M279.2 2553.8h0M262.8 2586.1h0" stroke="#4E79A7"/>
<path d="M458.9 2464h0M451.5 2468h0M459.5 2478.9h0M454.5 2480.9h0M430.1 2489.9h0M435.5 2505.3h0M440.5 2516.9h0M422.5 2525.8h0M435.5 2524.9h0M446.5 2523.9h0M406.6 2535.8h0M424.5 2538.8h0M438.5 2548.8h0M389.6 2551.8h0M387.6 2559.8h0M361.6 2585.7h0M393.6 2585.7h0M406.6 2585.7h0M318.3 2561.8h0" stroke="#F28E2B"/>
<line x1="293.5" y1="2107.6" x2="293.5" y2="2608" stroke="#000" stroke-width="2.1" stroke-linecap="butt"/>
<line x1="352" y1="2107.6" x2="352" y2="2608" stroke="#000" stroke-width="2.1" stroke-linecap="butt"/>
<line x1="98.7" y1="2542" x2="638.8" y2="2542" stroke="#000" stroke-width="2.1" stroke-linecap="butt"/>
<path d="M98.7 2107.6V2608H638.8" fill="none" stroke="#000" stroke-width="2.1" stroke-linecap="butt" stroke-linejoin="miter"/>
<line x1="92.7" y1="2147" x2="98.7" y2="2147" stroke="#000" stroke-width="2.1" stroke-linecap="butt"/>
<text x="86.5" y="2154.8" font-size="20.3" text-anchor="end" fill="#4d4d4d">10.0</text>
<line x1="92.7" y1="2256.8" x2="98.7" y2="2256.8" stroke="#000" stroke-width="2.1" stroke-linecap="butt"/>
<text x="86.5" y="2264.6" font-size="20.3" text-anchor="end" fill="#4d4d4d">7.5</text>
<line x1="92.7" y1="2367.1" x2="98.7" y2="2367.1" stroke="#000" stroke-width="2.1" stroke-linecap="butt"/>
<text x="86.5" y="2374.9" font-size="20.3" text-anchor="end" fill="#4d4d4d">5.0</text>
<line x1="92.7" y1="2476.9" x2="98.7" y2="2476.9" stroke="#000" stroke-width="2.1" stroke-linecap="butt"/>
<text x="86.5" y="2484.7" font-size="20.3" text-anchor="end" fill="#4d4d4d">2.5</text>
<line x1="92.7" y1="2586.8" x2="98.7" y2="2586.8" stroke="#000" stroke-width="2.1" stroke-linecap="butt"/>
<text x="86.5" y="2594.6" font-size="20.3" text-anchor="end" fill="#4d4d4d">0.0</text>
<line x1="169.1" y1="2608" x2="169.1" y2="2614" stroke="#000" stroke-width="2.1" stroke-linecap="butt"/>
<text x="169.1" y="2635.2" font-size="20.3" text-anchor="middle" fill="#4d4d4d">-0.5</text>
<line x1="322.5" y1="2608" x2="322.5" y2="2614" stroke="#000" stroke-width="2.1" stroke-linecap="butt"/>
<text x="322.5" y="2635.2" font-size="20.3" text-anchor="middle" fill="#4d4d4d">0.0</text>
<line x1="475.5" y1="2608" x2="475.5" y2="2614" stroke="#000" stroke-width="2.1" stroke-linecap="butt"/>
<text x="475.5" y="2635.2" font-size="20.3" text-anchor="middle" fill="#4d4d4d">0.5</text>
<line x1="628.5" y1="2608" x2="628.5" y2="2614" stroke="#000" stroke-width="2.1" stroke-linecap="butt"/>
<text x="628.5" y="2635.2" font-size="20.3" text-anchor="middle" fill="#4d4d4d">1.0</text>
<line x1="462.2" y1="2479.4" x2="512" y2="2480.7" stroke="#F28E2B" stroke-width="1.9" stroke-linecap="butt"/>
<line x1="137.6" y1="2431.8" x2="125.2" y2="2448.3" stroke="#4E79A7" stroke-width="1.9" stroke-linecap="butt"/>
<text x="558" y="2135.4" font-size="25.8" font-style="italic" text-anchor="middle" fill="#DB8C3F">AC149090.1</text>
<text x="519.9" y="2285.5" font-size="25.8" font-style="italic" text-anchor="middle" fill="#DB8C3F">Ifi27</text>
<text x="538.9" y="2324" font-size="25.8" font-style="italic" text-anchor="middle" fill="#DB8C3F">C4b</text>
<text x="500.4" y="2414" font-size="25.8" font-style="italic" text-anchor="middle" fill="#DB8C3F">Etnppl</text>
<text x="431.1" y="2452.6" font-size="25.8" font-style="italic" text-anchor="middle" fill="#DB8C3F">Wls</text>
<text x="494.6" y="2454.6" font-size="25.8" font-style="italic" text-anchor="middle" fill="#DB8C3F">Lfng</text>
<text x="542.2" y="2489.9" font-size="25.8" font-style="italic" text-anchor="middle" fill="#DB8C3F">Bst2</text>
<text x="475.9" y="2511" font-size="25.8" font-style="italic" text-anchor="middle" fill="#DB8C3F">Dbp</text>
<text x="164.2" y="2352.6" font-size="25.8" font-style="italic" text-anchor="middle" fill="#4F7099">Rps24</text>
<text x="178.3" y="2388.3" font-size="25.8" font-style="italic" text-anchor="middle" fill="#4F7099">Gpx8</text>
<text x="262.8" y="2386.2" font-size="25.8" font-style="italic" text-anchor="middle" fill="#4F7099">Hspa8</text>
<text x="143.4" y="2426.4" font-size="25.8" font-style="italic" text-anchor="middle" fill="#4F7099">Fabp7</text>
<text x="203.1" y="2462.1" font-size="25.8" font-style="italic" text-anchor="middle" fill="#4F7099">Hmgcs1</text>
<text x="152.6" y="2507.3" font-size="25.8" font-style="italic" text-anchor="middle" fill="#4F7099">Msmo1</text>
<text x="242.1" y="2498.2" font-size="25.8" font-style="italic" text-anchor="middle" fill="#4F7099">Srsf3</text>
</g>
<g fill="none" stroke-width="10.2" stroke-linecap="round">
<text x="975.1" y="2088.9" font-size="39.2" text-anchor="middle" fill="#1a1a1a">aNSC-NPC</text>
<path d="M884.4 2567.5h0M875.7 2539.3h0M874.8 2546.4h0M876 2568.4h0M875.1 2567.7h0M878.6 2527.3h0M884.8 2503.5h0M878.1 2569.4h0M875 2512.2h0M878.8 2535.2h0M885.6 2569.3h0M878.2 2561.1h0M877.8 2509.1h0M884.7 2586.9h0M881.6 2520.2h0M878.1 2530.3h0M884.1 2524.2h0M878.7 2551.9h0M874.7 2520.6h0M883.4 2573.4h0M879.9 2578.3h0M888.7 2533.8h0M888.9 2548.1h0M881.9 2551.8h0M891.2 2576.9h0M897.6 2575.7h0M899.1 2569h0M891.6 2547.9h0M892.3 2541.3h0M885.6 2517h0M881.4 2525.3h0M885.4 2545.3h0M885.1 2518h0M884.4 2553.1h0M887.8 2552.4h0M891.7 2536.1h0M888.4 2582.5h0M893.8 2581.3h0M891 2551.2h0M889.7 2522.2h0M890.8 2513.5h0M885.6 2527.3h0M899.2 2561h0M896.7 2547.4h0M896.1 2556.1h0M895.8 2582.5h0M891.2 2571.1h0M901.4 2506.4h0M899.1 2521h0M888.5 2545.2h0M883.6 2563.9h0M885.9 2516h0M900.8 2586.3h0M895 2542.8h0M889.8 2540.4h0M897.6 2567.1h0M890.8 2540.2h0M893.2 2551.4h0M900.3 2545.8h0M890.9 2543.7h0M900.4 2506.8h0M898.7 2518.1h0M901.1 2561.4h0M891.2 2586.7h0M899.4 2542.9h0M908.5 2543h0M911.9 2556.3h0M919.2 2515.3h0M900.9 2510.2h0M903.5 2563.3h0M918.6 2585.5h0M907.2 2515h0M910 2523.5h0M919 2507.7h0M907 2541.3h0M910.3 2551.8h0M914 2563.8h0M899.1 2514.8h0M915.4 2542.3h0M903.9 2512.6h0M907.3 2572.5h0M914.7 2539.9h0M909.1 2498.6h0M907.9 2529.9h0M904.2 2516.7h0M914.1 2500h0M908.6 2568h0M904.8 2525.1h0M906.4 2555.5h0M919 2572.3h0M900.3 2567.3h0M912.1 2501.3h0M918 2527.7h0M916.3 2567h0M915.5 2565.1h0M910 2584.5h0M909.9 2572.8h0M918.2 2573.6h0M904.7 2544.8h0M906.9 2540.6h0M918.2 2565.6h0M907.1 2574.1h0M915.5 2581.5h0M905.3 2506h0M909.6 2548.3h0M913.1 2570.7h0M905.1 2564.4h0M901.6 2557.7h0M914.2 2582.2h0M911.8 2513.5h0M913.4 2548.1h0M926.7 2527.8h0M920.5 2535.2h0M924.9 2573.7h0M927 2555.8h0M927.8 2568.1h0M925.7 2548.5h0M920.6 2562.4h0M926 2585.2h0M924.1 2577.1h0M924.4 2575.6h0M919.8 2545.8h0M924.2 2517.6h0M921.1 2557.5h0M921.5 2507h0M918.7 2537.8h0M925.8 2588.5h0M924.6 2562.6h0M919.6 2511.4h0M918.2 2566.1h0M918.1 2540h0M925.8 2556.9h0M936.6 2540.5h0M931.5 2566.6h0M935.5 2548.2h0M941.4 2556.9h0M937 2562.3h0M929.8 2546.2h0M925.7 2557.9h0M926.7 2548.3h0M935.9 2537.1h0M927.9 2540.7h0M931 2581.3h0M936.9 2580.5h0M925.4 2583.4h0M931.3 2541.3h0M938 2544.8h0M933.9 2579.1h0M929.4 2567.1h0M926.3 2563.3h0M941.2 2556.5h0M926.3 2550.1h0M932.1 2532.8h0M935.8 2583.8h0M936.4 2585.7h0M942.3 2573.8h0M930.9 2572h0M940.2 2571h0M944.6 2566.8h0M952 2554.1h0M952.4 2553.1h0M945.3 2573.9h0M945.7 2578.8h0M947.4 2562.4h0M951.6 2560.3h0M950.4 2555.3h0M951 2558.6h0M948.6 2554.8h0M952.6 2550.4h0M952.8 2552.3h0M950.3 2586.6h0M948.7 2576.3h0M956 2553.5h0M963.6 2554.2h0M948.4 2575.5h0M964.7 2550h0M943.7 2570.1h0M951.4 2552.9h0M957.3 2566.3h0M938.1 2577.3h0M955.4 2542.3h0M942.8 2549h0M939.2 2555.7h0M943.7 2566.4h0M960.7 2589h0M943.9 2569.8h0M958.9 2558.4h0M945.6 2552.6h0M945.3 2588.5h0M946.3 2564.3h0M968 2562.1h0M968.6 2538.4h0M980.4 2547.1h0M963 2561.2h0M974 2543.6h0M966.2 2549.6h0M966.2 2577.1h0M969.3 2539.9h0M969.6 2577.1h0M972.5 2559.2h0M978.2 2546.3h0M962.5 2568.2h0M960.1 2571.6h0M977.4 2550.7h0M966.9 2585.8h0M967.8 2557.6h0M967.8 2576.7h0M977.4 2539.8h0M968.9 2549.7h0M967.1 2590h0M982.6 2582.8h0M962.6 2588.2h0M966.2 2558.3h0M958.8 2543.3h0M967.8 2548.6h0M970.7 2568.4h0M971.4 2561.4h0M962.9 2542.1h0M962.9 2564.8h0M976.1 2549.4h0M984.4 2552.5h0M985.8 2577.9h0M979 2535.3h0M981.6 2535.4h0M990.7 2554.7h0M988.9 2542.4h0M986.8 2580.3h0M986.1 2528.1h0M979.9 2546.7h0M983.6 2540.2h0M988.9 2585.7h0M978.7 2556.5h0M982.1 2530.4h0M984.1 2543.1h0M984.9 2583h0M981 2582.5h0M975.4 2566.3h0M994.1 2568.6h0M980.3 2550.4h0M985.4 2544.2h0M985.5 2557.8h0M988.1 2579.7h0M983 2531.2h0M992 2547.7h0M994.7 2524h0M990.9 2518.6h0M990.3 2526.4h0M986.1 2535.7h0M986.4 2572.4h0M986.3 2547.1h0M981.8 2559.2h0M978.6 2568.9h0M1003 2513.7h0M1004.2 2521.7h0M993.3 2532.8h0M1006.3 2555.1h0M1001.2 2530.1h0M992.9 2540.7h0M998.6 2559.7h0M999.3 2566.3h0M999.2 2565h0M1004.1 2500.9h0M1001.5 2522.1h0M1006.6 2513.5h0M999.8 2552h0M1003.3 2557.7h0M998.1 2537.6h0M997.6 2569.1h0M995.1 2560.2h0M993.8 2543.9h0M995.1 2513.7h0M1009.1 2512.1h0M997.5 2563.9h0M1004.5 2580.3h0M1006.2 2551h0M1006.2 2552.3h0M994.9 2557.6h0M1003.8 2532h0M1001.2 2583.6h0M1001.3 2576.6h0M1002.6 2572.5h0M995.1 2550.8h0M1002.2 2579.7h0M995.8 2523.7h0M1008.1 2517h0M1019.2 2473.2h0M1016.4 2488.2h0M1013.8 2502.7h0M1022.9 2498.2h0M1016.6 2556h0M1007.8 2533.9h0M1018.9 2482.8h0M1017.8 2552.2h0M1015.1 2547.1h0M1017.9 2493.9h0M1015.8 2491h0M1006.7 2531.1h0M1016.2 2555.2h0M1021.7 2509.8h0M1015.2 2523.7h0M1012.9 2496.5h0M1016 2483.6h0M1015.5 2537.9h0M1022.3 2553.6h0M1023.5 2584.5h0M1007.3 2516.6h0M1020.9 2487.8h0M1011.9 2489.3h0M1014.8 2524.5h0M1012.6 2535h0M1016.7 2548.2h0M1011.5 2510.9h0M1017.4 2493.2h0M1015.7 2584.9h0M1007.5 2537.9h0M1013.3 2575.9h0M1009.2 2512.7h0M1019.9 2563.9h0M1012.3 2567.1h0M1012.4 2556.5h0M1017 2502.3h0M1014.9 2517.8h0M1013.6 2485.5h0M1022 2579.8h0M1011.3 2498.9h0M1020.2 2494.8h0M1019.7 2532.7h0M1010.3 2571.4h0M1011.8 2508h0M1018.3 2529.5h0M1022.1 2500.9h0M1019 2564.8h0M1029.4 2490.1h0M1021.7 2482h0M1023.9 2493.1h0M1018.2 2504.6h0M1024.3 2484.1h0M1030 2481.4h0M1033 2476.4h0M1025.6 2479.7h0M1023 2521.5h0M1025 2535.6h0M1030.7 2533.9h0M1022.9 2575.9h0M1027.4 2584.6h0M1033 2537.2h0M1029.6 2553.6h0M1026.8 2501.4h0M1032.7 2482.1h0M1024.4 2496.2h0M1034.5 2513.9h0M1034.1 2517.5h0M1028.2 2483.3h0M1030.1 2564.9h0M1027.3 2543.5h0M1025.7 2502.4h0M1035.5 2496.7h0M1036.3 2560.7h0M1031.5 2471.5h0M1027.2 2550h0M1022.6 2490.4h0M1030.6 2544.1h0M1030.4 2575.6h0M1021.3 2492.1h0M1034.4 2480.8h0M1030.6 2521.9h0M1033.8 2466h0M1033.9 2567.6h0M1025.3 2518.1h0M1035.7 2513h0M1032.3 2519.7h0M1023.1 2472.1h0M1029.8 2486.5h0M1022.6 2567.6h0M1022 2535.6h0M1020.3 2466.1h0M1020.2 2523.6h0M1028.7 2523.6h0M1031.6 2530.5h0M1024.3 2521.9h0M1026.5 2579.7h0M1034.4 2568.7h0M1028.9 2486.7h0M1032.4 2578.5h0M1020.3 2516.3h0M1017.9 2542.6h0M1044.3 2508.4h0M1039.7 2567.6h0M1047.5 2506h0M1046.3 2532.8h0M1037.9 2565h0M1036.9 2488.8h0M1043.5 2560.7h0M1043.4 2543.7h0M1047.5 2493.5h0M1044.9 2518.7h0M1048.7 2556.1h0M1036.3 2528.8h0M1047.2 2570.5h0M1035.1 2549.6h0M1041.7 2547.9h0M1051 2558h0M1039.5 2511.6h0M1045.1 2484.7h0M1046.6 2519.9h0M1039.7 2549.1h0M1034.9 2551.1h0M1046.8 2474.2h0M1044.6 2504.8h0M1047 2473.2h0M1041.8 2520.8h0M1044.8 2560.2h0M1035.6 2471.2h0M1047.2 2521.4h0M1037.3 2509.6h0M1041 2498.9h0M1036.6 2482h0M1039.4 2547.1h0M1040.9 2489.7h0M1042 2547.4h0M1039.6 2483.7h0M1038.1 2531.5h0M1045.2 2524h0M1041.7 2555.2h0M1036 2577.1h0M1041.3 2514.3h0M1034.9 2479.1h0M1048.6 2543.8h0M1051.4 2556.3h0M1053 2507.5h0M1049.1 2555h0M1049.5 2530.7h0M1049.1 2477.6h0M1054.9 2542.8h0M1051.3 2540.7h0M1050.2 2538.9h0M1055.9 2525.6h0M1051.1 2524.1h0M1049.5 2526.5h0M1051.9 2523.5h0M875.4 2552.9h0M879.2 2540h0M876.9 2517.9h0M875.5 2521.9h0M881.8 2561.9h0M881.6 2551.7h0M883.9 2521.7h0M876.5 2557.1h0M881.7 2541.4h0M877.3 2560.8h0M872.8 2523h0M883.2 2541.9h0M883.7 2519.6h0M876.1 2545.6h0M878.6 2513.7h0M885.6 2574.8h0M880.6 2530.5h0M883.3 2556.6h0M882.8 2541h0M874.2 2542.4h0M882.9 2548h0M897.9 2569.3h0M887.5 2569.8h0M885.1 2523.4h0M890.5 2534.4h0M903.3 2551.1h0M894 2532.5h0M887.2 2542.8h0M894.4 2556.6h0M891.5 2561.9h0M895 2538.2h0M890.8 2542.4h0M891.6 2557.9h0M888.8 2555.9h0M893.6 2556.9h0M898.1 2550.1h0M896.7 2549.7h0M891.2 2561.9h0M895.3 2540.7h0M895.3 2580.3h0M884.5 2575h0M897.8 2540.7h0M884.1 2536.2h0M889.6 2572.9h0M884.2 2557.7h0M894.9 2565.9h0M892 2546.5h0M891 2552.1h0M887.7 2554.6h0M895.4 2579.2h0M891.7 2518.7h0M897.8 2548.9h0M890.9 2538h0M894.1 2530.2h0M887.3 2560.4h0M895.5 2551.6h0M894.1 2529h0M899.5 2564.3h0M888.9 2566.1h0M902.6 2516.5h0M891.8 2547.2h0M892.6 2545.4h0M889.8 2551.6h0M888.4 2522.7h0M897 2543.4h0M907.1 2553.1h0M904.5 2536.9h0M914.3 2520.3h0M918 2527.8h0M915.9 2573.6h0M914.7 2550.8h0M909 2527.4h0M904.5 2542.2h0M907.2 2571.1h0M906.7 2542.2h0M904.9 2546.3h0M915.7 2552.9h0M913.4 2520.6h0M912.4 2521.1h0M911.9 2546.6h0M902.4 2538.9h0M910.2 2534.8h0M914.1 2576.1h0M908 2549.4h0M905 2571.6h0M913.9 2504.2h0M910.7 2549.5h0M915.8 2578.6h0M915.8 2578.5h0M916.1 2533.4h0M912.9 2522.8h0M915.6 2542h0M906.9 2582.7h0M917 2525.3h0M915 2582.5h0M916.2 2551.7h0M907.3 2510.1h0M911.2 2522.9h0M908.5 2546.4h0M916.2 2555.2h0M909.4 2528.7h0M905.3 2562.9h0M905.1 2521.5h0M899.7 2551.6h0M907 2570.4h0M900.1 2556.3h0M908.1 2520.7h0M915.1 2545.5h0M909.6 2574.3h0M916.4 2548.7h0M917.4 2553.7h0M909.8 2543.9h0M910.5 2527.4h0M924.5 2571.1h0M921.6 2562.3h0M925.6 2572.3h0M921.5 2536.8h0M919.4 2540.4h0M920 2530.9h0M919.5 2567.1h0M921.6 2537.4h0M920.1 2537.7h0M918.6 2546.5h0M919.4 2567.5h0M922.2 2541.7h0M916.6 2551.4h0M920.2 2519.5h0M922.9 2546.7h0M921.2 2568.4h0M925.3 2550.4h0M925.6 2540.9h0M921.3 2520.5h0M925.7 2543.1h0M917 2539.7h0M919.9 2540.9h0M927.2 2546.2h0M935.2 2573.5h0M930 2563.9h0M928.8 2568.6h0M936.5 2577.8h0M936.5 2569.2h0M938.8 2565.1h0M937.8 2559.8h0M930.9 2549.7h0M940.2 2548.3h0M932.7 2576.5h0M926.5 2558.8h0M933.5 2559.1h0M940 2566.3h0M923.6 2563.6h0M931.6 2566.4h0M936.4 2568.7h0M932 2570.3h0M929.7 2543.7h0M934.7 2571.6h0M929.4 2560h0M933.4 2566.9h0M932.5 2548.2h0M933.4 2575.6h0M936.2 2576h0M937.9 2581.4h0M958.7 2574.8h0M957.6 2557.5h0M954.2 2561.2h0M944.9 2570.8h0M949.3 2544.8h0M946.1 2555.1h0M953.1 2565.3h0M953 2558.4h0M952.2 2551.7h0M953.2 2556.1h0M941 2572.3h0M946.3 2576.3h0M950.1 2567.2h0M953.8 2566.7h0M942.1 2563.4h0M957 2552.8h0M940.5 2571.4h0M954.2 2578.4h0M951.1 2562.1h0M948.4 2562.7h0M949.6 2579.3h0M957.1 2566.1h0M943 2565.7h0M952.7 2568.6h0M954.6 2562.4h0M957.3 2550.9h0M948.5 2563.8h0M944.4 2566.8h0M945 2562.3h0M958.7 2557.5h0M959.4 2553.4h0M956.6 2565h0M952 2563.7h0M971.5 2543.8h0M972.3 2568.2h0M969.6 2556.2h0M977.4 2547.5h0M962.1 2567.9h0M981.2 2546.5h0M964.4 2548.7h0M965.8 2539.2h0M967.6 2571.1h0M964 2576h0M979.7 2562.2h0M980.4 2570h0M964.1 2565.8h0M962.5 2580.1h0M975 2546.1h0M975.5 2557.1h0M973.4 2540.8h0M966.9 2565.1h0M967.1 2561.7h0M964.3 2558.2h0M971.7 2552h0M965.1 2565.3h0M972 2546.6h0M975.7 2569.8h0M963.7 2579.2h0M960.3 2556.8h0M974.7 2550h0M966.8 2577.2h0M966 2579h0M965.3 2566.3h0M973.3 2569.9h0M986.2 2538.7h0M987.9 2558h0M982.6 2566.4h0M991.6 2553.3h0M989 2561.5h0M986.9 2542.3h0M993.6 2536.2h0M981.2 2563.1h0M973.7 2559.4h0M991.8 2544.9h0M989.2 2530.3h0M985.3 2575h0M992.8 2586.9h0M990.6 2531.7h0M979.5 2532.4h0M987.2 2536.9h0M983.1 2574.8h0M986.3 2557.6h0M986.9 2552.6h0M981.6 2556.6h0M989 2557.4h0M980.6 2550h0M982.8 2560.7h0M988.8 2532.3h0M986.6 2532.4h0M982.5 2534.8h0M980.5 2559.5h0M994.5 2540.7h0M985.4 2538.1h0M991.2 2520.4h0M990.8 2559h0M990.4 2553.3h0M1004.1 2530.3h0M992.2 2559.3h0M1002.7 2554.8h0M1002.1 2575.4h0M998.1 2527.9h0M997 2554h0M993.2 2561.9h0M998 2544.1h0M1002.4 2559h0M1003.4 2555.6h0M1001.1 2542.7h0M998.7 2554.7h0M1001.7 2569.1h0M995.6 2540.2h0M1005.1 2586.9h0M994.2 2570.7h0M997.8 2511.7h0M993.1 2516.3h0M995.8 2573.2h0M996 2531h0M1000.3 2543.9h0M997.4 2577.2h0M1005 2583.7h0M998.2 2528.3h0M1006.8 2559.8h0M1005.5 2558.4h0M994.1 2568.2h0M1005.2 2531.8h0M1008 2534.6h0M994 2568.7h0M1003.2 2551.6h0M1006 2514.3h0M993.5 2533.4h0M1011.9 2524.6h0M1017.5 2530.5h0M1011.1 2547.2h0M1012.6 2518.2h0M1010.5 2529.7h0M1017.9 2521.5h0M1015.5 2518.1h0M1006.5 2542.7h0M1010.6 2504.3h0M1010.8 2540.7h0M1009.4 2533.8h0M1019.8 2534h0M1008.5 2577.8h0M1014.5 2540.6h0M1014.4 2518.5h0M1009.7 2535.4h0M1006.5 2538h0M1008.3 2518.9h0M1011.2 2509.7h0M1008.7 2561.5h0M1018.7 2515.9h0M1019.6 2522.3h0M1019.1 2521.5h0M1010.5 2517.2h0M1012.9 2534.1h0M1013.7 2510.8h0M1014.2 2523.1h0M1019.4 2529.2h0M1014.3 2512h0M1002.6 2530.3h0M1005.9 2551.1h0M1010.4 2554.9h0M1013.9 2554.3h0M1022.2 2515.2h0M1015 2566.1h0M1005.2 2532.5h0M1010.7 2564.5h0M1014.3 2542.6h0M1011.7 2543.7h0M1018 2492.2h0M1009.7 2518.8h0M1020.9 2534.1h0M1013.9 2553h0M1010.5 2559.5h0M1011.5 2558.4h0M1005.1 2494h0M1010.4 2515.5h0M1021.2 2524.1h0M1020.8 2544.1h0M1023.4 2473.1h0M1032.2 2526.9h0M1034.5 2523.9h0M1025 2491h0M1020.2 2546.9h0M1030.1 2525h0M1025.9 2552.2h0M1031.2 2530.5h0M1020.8 2538.2h0M1029.7 2529.2h0M1031.8 2522.4h0M1034.2 2553.6h0M1027.9 2489.8h0M1036.4 2548.3h0M1021.9 2530.6h0M1035.2 2521.6h0M1037.7 2530.2h0M1028.9 2524h0M1025.8 2548.9h0M1030.3 2520.8h0M1022.7 2506.1h0M1031 2525.2h0M1036.4 2502.6h0M1029.6 2517.8h0M1033.9 2534.4h0M1023.5 2486h0M1034.1 2578.7h0M1033.5 2494.8h0M1025 2521.1h0M1027.1 2551.2h0M1022.7 2535.4h0M1021.4 2537.8h0M1024.3 2552.7h0M1038.2 2496.3h0M1025.3 2484h0M1035.7 2488.7h0M1034.8 2516.3h0M1021.6 2504.6h0M1027.5 2476.4h0M1024.8 2498.1h0M1035 2507.8h0M1036.6 2527.4h0M1027.7 2570.6h0M1032.7 2496.5h0M1032.1 2550.5h0M1034.1 2510.7h0M1030.3 2537h0M1030.3 2489.2h0M1019.8 2566.9h0M1032.8 2532.3h0M1023.1 2569.7h0M1025.3 2545.7h0M1025.1 2533.9h0M1017.2 2490.4h0M1025.1 2524.4h0M1037.8 2493h0M1047.3 2498.2h0M1041.3 2527.5h0M1041.2 2486.1h0M1043.5 2537.9h0M1033.4 2506.8h0M1034.9 2565.9h0M1046.1 2556.1h0M1040 2499h0M1040 2499.6h0M1042.3 2475h0M1041.8 2524.5h0M1048.6 2514.9h0M1035.3 2492.6h0M1036.6 2512.9h0M1041.5 2540.3h0M1042.6 2533.3h0M1038.2 2503.6h0M1043.4 2486.6h0M1046 2515.2h0M1032.9 2485.1h0M1041.9 2528.6h0M1048.3 2531.9h0M1049.4 2506.9h0M1040.4 2519.9h0M1041.5 2521.9h0M1038.4 2523.3h0M1041.1 2512.8h0M1045 2528.4h0M1045.2 2554.7h0M1045.8 2515.2h0M1044.3 2503.6h0M1042.5 2519.6h0M1040 2540.5h0M1037.4 2563.9h0M1044.2 2537.6h0M1048.8 2527.1h0M1040.1 2530.8h0M1038.5 2539.9h0M1041 2523.6h0M1044.3 2511.3h0M1044.1 2527.5h0M1052 2501.9h0M1052.3 2529h0M1052.6 2529h0M1055.6 2557.9h0M1048.1 2526.6h0M1052.5 2502.3h0M1050.9 2538h0M1052.1 2522.6h0M1054.3 2514.2h0M1051.2 2553.7h0M1053.8 2541.5h0M1051.6 2506.7h0M1047.6 2538.2h0M899.8 2586.6h0M1008.5 2586.2h0M873.1 2587h0M988.1 2586.7h0M921 2586.4h0M869.6 2586.7h0M952.5 2586.6h0M878.1 2586.7h0M869.8 2586.5h0M1007.2 2586.5h0M963.1 2586.4h0M934 2586.7h0M899.2 2585.9h0M877.3 2586.4h0M905.6 2586.6h0M960 2586.6h0M1006.8 2586.1h0M904.4 2586.3h0M907.6 2586.5h0M939 2586.1h0M946.9 2586.6h0M999.4 2586.5h0M899.5 2586.2h0M893.2 2586.4h0M914.7 2585.9h0M964.2 2586.3h0M890.3 2586.6h0M942.5 2586.5h0M900.3 2586.5h0M956 2586.9h0M970.4 2586.5h0M943 2586.4h0M975.1 2586.5h0M882.3 2586.4h0M963.1 2586.5h0M983.8 2586.5h0M949.9 2586.1h0M934.6 2586.5h0M877.2 2586.2h0M1009.9 2586.1h0M904.4 2586.6h0M946 2586.7h0M925.8 2586.2h0M872 2586.6h0M882.3 2587.1h0M934.7 2586.8h0M964.1 2586.9h0M1006 2586.3h0M929.2 2586.7h0M1010.3 2586.1h0M993 2586.1h0M915.2 2586.1h0M987 2586h0M889.2 2586.3h0M954.5 2586.7h0M896.2 2587.1h0M998.4 2586.4h0M967.1 2586.2h0M947 2586.2h0M1010.5 2586.4h0M877.7 2586.4h0M934.6 2586.6h0M925.6 2586.1h0M1000.1 2586.6h0M958 2586.6h0M894.2 2586.3h0M895.9 2586.5h0M967 2586.3h0M951.1 2586.1h0M968.2 2586.1h0M994.2 2587h0M875.3 2586.3h0M997 2586.5h0M950.8 2586.6h0M961 2587h0M954.4 2586.3h0M949.2 2586.8h0M963.1 2586.9h0M893.3 2586.7h0M1001.9 2586.8h0M889.6 2587.1h0M917.4 2586.5h0M870.8 2586.5h0M991.7 2586.2h0M904.3 2586.3h0M980.5 2586.4h0M1006.2 2586.1h0M993.8 2586.6h0M932.4 2586.3h0M883.6 2586.5h0M915.2 2587h0M970.8 2586.5h0M870.1 2586.4h0M903.4 2586.7h0M956.2 2586.7h0M934 2586.2h0" stroke="#BEBEBE"/>
<path d="M907.7 2558.4h0" stroke="#4E79A7"/>
<path d="M906.4 2556.2h0" stroke="#BEBEBE"/>
<path d="M914.5 2575.9h0" stroke="#4E79A7"/>
<path d="M914.1 2574.1h0" stroke="#BEBEBE"/>
<path d="M921.9 2556.8h0" stroke="#4E79A7"/>
<path d="M920.9 2558.6h0" stroke="#BEBEBE"/>
<path d="M917.9 2540.2h0" stroke="#4E79A7"/>
<path d="M916.7 2542.8h0" stroke="#BEBEBE"/>
<path d="M918 2558.8h0" stroke="#4E79A7"/>
<path d="M917.9 2556.6h0" stroke="#BEBEBE"/>
<path d="M914.7 2570.2h0" stroke="#4E79A7"/>
<path d="M916.4 2572.6h0" stroke="#BEBEBE"/>
<path d="M898.6 2542.5h0" stroke="#4E79A7"/>
<path d="M897.7 2544.1h0" stroke="#BEBEBE"/>
<path d="M903.4 2567.9h0" stroke="#4E79A7"/>
<path d="M902.1 2565.6h0" stroke="#BEBEBE"/>
<path d="M906.6 2556.1h0" stroke="#4E79A7"/>
<path d="M906.3 2558.4h0" stroke="#BEBEBE"/>
<path d="M918.9 2577.5h0" stroke="#4E79A7"/>
<path d="M918.3 2579.6h0" stroke="#BEBEBE"/>
<path d="M899 2560.6h0" stroke="#4E79A7"/>
<path d="M899.6 2563.7h0" stroke="#BEBEBE"/>
<path d="M917.6 2545.3h0" stroke="#4E79A7"/>
<path d="M918.2 2543.5h0" stroke="#BEBEBE"/>
<path d="M909.6 2552.7h0" stroke="#4E79A7"/>
<path d="M909.3 2554.3h0" stroke="#BEBEBE"/>
<path d="M899.9 2531h0" stroke="#4E79A7"/>
<path d="M900.9 2534h0" stroke="#BEBEBE"/>
<path d="M1019.5 2564.1h0" stroke="#F28E2B"/>
<path d="M1018 2566.3h0" stroke="#BEBEBE"/>
<path d="M1022.7 2551h0" stroke="#F28E2B"/>
<path d="M1024.3 2553.4h0" stroke="#BEBEBE"/>
<path d="M1023 2562.4h0" stroke="#F28E2B"/>
<path d="M1024.7 2564.4h0" stroke="#BEBEBE"/>
<path d="M1008.7 2559.8h0" stroke="#F28E2B"/>
<path d="M1008.2 2562.4h0" stroke="#BEBEBE"/>
<path d="M1002.7 2570.9h0" stroke="#F28E2B"/>
<path d="M1003.7 2567.8h0" stroke="#BEBEBE"/>
<path d="M1008 2550.5h0" stroke="#F28E2B"/>
<path d="M1006.9 2548.5h0" stroke="#BEBEBE"/>
<path d="M1012.1 2550.9h0" stroke="#F28E2B"/>
<path d="M1010.9 2553.9h0M851.1 2287.5h0M871.4 2366.3h0M1095.7 2383.7h0M1082 2397.4h0M1159.5 2475.7h0M1137.6 2484.4h0M1152.1 2503.1h0M1107.7 2546.6h0M1109.8 2553.2h0M1103.6 2452.5h0" stroke="#BEBEBE"/>
<path d="M803 2365.4h0M854.4 2406.9h0" stroke="#4E79A7"/>
<path d="M1181.5 2130.4h0M1135.5 2207.9h0M1102.8 2336h0M1186.5 2362.1h0M1262.4 2445.4h0M1113.1 2457.9h0M1133.4 2477.4h0M1120.2 2559h0" stroke="#F28E2B"/>
<path d="M890.1 2429.5h0M1037 2431.6h0M868.9 2440.1h0M841.5 2454.9h0M1011.6 2445.4h0M1011.6 2455.9h0M1025.4 2454.5h0M1048.6 2453.8h0M1082.5 2447.5h0M1087.7 2455.9h0M819.3 2462.3h0M828.4 2468.2h0M871.1 2462.3h0M897.5 2459.1h0M910.8 2466.5h0M886.9 2469.7h0M855.2 2472.8h0M898.5 2470.7h0M898.5 2480.2h0M807.6 2477.5h0M884.8 2483.4h0M1090.9 2475.6h0M1071.9 2462.3h0M795.4 2507.1h0M833 2500.3h0M851 2509.4h0M857.3 2509.4h0M840.8 2517.2h0M761.1 2532.7h0M827.1 2531.4h0M855.8 2524h0M858.4 2533.1h0M874.9 2534.2h0M793.3 2552.1h0M863.7 2548.5h0M874.7 2558.5h0M1076.1 2500.3h0M1086.7 2500.3h0M1077.2 2513h0M1052.9 2505.6h0M1062.4 2506.7h0M1062.4 2517.2h0M1079.3 2525.7h0M1076.1 2532h0M1057.1 2527.8h0M1063.4 2535.2h0M1060.3 2545.8h0M1079.7 2551.1h0M1048.6 2555.3h0M1057.1 2559.5h0M1046.5 2563.7h0M1032.8 2576.4h0M1059.6 2578.5h0M981 2515.1h0M934.5 2527.8h0M937.7 2532h0M913.3 2494h0M918.6 2494h0M989.4 2509.8h0" stroke="#BEBEBE"/>
<path d="M807 2428.5h0M849.9 2423.8h0M857.7 2427.8h0M836.2 2472.8h0M862.6 2465.4h0M863.7 2475.6h0M847.8 2481.3h0M875.9 2482.4h0M754.8 2492.5h0M833 2492.5h0M866.8 2494h0M826 2505.6h0M882.3 2506.7h0M885.9 2516.2h0M864.1 2531h0M874.2 2545.8h0M868.9 2573.7h0M882.7 2586.6h0M941.5 2586.6h0M934.5 2553.8h0M923.9 2525.7h0M901.7 2499.3h0" stroke="#4E79A7"/>
<path d="M1063.4 2462.3h0M1079.7 2463.3h0M1050.7 2477.5h0M1057.1 2476h0M1066.6 2479.2h0M1044.4 2520.8h0M1044.4 2532h0M1032.8 2543.7h0M1041.2 2546.2h0M1049.7 2546.2h0M1095.1 2558.5h0M879.5 2522.5h0M884.8 2565.9h0M914 2586.6h0M896.4 2586.6h0M1022.2 2580.7h0M1035.9 2513h0" stroke="#F28E2B"/>
<line x1="926.1" y1="2107.6" x2="926.1" y2="2608.4" stroke="#000" stroke-width="2.1" stroke-linecap="butt"/>
<line x1="989.2" y1="2107.6" x2="989.2" y2="2608.4" stroke="#000" stroke-width="2.1" stroke-linecap="butt"/>
<line x1="729.6" y1="2568.6" x2="1287.2" y2="2568.6" stroke="#000" stroke-width="2.1" stroke-linecap="butt"/>
<path d="M729.6 2107.6V2608.4H1287.2" fill="none" stroke="#000" stroke-width="2.1" stroke-linecap="butt" stroke-linejoin="miter"/>
<line x1="723.6" y1="2229" x2="729.6" y2="2229" stroke="#000" stroke-width="2.1" stroke-linecap="butt"/>
<text x="717.4" y="2236.8" font-size="20.3" text-anchor="end" fill="#4d4d4d">20</text>
<line x1="723.6" y1="2407.3" x2="729.6" y2="2407.3" stroke="#000" stroke-width="2.1" stroke-linecap="butt"/>
<text x="717.4" y="2415.1" font-size="20.3" text-anchor="end" fill="#4d4d4d">10</text>
<line x1="723.6" y1="2587.2" x2="729.6" y2="2587.2" stroke="#000" stroke-width="2.1" stroke-linecap="butt"/>
<text x="717.4" y="2595" font-size="20.3" text-anchor="end" fill="#4d4d4d">0</text>
<line x1="792.2" y1="2608.4" x2="792.2" y2="2614.4" stroke="#000" stroke-width="2.1" stroke-linecap="butt"/>
<text x="792.2" y="2635.6" font-size="20.3" text-anchor="middle" fill="#4d4d4d">-0.5</text>
<line x1="956.8" y1="2608.4" x2="956.8" y2="2614.4" stroke="#000" stroke-width="2.1" stroke-linecap="butt"/>
<text x="956.8" y="2635.6" font-size="20.3" text-anchor="middle" fill="#4d4d4d">0.0</text>
<line x1="1121.8" y1="2608.4" x2="1121.8" y2="2614.4" stroke="#000" stroke-width="2.1" stroke-linecap="butt"/>
<text x="1121.8" y="2635.6" font-size="20.3" text-anchor="middle" fill="#4d4d4d">0.5</text>
<line x1="1287.2" y1="2608.4" x2="1287.2" y2="2614.4" stroke="#000" stroke-width="2.1" stroke-linecap="butt"/>
<text x="1287.2" y="2635.6" font-size="20.3" text-anchor="middle" fill="#4d4d4d">1.0</text>
<text x="1217.6" y="2135.4" font-size="25.8" font-style="italic" text-anchor="middle" fill="#DB8C3F">Ifi27</text>
<text x="1157.9" y="2196.8" font-size="25.8" font-style="italic" text-anchor="middle" fill="#DB8C3F">AC149090.1</text>
<text x="1080" y="2365.5" font-size="25.8" font-style="italic" text-anchor="middle" fill="#DB8C3F">Dbx2</text>
<text x="1209.3" y="2351" font-size="25.8" font-style="italic" text-anchor="middle" fill="#DB8C3F">Mfge8</text>
<text x="1239.1" y="2434.7" font-size="25.8" font-style="italic" text-anchor="middle" fill="#DB8C3F">Mt1</text>
<text x="1090.3" y="2446.3" font-size="25.8" font-style="italic" text-anchor="middle" fill="#DB8C3F">Ifitm3</text>
<text x="1156.2" y="2507.3" font-size="25.8" font-style="italic" text-anchor="middle" fill="#DB8C3F">Ckb</text>
<text x="1144.2" y="2588.5" font-size="25.8" font-style="italic" text-anchor="middle" fill="#DB8C3F">Thrsp</text>
<text x="796.8" y="2354.3" font-size="25.8" font-style="italic" text-anchor="middle" fill="#4F7099">Hist3h2ba</text>
<text x="887.2" y="2395.3" font-size="25.8" font-style="italic" text-anchor="middle" fill="#4F7099">Rpa3</text>
<text x="815.5" y="2417.3" font-size="25.8" font-style="italic" text-anchor="middle" fill="#4F7099">Ndn</text>
<text x="784.8" y="2457.9" font-size="25.8" font-style="italic" text-anchor="middle" fill="#4F7099">Gad2</text>
<text x="919.9" y="2455.5" font-size="25.8" font-style="italic" text-anchor="middle" fill="#4F7099">Hist1h1d</text>
<text x="796.8" y="2494.8" font-size="25.8" font-style="italic" text-anchor="middle" fill="#4F7099">Hist1h2ae</text>
</g>
<g fill="none" stroke-width="10.2" stroke-linecap="round">
<text x="1615.1" y="2088.9" font-size="39.2" text-anchor="middle" fill="#1a1a1a">Neuroblast</text>
<path d="M1483 2571.9h0M1491.5 2565.3h0M1486.9 2558h0M1484.8 2571.2h0M1493 2573.1h0M1490 2557.6h0M1494.5 2575h0M1496.8 2549.7h0M1487.1 2567h0M1490.4 2553.2h0M1498.2 2577.7h0M1504.1 2580.3h0M1497.5 2565.3h0M1497.2 2578.8h0M1498.3 2572.9h0M1509.1 2583.9h0M1504.5 2585.2h0M1494.1 2544.3h0M1502.6 2557.1h0M1501.2 2568.9h0M1505 2558.2h0M1495.2 2554.6h0M1500.5 2569.1h0M1494.8 2560.8h0M1500.8 2578.7h0M1502.4 2559.8h0M1507.5 2566.5h0M1504.7 2584.2h0M1516.5 2575.2h0M1511.5 2562.2h0M1512 2556h0M1516.4 2564.2h0M1517.6 2574.9h0M1520.4 2558.3h0M1512 2554.3h0M1518.9 2550.6h0M1516.7 2581.2h0M1516.3 2548h0M1520.6 2589.2h0M1519.1 2569.7h0M1510.6 2552.3h0M1518.3 2592h0M1512.2 2560.2h0M1514.5 2552h0M1518.5 2586.2h0M1520.9 2576.2h0M1512.5 2582.6h0M1514 2566.9h0M1523 2563.8h0M1526.7 2573h0M1533.1 2562.5h0M1526.9 2590.6h0M1526.4 2560.9h0M1530.7 2562.4h0M1531.2 2583.4h0M1522.7 2566.4h0M1529.6 2579.4h0M1531 2561.4h0M1525.6 2558.4h0M1534.2 2584.5h0M1530.7 2556.5h0M1522.5 2557.6h0M1531.8 2577.9h0M1519.7 2574h0M1532.2 2561.2h0M1527.8 2581.2h0M1522.9 2586.7h0M1521.9 2591.1h0M1524 2551.7h0M1534.1 2591.1h0M1547.5 2581.9h0M1534.9 2573.7h0M1542.7 2565.8h0M1544 2565.4h0M1540.7 2565.5h0M1534.8 2556.8h0M1539.8 2576.2h0M1534.4 2573.3h0M1539.1 2564.6h0M1541.4 2566.8h0M1545.2 2565h0M1543.4 2574.9h0M1544.2 2585.8h0M1542.7 2574h0M1550.1 2589h0M1540.9 2582.7h0M1534.1 2578.3h0M1548 2585.9h0M1558.2 2577.1h0M1555.8 2587.5h0M1564.9 2580.5h0M1566.6 2572h0M1568.7 2581.9h0M1566.1 2568.7h0M1563.9 2568.6h0M1560.7 2582.5h0M1569.1 2581.6h0M1552.9 2578.7h0M1561.7 2585.6h0M1562.2 2590.5h0M1561.7 2565.1h0M1567.7 2573.5h0M1555.4 2594.1h0M1559.4 2584.8h0M1561.4 2575.9h0M1560.3 2572.5h0M1582.2 2590.8h0M1572 2586.8h0M1583.4 2573.2h0M1586.6 2568.7h0M1590.7 2575.6h0M1585.8 2582.7h0M1581.4 2590.7h0M1587.6 2568.7h0M1578.3 2572.9h0M1569 2567.8h0M1582.7 2578.3h0M1580.1 2570h0M1578.5 2580.3h0M1582 2582.5h0M1583.6 2582.1h0M1571.5 2584.7h0M1578.5 2584.2h0M1583.8 2579.1h0M1587.4 2585.9h0M1573.7 2569.2h0M1605.5 2576.1h0M1607.3 2583h0M1604 2571.3h0M1608.3 2573.8h0M1597.5 2580.2h0M1588.4 2596.4h0M1596.6 2572.7h0M1595.7 2584.2h0M1598.8 2586.8h0M1606.1 2592.8h0M1606.8 2579.1h0M1602.8 2580h0M1600.4 2578.2h0M1595.1 2581h0M1598.9 2590.4h0M1593.7 2577h0M1597.9 2588.8h0M1608.1 2580.6h0M1605.8 2570.5h0M1596.7 2576.5h0M1600.2 2581.6h0M1622.5 2570.4h0M1617.9 2583.6h0M1618.2 2570.9h0M1613.1 2567.3h0M1613 2587.6h0M1615.8 2577.7h0M1623.8 2564h0M1616.1 2573.3h0M1619.8 2565.7h0M1615.7 2581.7h0M1624.1 2560.8h0M1611.6 2584.4h0M1626.9 2564h0M1611.4 2587.8h0M1620.7 2567.2h0M1620.8 2569.2h0M1626 2557.6h0M1612.4 2580.9h0M1630 2585.6h0M1624.9 2555.4h0M1639.4 2575.3h0M1637.8 2566.2h0M1637 2572.6h0M1631.7 2558h0M1638.8 2581.7h0M1638.7 2584.2h0M1640.5 2583.9h0M1634.3 2572.4h0M1630.2 2559.3h0M1645.6 2583.8h0M1635.9 2568.6h0M1640.7 2557.7h0M1637.1 2574.8h0M1632.8 2562h0M1631.5 2551.6h0M1641.6 2559.5h0M1639.1 2577.9h0M1639.7 2551.5h0M1632.5 2554.5h0M1648.5 2553.1h0M1652.2 2572.8h0M1655.6 2575.5h0M1647.1 2560.2h0M1643.8 2554.5h0M1655.5 2560.7h0M1654.7 2578.7h0M1650.8 2576.2h0M1656.1 2576.1h0M1651.6 2555.1h0M1647.8 2561.4h0M1657.4 2581.6h0M1658.1 2568.4h0M1647.1 2559.8h0M1646.9 2560.4h0M1644.9 2557.6h0M1652 2561.6h0M1659 2570.8h0M1659.3 2563.4h0M1660.9 2576.1h0M1657.3 2558.3h0M1491.6 2565.2h0M1489.3 2560.2h0M1488.4 2569.5h0M1495.2 2573.1h0M1494.1 2564.1h0M1495.1 2564.9h0M1493.1 2561.8h0M1490 2557.2h0M1485.7 2558.5h0M1496.8 2567h0M1493.6 2555.8h0M1499.8 2572.6h0M1500.1 2567.2h0M1499.3 2564.6h0M1500 2579.3h0M1502.9 2561.1h0M1496.7 2564.9h0M1508.7 2577.2h0M1507 2555.4h0M1503.5 2564.4h0M1501.6 2556.5h0M1503.3 2556.3h0M1510.7 2576.7h0M1500.1 2569.3h0M1520.4 2575.8h0M1510.8 2568.8h0M1517.3 2566h0M1511 2569.6h0M1510.7 2578h0M1510.8 2566.8h0M1513.3 2556.6h0M1516.9 2565.7h0M1518.3 2587.3h0M1517.6 2567.5h0M1506.4 2565.6h0M1513.9 2566.5h0M1523.5 2564.8h0M1517.7 2561.2h0M1515.6 2582.4h0M1512.8 2567.8h0M1509.9 2571.7h0M1511.8 2580.5h0M1525.6 2558.3h0M1535.3 2562.7h0M1530.1 2565.9h0M1527.3 2572.5h0M1532.4 2569.3h0M1526.8 2576.3h0M1528.6 2575.5h0M1530.3 2555h0M1533 2571.6h0M1533.3 2569.2h0M1520.7 2575.5h0M1530.1 2560.4h0M1531.5 2566h0M1535.1 2556.7h0M1525.5 2554.8h0M1522.1 2585.9h0M1533.6 2581.6h0M1529.9 2579.6h0M1533.7 2566.9h0M1529.3 2565.3h0M1545.2 2584.1h0M1535.5 2580.7h0M1550.7 2574.6h0M1533.6 2576.6h0M1542.6 2572.8h0M1540.6 2567.4h0M1543.2 2569.6h0M1538.6 2578.2h0M1533.4 2567.5h0M1541.6 2575.9h0M1536.6 2576.3h0M1544 2564.7h0M1539 2565.3h0M1538.7 2573.5h0M1548.2 2568.8h0M1559.1 2587.2h0M1558 2570.4h0M1556.8 2579.1h0M1554.2 2579.6h0M1553.2 2574.1h0M1557.3 2578.5h0M1558.5 2585.4h0M1552.6 2584.4h0M1566.8 2572.5h0M1557.4 2577.8h0M1563.4 2585.3h0M1564.1 2582.6h0M1565.5 2581.8h0M1550.7 2585.2h0M1558 2574.2h0M1553.8 2584.7h0M1576.7 2590.8h0M1575.3 2586.6h0M1573.2 2580.4h0M1569.8 2578.8h0M1578.1 2588.7h0M1580.3 2577.1h0M1584.2 2578.7h0M1587.6 2585.2h0M1574.2 2570.3h0M1574 2579.5h0M1576 2568.5h0M1575.8 2582.3h0M1589.4 2573.8h0M1588.1 2585.1h0M1571.4 2590.9h0M1571.5 2568.4h0M1582 2580.9h0M1585.6 2581.2h0M1593.7 2579.1h0M1595.7 2581.4h0M1598.8 2579.6h0M1611.7 2569.5h0M1595.7 2589.8h0M1598.2 2588.2h0M1595.9 2577.1h0M1602.7 2575.6h0M1600.6 2582.9h0M1598.8 2580h0M1593.7 2584.2h0M1595.5 2582.3h0M1603.2 2582.3h0M1609.4 2581h0M1595.7 2575.4h0M1597.5 2575.9h0M1599 2575.6h0M1605.6 2591.6h0M1625.2 2572.4h0M1617 2569.5h0M1619 2573.5h0M1628.3 2569.7h0M1621.6 2565.5h0M1628 2559.8h0M1620.2 2577h0M1620.4 2582.1h0M1619.6 2573.2h0M1613.5 2589.3h0M1623.7 2569.1h0M1626.6 2584.5h0M1618.4 2577.4h0M1617.9 2570.6h0M1622 2583.4h0M1622.7 2585.9h0M1626.1 2574.5h0M1639.9 2561.6h0M1643 2566.4h0M1635.9 2557.5h0M1632.8 2559.7h0M1638.4 2562.3h0M1630.8 2573h0M1631.1 2567.2h0M1642.3 2559.5h0M1627 2572.2h0M1644.7 2567.3h0M1638.3 2569.8h0M1633.3 2577h0M1637 2569.3h0M1628.6 2571h0M1630.3 2566.6h0M1632.7 2568h0M1647.9 2557h0M1657.2 2576.9h0M1655.3 2576.4h0M1646.5 2565h0M1644 2570.1h0M1651.4 2565.5h0M1652.7 2568.4h0M1649.4 2560.2h0M1656 2570.6h0M1657.2 2574.9h0M1647.5 2560.6h0M1647.7 2558.7h0M1647 2558.9h0M1647.7 2571.3h0M1648.2 2575.6h0M1655.9 2567.3h0M1661.8 2564.5h0M1664.1 2566.2h0M1661.5 2572.1h0M1662.5 2563.1h0M1636.6 2565.3h0M1643.6 2565.9h0M1643.9 2570.3h0M1660.9 2564.8h0M1629.3 2566.2h0M1658.5 2573.1h0" stroke="#BEBEBE"/>
<path d="M1523.4 2569h0" stroke="#4E79A7"/>
<path d="M1522.1 2572.1h0" stroke="#BEBEBE"/>
<path d="M1534 2577.7h0" stroke="#4E79A7"/>
<path d="M1534.9 2579.4h0" stroke="#BEBEBE"/>
<path d="M1550.7 2564.9h0" stroke="#4E79A7"/>
<path d="M1549.3 2561.9h0" stroke="#BEBEBE"/>
<path d="M1498.7 2556.6h0" stroke="#4E79A7"/>
<path d="M1498.4 2558.2h0" stroke="#BEBEBE"/>
<path d="M1539.9 2571h0" stroke="#4E79A7"/>
<path d="M1538.2 2568.5h0" stroke="#BEBEBE"/>
<path d="M1503.3 2560.3h0" stroke="#4E79A7"/>
<path d="M1502.4 2558h0" stroke="#BEBEBE"/>
<path d="M1535.9 2569.7h0" stroke="#4E79A7"/>
<path d="M1537 2567.6h0" stroke="#BEBEBE"/>
<path d="M1499.4 2564.3h0" stroke="#4E79A7"/>
<path d="M1500 2561.9h0" stroke="#BEBEBE"/>
<path d="M1496.6 2573.2h0" stroke="#4E79A7"/>
<path d="M1495.3 2575h0" stroke="#BEBEBE"/>
<path d="M1522.2 2563.5h0" stroke="#4E79A7"/>
<path d="M1520.8 2565.6h0" stroke="#BEBEBE"/>
<path d="M1552 2564.8h0" stroke="#4E79A7"/>
<path d="M1552.9 2567.3h0" stroke="#BEBEBE"/>
<path d="M1528.2 2571.9h0" stroke="#4E79A7"/>
<path d="M1526.7 2574.6h0" stroke="#BEBEBE"/>
<path d="M1506.4 2560.6h0" stroke="#4E79A7"/>
<path d="M1506.6 2557.6h0" stroke="#BEBEBE"/>
<path d="M1660.1 2565.5h0M1657 2562.8h0M1643.7 2572.1h0M1630.6 2558.7h0M1654.8 2572.5h0M1659 2565h0M1639.4 2563.4h0M1654.9 2571.9h0M1656.4 2563.3h0M1655.8 2560.9h0M1914.4 2135.8h0" stroke="#F28E2B"/>
<path d="M1495.7 2483.8h0M1469.7 2493.5h0M1496.3 2506h0M1547.1 2511.2h0M1428.7 2528.4h0M1487.2 2535.1h0M1473.9 2545.1h0M1468.8 2555.6h0M1406.9 2561.6h0M1461.9 2572.5h0M1437.6 2579.9h0M1443.3 2588h0M1481.3 2588.6h0M1690.6 2485.4h0M1670.7 2517.6h0M1653.8 2533.6h0M1712.4 2532.4h0M1719.8 2535.1h0M1724.6 2529.4h0M1687 2543.6h0M1675.4 2547.8h0M1669 2549.9h0M1690.2 2555.2h0M1704.3 2571.1h0M1666.9 2581.6h0M1679.6 2581.6h0M1680.7 2585.9h0M1575.6 2565.8h0M1601.4 2564.7h0M1497.8 2528.8h0M1504.2 2523.5h0M1511.6 2523.5h0M1516.8 2528.8h0M1522.1 2532h0M1520 2541.5h0M1501 2543.6h0M1507.3 2545.7h0" stroke="#BEBEBE"/>
<path d="M1441.2 2496.7h0M1467.6 2538.3h0M1482 2561.6h0M1423.8 2571.1h0M1445.4 2570h0M1469.3 2572.1h0M1486.8 2572.8h0M1528.5 2557.3h0" stroke="#4E79A7"/>
<path d="M1738.4 2507.6h0M1694.4 2545.1h0M1672.2 2543.6h0M1680.7 2559h0M1639 2588.6h0M1724 2585.9h0" stroke="#F28E2B"/>
<line x1="1538.4" y1="2113.4" x2="1538.4" y2="2614.2" stroke="#000" stroke-width="2.1" stroke-linecap="butt"/>
<line x1="1605.5" y1="2113.4" x2="1605.5" y2="2614.2" stroke="#000" stroke-width="2.1" stroke-linecap="butt"/>
<line x1="1382.1" y1="2583.9" x2="1939.7" y2="2583.9" stroke="#000" stroke-width="2.1" stroke-linecap="butt"/>
<path d="M1382.1 2113.4V2614.2H1939.7" fill="none" stroke="#000" stroke-width="2.1" stroke-linecap="butt" stroke-linejoin="miter"/>
<line x1="1376.1" y1="2139.5" x2="1382.1" y2="2139.5" stroke="#000" stroke-width="2.1" stroke-linecap="butt"/>
<text x="1369.9" y="2147.3" font-size="20.3" text-anchor="end" fill="#4d4d4d">60</text>
<line x1="1376.1" y1="2290.4" x2="1382.1" y2="2290.4" stroke="#000" stroke-width="2.1" stroke-linecap="butt"/>
<text x="1369.9" y="2298.2" font-size="20.3" text-anchor="end" fill="#4d4d4d">40</text>
<line x1="1376.1" y1="2441.3" x2="1382.1" y2="2441.3" stroke="#000" stroke-width="2.1" stroke-linecap="butt"/>
<text x="1369.9" y="2449.1" font-size="20.3" text-anchor="end" fill="#4d4d4d">20</text>
<line x1="1376.1" y1="2592.2" x2="1382.1" y2="2592.2" stroke="#000" stroke-width="2.1" stroke-linecap="butt"/>
<text x="1369.9" y="2600" font-size="20.3" text-anchor="end" fill="#4d4d4d">0</text>
<line x1="1396.2" y1="2614.2" x2="1396.2" y2="2620.2" stroke="#000" stroke-width="2.1" stroke-linecap="butt"/>
<text x="1396.2" y="2641.4" font-size="20.3" text-anchor="middle" fill="#4d4d4d">-0.5</text>
<line x1="1572" y1="2614.2" x2="1572" y2="2620.2" stroke="#000" stroke-width="2.1" stroke-linecap="butt"/>
<text x="1572" y="2641.4" font-size="20.3" text-anchor="middle" fill="#4d4d4d">0.0</text>
<line x1="1748.1" y1="2614.2" x2="1748.1" y2="2620.2" stroke="#000" stroke-width="2.1" stroke-linecap="butt"/>
<text x="1748.1" y="2641.4" font-size="20.3" text-anchor="middle" fill="#4d4d4d">0.5</text>
<line x1="1923.9" y1="2614.2" x2="1923.9" y2="2620.2" stroke="#000" stroke-width="2.1" stroke-linecap="butt"/>
<text x="1923.9" y="2641.4" font-size="20.3" text-anchor="middle" fill="#4d4d4d">1.0</text>
<text x="1831.1" y="2145" font-size="25.8" font-style="italic" text-anchor="middle" fill="#DB8C3F">AC149090.1</text>
<text x="1761" y="2496.5" font-size="25.8" font-style="italic" text-anchor="middle" fill="#DB8C3F">Ifi27</text>
<text x="1419" y="2486.1" font-size="25.8" font-style="italic" text-anchor="middle" fill="#4F7099">Ndn</text>
</g>
</svg>
</body></html>
